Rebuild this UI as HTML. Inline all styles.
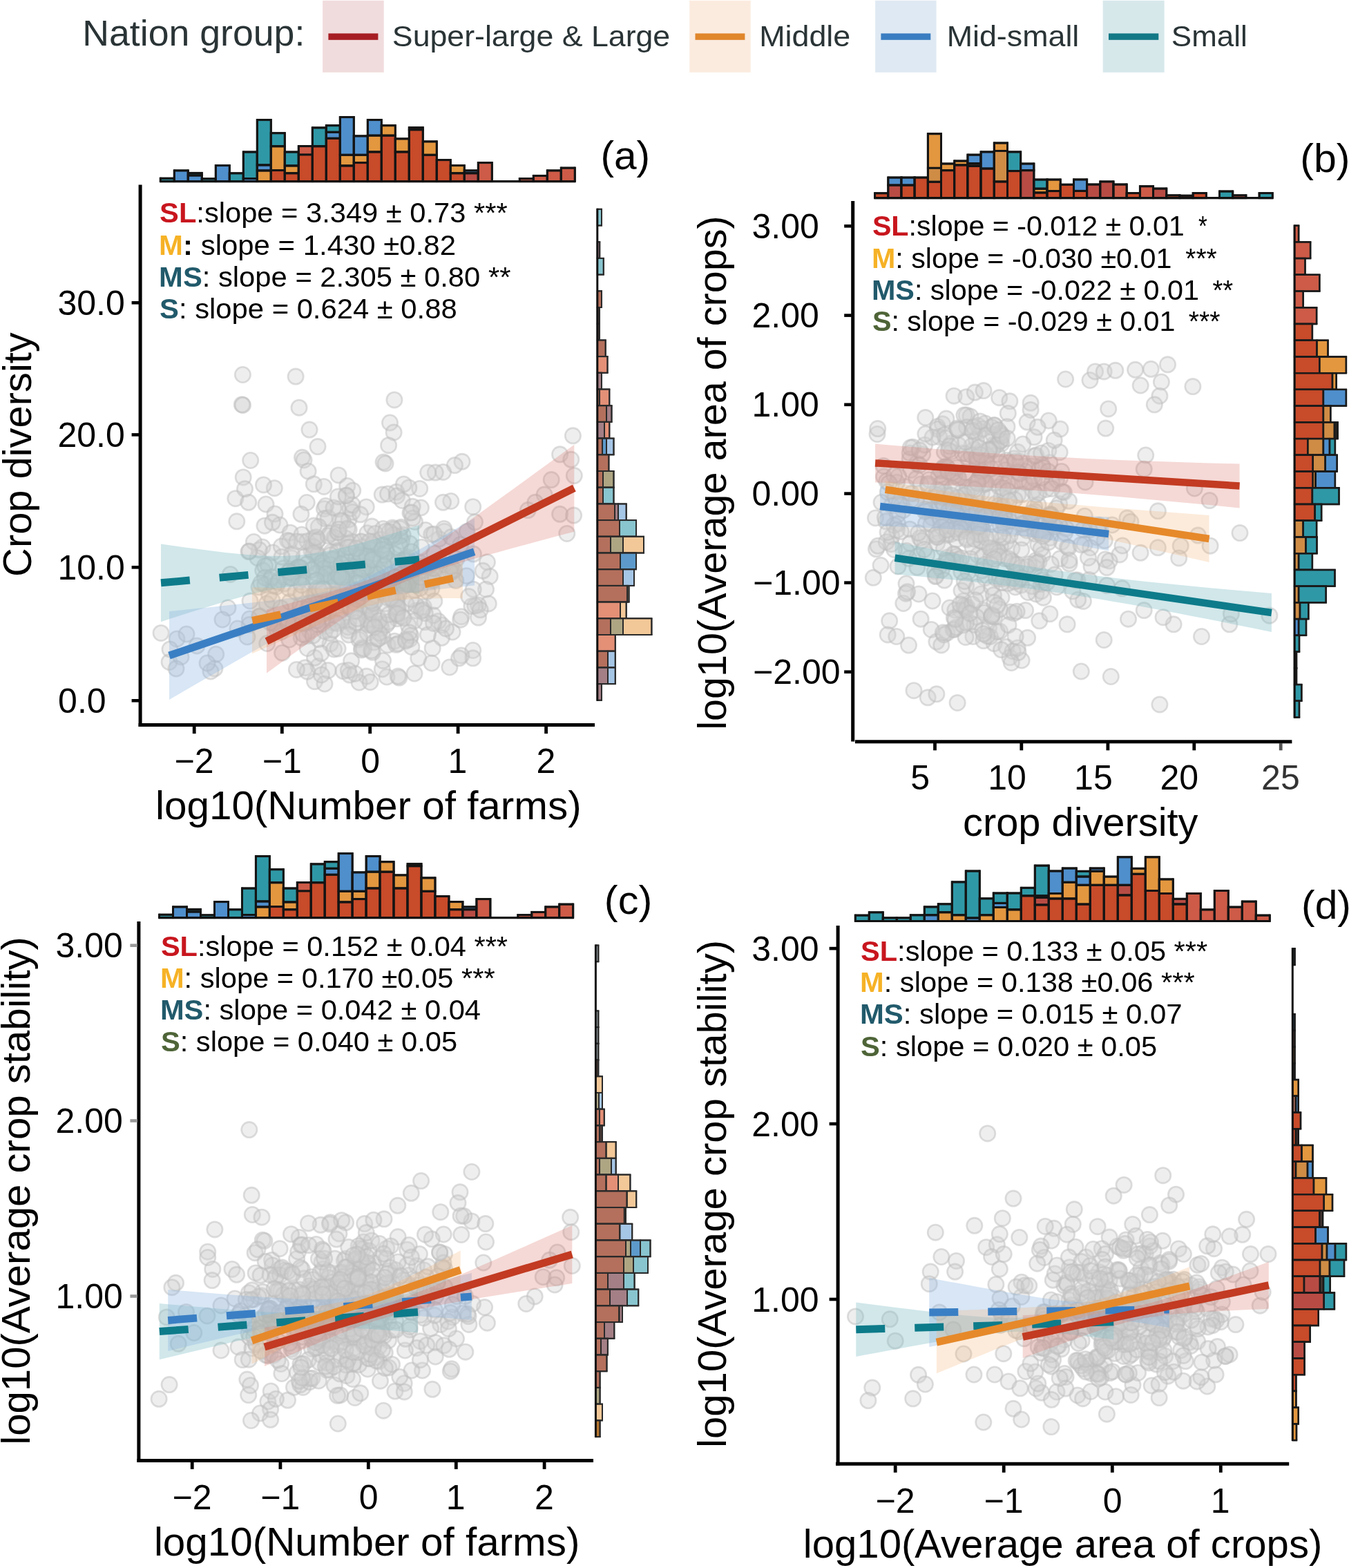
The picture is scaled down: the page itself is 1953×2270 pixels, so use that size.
<!DOCTYPE html>
<html><head><meta charset="utf-8"><title>Crop diversity figure</title>
<style>
html,body{margin:0;padding:0;background:#fff;}
body{width:1953px;height:2270px;overflow:hidden;}
svg{display:block;}
text{white-space:pre;}
</style></head>
<body>
<svg width="1953" height="2270" viewBox="0 0 1953 2270" font-family="'Liberation Sans', Arial, Helvetica, sans-serif">
<rect width="1953" height="2270" fill="#fff"/>
<text transform="translate(119.29 66.00) scale(1.0519 1)" font-size="51.00" fill="#2a3436"><tspan>Nation group:</tspan></text>
<rect x="467.1" y="0.8" width="88.6" height="104" fill="#f1dcdd"/>
<rect x="475.4" y="48.4" width="72.0" height="9.4" fill="#a61e23"/>
<text transform="translate(567.84 66.80) scale(1.0639 1)" font-size="42.00" fill="#2a3436"><tspan>Super-large &amp; Large</tspan></text>
<rect x="998.2" y="0.8" width="88.5" height="104" fill="#fbebdf"/>
<rect x="1006.5" y="48.4" width="71.9" height="9.4" fill="#e0862b"/>
<text transform="translate(1099.20 66.80) scale(1.0673 1)" font-size="42.00" fill="#2a3436"><tspan>Middle</tspan></text>
<rect x="1267.1" y="0.8" width="88.5" height="104" fill="#dfe9f3"/>
<rect x="1275.4" y="48.4" width="71.9" height="9.4" fill="#3a7dc1"/>
<text transform="translate(1370.70 66.80) scale(1.0669 1)" font-size="42.00" fill="#2a3436"><tspan>Mid-small</tspan></text>
<rect x="1596.7" y="0.8" width="88.9" height="104" fill="#d7e8eb"/>
<rect x="1605.0" y="48.4" width="72.3" height="9.4" fill="#127886"/>
<text transform="translate(1695.85 66.80) scale(1.0473 1)" font-size="42.00" fill="#2a3436"><tspan>Small</tspan></text>
<g stroke="#141414" stroke-width="2.90"><rect x="232.30" y="258.20" width="20.00" height="4.40" fill="#2f98a6"/><line x1="232.30" y1="258.20" x2="252.30" y2="258.20"/><line x1="232.30" y1="256.75" x2="232.30" y2="262.60"/><line x1="252.30" y1="256.75" x2="252.30" y2="262.60"/><rect x="252.30" y="246.90" width="20.00" height="15.70" fill="#4f8fcc"/><line x1="252.30" y1="246.90" x2="272.30" y2="246.90"/><line x1="252.30" y1="245.45" x2="252.30" y2="262.60"/><line x1="272.30" y1="245.45" x2="272.30" y2="262.60"/><rect x="272.30" y="250.40" width="20.00" height="3.60" fill="#2f98a6"/><rect x="272.30" y="254.00" width="20.00" height="8.60" fill="#4f8fcc"/><line x1="272.30" y1="250.40" x2="292.30" y2="250.40"/><line x1="272.30" y1="254.00" x2="292.30" y2="254.00"/><line x1="272.30" y1="248.95" x2="272.30" y2="262.60"/><line x1="292.30" y1="248.95" x2="292.30" y2="262.60"/><rect x="292.30" y="258.80" width="20.00" height="3.80" fill="#2f98a6"/><line x1="292.30" y1="258.80" x2="312.30" y2="258.80"/><line x1="292.30" y1="257.35" x2="292.30" y2="262.60"/><line x1="312.30" y1="257.35" x2="312.30" y2="262.60"/><rect x="312.30" y="239.60" width="20.00" height="23.00" fill="#4f8fcc"/><line x1="312.30" y1="239.60" x2="332.30" y2="239.60"/><line x1="312.30" y1="238.15" x2="312.30" y2="262.60"/><line x1="332.30" y1="238.15" x2="332.30" y2="262.60"/><rect x="332.30" y="250.80" width="20.00" height="11.80" fill="#2f98a6"/><line x1="332.30" y1="250.80" x2="352.30" y2="250.80"/><line x1="332.30" y1="249.35" x2="332.30" y2="262.60"/><line x1="352.30" y1="249.35" x2="352.30" y2="262.60"/><rect x="352.30" y="220.00" width="20.00" height="38.50" fill="#2f98a6"/><rect x="352.30" y="258.50" width="20.00" height="4.10" fill="#4f8fcc"/><line x1="352.30" y1="220.00" x2="372.30" y2="220.00"/><line x1="352.30" y1="258.50" x2="372.30" y2="258.50"/><line x1="352.30" y1="218.55" x2="352.30" y2="262.60"/><line x1="372.30" y1="218.55" x2="372.30" y2="262.60"/><rect x="372.30" y="173.60" width="20.00" height="65.40" fill="#2f98a6"/><rect x="372.30" y="239.00" width="20.00" height="8.00" fill="#4f8fcc"/><rect x="372.30" y="247.00" width="20.00" height="15.60" fill="#e3973f"/><line x1="372.30" y1="173.60" x2="392.30" y2="173.60"/><line x1="372.30" y1="239.00" x2="392.30" y2="239.00"/><line x1="372.30" y1="247.00" x2="392.30" y2="247.00"/><line x1="372.30" y1="172.15" x2="372.30" y2="262.60"/><line x1="392.30" y1="172.15" x2="392.30" y2="262.60"/><rect x="392.30" y="192.70" width="20.00" height="19.10" fill="#2f98a6"/><rect x="392.30" y="211.80" width="20.00" height="34.80" fill="#e3973f"/><rect x="392.30" y="246.60" width="20.00" height="16.00" fill="#c84b2a"/><line x1="392.30" y1="192.70" x2="412.30" y2="192.70"/><line x1="392.30" y1="211.80" x2="412.30" y2="211.80"/><line x1="392.30" y1="246.60" x2="412.30" y2="246.60"/><line x1="392.30" y1="191.25" x2="392.30" y2="262.60"/><line x1="412.30" y1="191.25" x2="412.30" y2="262.60"/><rect x="412.30" y="220.00" width="20.00" height="20.00" fill="#2f98a6"/><rect x="412.30" y="240.00" width="20.00" height="10.80" fill="#e3973f"/><rect x="412.30" y="250.80" width="20.00" height="11.80" fill="#c84b2a"/><line x1="412.30" y1="220.00" x2="432.30" y2="220.00"/><line x1="412.30" y1="240.00" x2="432.30" y2="240.00"/><line x1="412.30" y1="250.80" x2="432.30" y2="250.80"/><line x1="412.30" y1="218.55" x2="412.30" y2="262.60"/><line x1="432.30" y1="218.55" x2="432.30" y2="262.60"/><rect x="432.30" y="211.60" width="20.00" height="12.40" fill="#cd5b47"/><rect x="432.30" y="224.00" width="20.00" height="38.60" fill="#c84b2a"/><line x1="432.30" y1="211.60" x2="452.30" y2="211.60"/><line x1="432.30" y1="210.15" x2="432.30" y2="262.60"/><line x1="452.30" y1="210.15" x2="452.30" y2="262.60"/><rect x="452.30" y="184.90" width="20.00" height="26.90" fill="#2f98a6"/><rect x="452.30" y="211.80" width="20.00" height="50.80" fill="#c84b2a"/><line x1="452.30" y1="184.90" x2="472.30" y2="184.90"/><line x1="452.30" y1="211.80" x2="472.30" y2="211.80"/><line x1="452.30" y1="183.45" x2="452.30" y2="262.60"/><line x1="472.30" y1="183.45" x2="472.30" y2="262.60"/><rect x="472.30" y="181.70" width="20.00" height="9.60" fill="#2f98a6"/><rect x="472.30" y="191.30" width="20.00" height="9.00" fill="#4f8fcc"/><rect x="472.30" y="200.30" width="20.00" height="62.30" fill="#c84b2a"/><line x1="472.30" y1="181.70" x2="492.30" y2="181.70"/><line x1="472.30" y1="191.30" x2="492.30" y2="191.30"/><line x1="472.30" y1="200.30" x2="492.30" y2="200.30"/><line x1="472.30" y1="180.25" x2="472.30" y2="262.60"/><line x1="492.30" y1="180.25" x2="492.30" y2="262.60"/><rect x="492.30" y="169.60" width="20.00" height="54.70" fill="#4f8fcc"/><rect x="492.30" y="224.30" width="20.00" height="15.70" fill="#e3973f"/><rect x="492.30" y="240.00" width="20.00" height="22.60" fill="#c84b2a"/><line x1="492.30" y1="169.60" x2="512.30" y2="169.60"/><line x1="492.30" y1="224.30" x2="512.30" y2="224.30"/><line x1="492.30" y1="240.00" x2="512.30" y2="240.00"/><line x1="492.30" y1="168.15" x2="492.30" y2="262.60"/><line x1="512.30" y1="168.15" x2="512.30" y2="262.60"/><rect x="512.30" y="196.90" width="20.00" height="27.40" fill="#4f8fcc"/><rect x="512.30" y="224.30" width="20.00" height="11.30" fill="#e3973f"/><rect x="512.30" y="235.60" width="20.00" height="27.00" fill="#c84b2a"/><line x1="512.30" y1="196.90" x2="532.30" y2="196.90"/><line x1="512.30" y1="224.30" x2="532.30" y2="224.30"/><line x1="512.30" y1="235.60" x2="532.30" y2="235.60"/><line x1="512.30" y1="195.45" x2="512.30" y2="262.60"/><line x1="532.30" y1="195.45" x2="532.30" y2="262.60"/><rect x="532.30" y="173.60" width="20.00" height="22.60" fill="#4f8fcc"/><rect x="532.30" y="196.20" width="20.00" height="23.80" fill="#e3973f"/><rect x="532.30" y="220.00" width="20.00" height="42.60" fill="#c84b2a"/><line x1="532.30" y1="173.60" x2="552.30" y2="173.60"/><line x1="532.30" y1="196.20" x2="552.30" y2="196.20"/><line x1="532.30" y1="220.00" x2="552.30" y2="220.00"/><line x1="532.30" y1="172.15" x2="532.30" y2="262.60"/><line x1="552.30" y1="172.15" x2="552.30" y2="262.60"/><rect x="552.30" y="181.70" width="20.00" height="14.50" fill="#e3973f"/><rect x="552.30" y="196.20" width="20.00" height="66.40" fill="#c84b2a"/><line x1="552.30" y1="181.70" x2="572.30" y2="181.70"/><line x1="552.30" y1="196.20" x2="572.30" y2="196.20"/><line x1="552.30" y1="180.25" x2="552.30" y2="262.60"/><line x1="572.30" y1="180.25" x2="572.30" y2="262.60"/><rect x="572.30" y="200.90" width="20.00" height="19.10" fill="#e3973f"/><rect x="572.30" y="220.00" width="20.00" height="42.60" fill="#c84b2a"/><line x1="572.30" y1="200.90" x2="592.30" y2="200.90"/><line x1="572.30" y1="220.00" x2="592.30" y2="220.00"/><line x1="572.30" y1="199.45" x2="572.30" y2="262.60"/><line x1="592.30" y1="199.45" x2="592.30" y2="262.60"/><rect x="592.30" y="184.70" width="20.00" height="3.10" fill="#e3973f"/><rect x="592.30" y="187.80" width="20.00" height="74.80" fill="#c84b2a"/><line x1="592.30" y1="184.70" x2="612.30" y2="184.70"/><line x1="592.30" y1="187.80" x2="612.30" y2="187.80"/><line x1="592.30" y1="183.25" x2="592.30" y2="262.60"/><line x1="612.30" y1="183.25" x2="612.30" y2="262.60"/><rect x="612.30" y="204.90" width="20.00" height="19.40" fill="#e3973f"/><rect x="612.30" y="224.30" width="20.00" height="38.30" fill="#c84b2a"/><line x1="612.30" y1="204.90" x2="632.30" y2="204.90"/><line x1="612.30" y1="224.30" x2="632.30" y2="224.30"/><line x1="612.30" y1="203.45" x2="612.30" y2="262.60"/><line x1="632.30" y1="203.45" x2="632.30" y2="262.60"/><rect x="632.30" y="231.60" width="20.00" height="31.00" fill="#c84b2a"/><line x1="632.30" y1="231.60" x2="652.30" y2="231.60"/><line x1="632.30" y1="230.15" x2="632.30" y2="262.60"/><line x1="652.30" y1="230.15" x2="652.30" y2="262.60"/><rect x="652.30" y="239.60" width="20.00" height="11.20" fill="#e3973f"/><rect x="652.30" y="250.80" width="20.00" height="11.80" fill="#c84b2a"/><line x1="652.30" y1="239.60" x2="672.30" y2="239.60"/><line x1="652.30" y1="250.80" x2="672.30" y2="250.80"/><line x1="652.30" y1="238.15" x2="652.30" y2="262.60"/><line x1="672.30" y1="238.15" x2="672.30" y2="262.60"/><rect x="672.30" y="246.90" width="20.00" height="3.90" fill="#4f8fcc"/><rect x="672.30" y="250.80" width="20.00" height="11.80" fill="#b84c44"/><line x1="672.30" y1="246.90" x2="692.30" y2="246.90"/><line x1="672.30" y1="250.80" x2="692.30" y2="250.80"/><line x1="672.30" y1="245.45" x2="672.30" y2="262.60"/><line x1="692.30" y1="245.45" x2="692.30" y2="262.60"/><rect x="692.30" y="235.60" width="20.00" height="27.00" fill="#cd5b47"/><line x1="692.30" y1="235.60" x2="712.30" y2="235.60"/><line x1="692.30" y1="234.15" x2="692.30" y2="262.60"/><line x1="712.30" y1="234.15" x2="712.30" y2="262.60"/><rect x="752.30" y="258.60" width="20.00" height="4.00" fill="#cd5b47"/><line x1="752.30" y1="258.60" x2="772.30" y2="258.60"/><line x1="752.30" y1="257.15" x2="752.30" y2="262.60"/><line x1="772.30" y1="257.15" x2="772.30" y2="262.60"/><rect x="772.30" y="254.40" width="20.00" height="8.20" fill="#cd5b47"/><line x1="772.30" y1="254.40" x2="792.30" y2="254.40"/><line x1="772.30" y1="252.95" x2="772.30" y2="262.60"/><line x1="792.30" y1="252.95" x2="792.30" y2="262.60"/><rect x="792.30" y="246.90" width="20.00" height="15.70" fill="#cd5b47"/><line x1="792.30" y1="246.90" x2="812.30" y2="246.90"/><line x1="792.30" y1="245.45" x2="792.30" y2="262.60"/><line x1="812.30" y1="245.45" x2="812.30" y2="262.60"/><rect x="812.30" y="243.10" width="20.00" height="19.50" fill="#cd5b47"/><line x1="812.30" y1="243.10" x2="832.30" y2="243.10"/><line x1="812.30" y1="241.65" x2="812.30" y2="262.60"/><line x1="832.30" y1="241.65" x2="832.30" y2="262.60"/></g>
<line x1="231.30" y1="262.60" x2="833.30" y2="262.60" stroke="#111" stroke-width="3.2"/>
<g stroke="#2a2a2a" stroke-width="2.00"><rect x="864.80" y="302.80" width="6.20" height="23.70" fill="#88c5cf"/><line x1="871.00" y1="302.80" x2="871.00" y2="326.50"/><line x1="864.80" y1="302.80" x2="872.00" y2="302.80"/><line x1="864.80" y1="326.50" x2="872.00" y2="326.50"/><rect x="864.80" y="350.20" width="3.40" height="23.70" fill="#a47f86"/><line x1="868.20" y1="350.20" x2="868.20" y2="373.90"/><line x1="864.80" y1="350.20" x2="869.20" y2="350.20"/><line x1="864.80" y1="373.90" x2="869.20" y2="373.90"/><rect x="864.80" y="373.90" width="9.00" height="23.70" fill="#88c5cf"/><line x1="873.80" y1="373.90" x2="873.80" y2="397.60"/><line x1="864.80" y1="373.90" x2="874.80" y2="373.90"/><line x1="864.80" y1="397.60" x2="874.80" y2="397.60"/><rect x="864.80" y="421.30" width="6.20" height="23.70" fill="#b4705c"/><line x1="871.00" y1="421.30" x2="871.00" y2="445.00"/><line x1="864.80" y1="421.30" x2="872.00" y2="421.30"/><line x1="864.80" y1="445.00" x2="872.00" y2="445.00"/><rect x="864.80" y="445.00" width="3.20" height="23.70" fill="#4a3a35"/><line x1="868.00" y1="445.00" x2="868.00" y2="468.70"/><line x1="864.80" y1="445.00" x2="869.00" y2="445.00"/><line x1="864.80" y1="468.70" x2="869.00" y2="468.70"/><rect x="864.80" y="468.70" width="3.20" height="23.70" fill="#4a3a35"/><line x1="868.00" y1="468.70" x2="868.00" y2="492.40"/><line x1="864.80" y1="468.70" x2="869.00" y2="468.70"/><line x1="864.80" y1="492.40" x2="869.00" y2="492.40"/><rect x="864.80" y="492.40" width="11.90" height="23.70" fill="#b4705c"/><line x1="876.70" y1="492.40" x2="876.70" y2="516.10"/><line x1="864.80" y1="492.40" x2="877.70" y2="492.40"/><line x1="864.80" y1="516.10" x2="877.70" y2="516.10"/><rect x="864.80" y="516.10" width="14.70" height="23.70" fill="#e39077"/><line x1="879.50" y1="516.10" x2="879.50" y2="539.80"/><line x1="864.80" y1="516.10" x2="880.50" y2="516.10"/><line x1="864.80" y1="539.80" x2="880.50" y2="539.80"/><rect x="864.80" y="539.80" width="6.20" height="23.70" fill="#a47f86"/><line x1="871.00" y1="539.80" x2="871.00" y2="563.50"/><line x1="864.80" y1="539.80" x2="872.00" y2="539.80"/><line x1="864.80" y1="563.50" x2="872.00" y2="563.50"/><rect x="864.80" y="563.50" width="3.20" height="23.70" fill="#b4705c"/><rect x="868.00" y="563.50" width="14.30" height="23.70" fill="#e39077"/><line x1="868.00" y1="563.50" x2="868.00" y2="587.20"/><line x1="882.30" y1="563.50" x2="882.30" y2="587.20"/><line x1="864.80" y1="563.50" x2="883.30" y2="563.50"/><line x1="864.80" y1="587.20" x2="883.30" y2="587.20"/><rect x="864.80" y="587.20" width="13.20" height="23.70" fill="#b4705c"/><rect x="878.00" y="587.20" width="7.50" height="23.70" fill="#a47f86"/><line x1="878.00" y1="587.20" x2="878.00" y2="610.90"/><line x1="885.50" y1="587.20" x2="885.50" y2="610.90"/><line x1="864.80" y1="587.20" x2="886.50" y2="587.20"/><line x1="864.80" y1="610.90" x2="886.50" y2="610.90"/><rect x="864.80" y="610.90" width="10.20" height="23.70" fill="#a47f86"/><rect x="875.00" y="610.90" width="7.30" height="23.70" fill="#e39077"/><line x1="875.00" y1="610.90" x2="875.00" y2="634.60"/><line x1="882.30" y1="610.90" x2="882.30" y2="634.60"/><line x1="864.80" y1="610.90" x2="883.30" y2="610.90"/><line x1="864.80" y1="634.60" x2="883.30" y2="634.60"/><rect x="864.80" y="634.60" width="7.20" height="23.70" fill="#b4705c"/><rect x="872.00" y="634.60" width="6.00" height="23.70" fill="#5d9acb"/><rect x="878.00" y="634.60" width="10.50" height="23.70" fill="#a6c6e6"/><line x1="872.00" y1="634.60" x2="872.00" y2="658.30"/><line x1="878.00" y1="634.60" x2="878.00" y2="658.30"/><line x1="888.50" y1="634.60" x2="888.50" y2="658.30"/><line x1="864.80" y1="634.60" x2="889.50" y2="634.60"/><line x1="864.80" y1="658.30" x2="889.50" y2="658.30"/><rect x="864.80" y="658.30" width="16.60" height="23.70" fill="#b4705c"/><line x1="881.40" y1="658.30" x2="881.40" y2="682.00"/><line x1="864.80" y1="658.30" x2="882.40" y2="658.30"/><line x1="864.80" y1="682.00" x2="882.40" y2="682.00"/><rect x="864.80" y="682.00" width="8.20" height="23.70" fill="#b4705c"/><rect x="873.00" y="682.00" width="15.50" height="23.70" fill="#aea583"/><line x1="873.00" y1="682.00" x2="873.00" y2="705.70"/><line x1="888.50" y1="682.00" x2="888.50" y2="705.70"/><line x1="864.80" y1="682.00" x2="889.50" y2="682.00"/><line x1="864.80" y1="705.70" x2="889.50" y2="705.70"/><rect x="864.80" y="705.70" width="8.20" height="23.70" fill="#b4705c"/><rect x="873.00" y="705.70" width="15.50" height="23.70" fill="#88c5cf"/><line x1="873.00" y1="705.70" x2="873.00" y2="729.40"/><line x1="888.50" y1="705.70" x2="888.50" y2="729.40"/><line x1="864.80" y1="705.70" x2="889.50" y2="705.70"/><line x1="864.80" y1="729.40" x2="889.50" y2="729.40"/><rect x="864.80" y="729.40" width="25.20" height="23.70" fill="#b4705c"/><rect x="890.00" y="729.40" width="5.00" height="23.70" fill="#a47f86"/><rect x="895.00" y="729.40" width="11.70" height="23.70" fill="#a6c6e6"/><line x1="890.00" y1="729.40" x2="890.00" y2="753.10"/><line x1="895.00" y1="729.40" x2="895.00" y2="753.10"/><line x1="906.70" y1="729.40" x2="906.70" y2="753.10"/><line x1="864.80" y1="729.40" x2="907.70" y2="729.40"/><line x1="864.80" y1="753.10" x2="907.70" y2="753.10"/><rect x="864.80" y="753.10" width="32.20" height="23.70" fill="#b4705c"/><rect x="897.00" y="753.10" width="24.00" height="23.70" fill="#88c5cf"/><line x1="897.00" y1="753.10" x2="897.00" y2="776.80"/><line x1="921.00" y1="753.10" x2="921.00" y2="776.80"/><line x1="864.80" y1="753.10" x2="922.00" y2="753.10"/><line x1="864.80" y1="776.80" x2="922.00" y2="776.80"/><rect x="864.80" y="776.80" width="19.20" height="23.70" fill="#b4705c"/><rect x="884.00" y="776.80" width="18.00" height="23.70" fill="#aea583"/><rect x="902.00" y="776.80" width="30.00" height="23.70" fill="#f3c898"/><line x1="884.00" y1="776.80" x2="884.00" y2="800.50"/><line x1="902.00" y1="776.80" x2="902.00" y2="800.50"/><line x1="932.00" y1="776.80" x2="932.00" y2="800.50"/><line x1="864.80" y1="776.80" x2="933.00" y2="776.80"/><line x1="864.80" y1="800.50" x2="933.00" y2="800.50"/><rect x="864.80" y="800.50" width="33.20" height="23.70" fill="#b4705c"/><rect x="898.00" y="800.50" width="23.00" height="23.70" fill="#5d9acb"/><line x1="898.00" y1="800.50" x2="898.00" y2="824.20"/><line x1="921.00" y1="800.50" x2="921.00" y2="824.20"/><line x1="864.80" y1="800.50" x2="922.00" y2="800.50"/><line x1="864.80" y1="824.20" x2="922.00" y2="824.20"/><rect x="864.80" y="824.20" width="37.20" height="23.70" fill="#b4705c"/><rect x="902.00" y="824.20" width="16.00" height="23.70" fill="#a6c6e6"/><line x1="902.00" y1="824.20" x2="902.00" y2="847.90"/><line x1="918.00" y1="824.20" x2="918.00" y2="847.90"/><line x1="864.80" y1="824.20" x2="919.00" y2="824.20"/><line x1="864.80" y1="847.90" x2="919.00" y2="847.90"/><rect x="864.80" y="847.90" width="43.20" height="23.70" fill="#b4705c"/><rect x="908.00" y="847.90" width="2.50" height="23.70" fill="#aea583"/><line x1="908.00" y1="847.90" x2="908.00" y2="871.60"/><line x1="910.50" y1="847.90" x2="910.50" y2="871.60"/><line x1="864.80" y1="847.90" x2="911.50" y2="847.90"/><line x1="864.80" y1="871.60" x2="911.50" y2="871.60"/><rect x="864.80" y="871.60" width="33.20" height="23.70" fill="#e39077"/><rect x="898.00" y="871.60" width="8.70" height="23.70" fill="#f3c898"/><line x1="898.00" y1="871.60" x2="898.00" y2="895.30"/><line x1="906.70" y1="871.60" x2="906.70" y2="895.30"/><line x1="864.80" y1="871.60" x2="907.70" y2="871.60"/><line x1="864.80" y1="895.30" x2="907.70" y2="895.30"/><rect x="864.80" y="895.30" width="19.20" height="23.70" fill="#b4705c"/><rect x="884.00" y="895.30" width="18.00" height="23.70" fill="#aea583"/><rect x="902.00" y="895.30" width="41.40" height="23.70" fill="#f3c898"/><line x1="884.00" y1="895.30" x2="884.00" y2="919.00"/><line x1="902.00" y1="895.30" x2="902.00" y2="919.00"/><line x1="943.40" y1="895.30" x2="943.40" y2="919.00"/><line x1="864.80" y1="895.30" x2="944.40" y2="895.30"/><line x1="864.80" y1="919.00" x2="944.40" y2="919.00"/><rect x="864.80" y="919.00" width="26.00" height="23.70" fill="#e39077"/><line x1="890.80" y1="919.00" x2="890.80" y2="942.70"/><line x1="864.80" y1="919.00" x2="891.80" y2="919.00"/><line x1="864.80" y1="942.70" x2="891.80" y2="942.70"/><rect x="864.80" y="942.70" width="15.20" height="23.70" fill="#b4705c"/><rect x="880.00" y="942.70" width="10.80" height="23.70" fill="#a6c6e6"/><line x1="880.00" y1="942.70" x2="880.00" y2="966.40"/><line x1="890.80" y1="942.70" x2="890.80" y2="966.40"/><line x1="864.80" y1="942.70" x2="891.80" y2="942.70"/><line x1="864.80" y1="966.40" x2="891.80" y2="966.40"/><rect x="864.80" y="966.40" width="15.20" height="23.70" fill="#a47f86"/><rect x="880.00" y="966.40" width="10.80" height="23.70" fill="#a6c6e6"/><line x1="880.00" y1="966.40" x2="880.00" y2="990.10"/><line x1="890.80" y1="966.40" x2="890.80" y2="990.10"/><line x1="864.80" y1="966.40" x2="891.80" y2="966.40"/><line x1="864.80" y1="990.10" x2="891.80" y2="990.10"/><rect x="864.80" y="990.10" width="6.20" height="23.70" fill="#a47f86"/><line x1="871.00" y1="990.10" x2="871.00" y2="1013.80"/><line x1="864.80" y1="990.10" x2="872.00" y2="990.10"/><line x1="864.80" y1="1013.80" x2="872.00" y2="1013.80"/></g>
<line x1="864.80" y1="301.80" x2="864.80" y2="1014.80" stroke="#111" stroke-width="3"/>
<g fill="#cfcfcf" fill-opacity="0.36" stroke="#bdbdbd" stroke-opacity="0.5" stroke-width="2.6"><circle cx="351.4" cy="542.5" r="11.2"/><circle cx="428.1" cy="545.1" r="11.2"/><circle cx="350.3" cy="585.7" r="11.2"/><circle cx="351.5" cy="586.5" r="11.2"/><circle cx="433.0" cy="590.2" r="11.2"/><circle cx="570.9" cy="578.9" r="11.2"/><circle cx="448.0" cy="622.1" r="11.2"/><circle cx="564.5" cy="612.0" r="11.2"/><circle cx="570.1" cy="625.9" r="11.2"/><circle cx="562.6" cy="644.7" r="11.2"/><circle cx="555.1" cy="669.1" r="11.2"/><circle cx="558.0" cy="671.0" r="11.2"/><circle cx="460.0" cy="646.6" r="11.2"/><circle cx="437.5" cy="662.3" r="11.2"/><circle cx="440.0" cy="666.0" r="11.2"/><circle cx="362.7" cy="666.5" r="11.2"/><circle cx="446.1" cy="682.2" r="11.2"/><circle cx="352.2" cy="690.9" r="11.2"/><circle cx="490.1" cy="687.9" r="11.2"/><circle cx="669.0" cy="668.3" r="11.2"/><circle cx="658.4" cy="673.6" r="11.2"/><circle cx="641.5" cy="683.4" r="11.2"/><circle cx="630.3" cy="684.1" r="11.2"/><circle cx="619.7" cy="684.1" r="11.2"/><circle cx="829.4" cy="630.8" r="11.2"/><circle cx="810.6" cy="657.8" r="11.2"/><circle cx="826.8" cy="665.3" r="11.2"/><circle cx="831.3" cy="688.6" r="11.2"/><circle cx="798.2" cy="694.6" r="11.2"/><circle cx="788.1" cy="716.1" r="11.2"/><circle cx="774.9" cy="727.3" r="11.2"/><circle cx="764.4" cy="738.6" r="11.2"/><circle cx="810.6" cy="744.3" r="11.2"/><circle cx="830.6" cy="746.1" r="11.2"/><circle cx="820.8" cy="772.4" r="11.2"/><circle cx="684.7" cy="733.7" r="11.2"/><circle cx="652.8" cy="725.5" r="11.2"/><circle cx="641.5" cy="727.3" r="11.2"/><circle cx="607.7" cy="707.4" r="11.2"/><circle cx="591.9" cy="705.9" r="11.2"/><circle cx="573.9" cy="712.3" r="11.2"/><circle cx="553.2" cy="716.1" r="11.2"/><circle cx="397.3" cy="706.7" r="11.2"/><circle cx="340.9" cy="721.7" r="11.2"/><circle cx="359.7" cy="727.3" r="11.2"/><circle cx="342.8" cy="754.8" r="11.2"/><circle cx="705.4" cy="813.8" r="11.2"/><circle cx="709.2" cy="834.4" r="11.2"/><circle cx="703.5" cy="853.2" r="11.2"/><circle cx="707.3" cy="873.9" r="11.2"/><circle cx="692.3" cy="875.8" r="11.2"/><circle cx="682.9" cy="877.6" r="11.2"/><circle cx="667.8" cy="892.7" r="11.2"/><circle cx="233.1" cy="916.4" r="11.2"/><circle cx="245.1" cy="958.4" r="11.2"/><circle cx="262.0" cy="950.9" r="11.2"/><circle cx="310.9" cy="967.8" r="11.2"/><circle cx="312.7" cy="947.2" r="11.2"/><circle cx="305.0" cy="972.0" r="11.2"/><circle cx="684.7" cy="941.5" r="11.2"/><circle cx="684.7" cy="952.8" r="11.2"/><circle cx="667.8" cy="949.0" r="11.2"/><circle cx="650.9" cy="966.0" r="11.2"/><circle cx="605.8" cy="952.8" r="11.2"/><circle cx="455.5" cy="986.6" r="11.2"/><circle cx="530.7" cy="979.1" r="11.2"/><circle cx="496.9" cy="971.6" r="11.2"/><circle cx="256.0" cy="925.0" r="11.2"/><circle cx="270.0" cy="918.0" r="11.2"/><circle cx="246.0" cy="940.0" r="11.2"/><circle cx="285.0" cy="935.0" r="11.2"/><circle cx="300.0" cy="960.0" r="11.2"/><circle cx="255.0" cy="968.0" r="11.2"/><circle cx="385.0" cy="730.0" r="11.2"/><circle cx="398.0" cy="744.0" r="11.2"/><circle cx="405.0" cy="760.0" r="11.2"/><circle cx="380.0" cy="792.0" r="11.2"/><circle cx="395.0" cy="800.0" r="11.2"/><circle cx="375.0" cy="850.0" r="11.2"/><circle cx="362.0" cy="870.0" r="11.2"/><circle cx="330.0" cy="880.0" r="11.2"/><circle cx="322.0" cy="897.0" r="11.2"/><circle cx="344.0" cy="910.0" r="11.2"/><circle cx="358.0" cy="922.0" r="11.2"/><circle cx="470.0" cy="990.0" r="11.2"/><circle cx="520.0" cy="988.0" r="11.2"/><circle cx="560.0" cy="980.0" r="11.2"/><circle cx="600.0" cy="975.0" r="11.2"/><circle cx="625.0" cy="960.0" r="11.2"/><circle cx="640.0" cy="905.0" r="11.2"/><circle cx="655.0" cy="915.0" r="11.2"/><circle cx="419.5" cy="871.3" r="11.2"/><circle cx="592.6" cy="811.3" r="11.2"/><circle cx="411.3" cy="845.1" r="11.2"/><circle cx="552.3" cy="909.4" r="11.2"/><circle cx="420.2" cy="771.2" r="11.2"/><circle cx="570.1" cy="871.3" r="11.2"/><circle cx="634.6" cy="899.3" r="11.2"/><circle cx="507.1" cy="828.9" r="11.2"/><circle cx="453.8" cy="779.1" r="11.2"/><circle cx="522.4" cy="853.4" r="11.2"/><circle cx="488.1" cy="842.3" r="11.2"/><circle cx="536.3" cy="885.7" r="11.2"/><circle cx="600.6" cy="854.3" r="11.2"/><circle cx="375.4" cy="892.4" r="11.2"/><circle cx="404.3" cy="839.0" r="11.2"/><circle cx="400.0" cy="849.5" r="11.2"/><circle cx="454.3" cy="860.2" r="11.2"/><circle cx="580.7" cy="763.2" r="11.2"/><circle cx="492.5" cy="885.6" r="11.2"/><circle cx="507.8" cy="867.5" r="11.2"/><circle cx="523.1" cy="784.4" r="11.2"/><circle cx="559.0" cy="794.6" r="11.2"/><circle cx="661.0" cy="809.1" r="11.2"/><circle cx="568.5" cy="843.1" r="11.2"/><circle cx="589.3" cy="806.1" r="11.2"/><circle cx="592.9" cy="834.6" r="11.2"/><circle cx="613.5" cy="878.6" r="11.2"/><circle cx="526.0" cy="797.8" r="11.2"/><circle cx="574.9" cy="870.8" r="11.2"/><circle cx="643.1" cy="817.5" r="11.2"/><circle cx="558.3" cy="873.8" r="11.2"/><circle cx="537.1" cy="856.6" r="11.2"/><circle cx="529.2" cy="808.6" r="11.2"/><circle cx="435.9" cy="824.3" r="11.2"/><circle cx="561.1" cy="933.8" r="11.2"/><circle cx="591.2" cy="905.2" r="11.2"/><circle cx="575.6" cy="884.5" r="11.2"/><circle cx="529.3" cy="890.7" r="11.2"/><circle cx="653.3" cy="820.0" r="11.2"/><circle cx="460.9" cy="964.5" r="11.2"/><circle cx="534.1" cy="902.5" r="11.2"/><circle cx="583.2" cy="774.3" r="11.2"/><circle cx="528.8" cy="889.6" r="11.2"/><circle cx="524.9" cy="791.6" r="11.2"/><circle cx="506.3" cy="867.8" r="11.2"/><circle cx="602.0" cy="884.2" r="11.2"/><circle cx="519.6" cy="926.0" r="11.2"/><circle cx="455.7" cy="894.8" r="11.2"/><circle cx="601.8" cy="824.2" r="11.2"/><circle cx="375.3" cy="796.1" r="11.2"/><circle cx="533.5" cy="875.9" r="11.2"/><circle cx="635.8" cy="780.2" r="11.2"/><circle cx="515.2" cy="883.9" r="11.2"/><circle cx="502.7" cy="703.5" r="11.2"/><circle cx="577.9" cy="981.1" r="11.2"/><circle cx="593.3" cy="787.0" r="11.2"/><circle cx="482.8" cy="859.5" r="11.2"/><circle cx="523.9" cy="938.0" r="11.2"/><circle cx="508.6" cy="956.8" r="11.2"/><circle cx="461.6" cy="818.6" r="11.2"/><circle cx="571.2" cy="928.2" r="11.2"/><circle cx="566.0" cy="861.1" r="11.2"/><circle cx="372.9" cy="807.7" r="11.2"/><circle cx="467.4" cy="814.9" r="11.2"/><circle cx="560.7" cy="823.2" r="11.2"/><circle cx="576.4" cy="847.6" r="11.2"/><circle cx="489.0" cy="853.1" r="11.2"/><circle cx="548.4" cy="895.1" r="11.2"/><circle cx="477.8" cy="832.5" r="11.2"/><circle cx="408.6" cy="945.2" r="11.2"/><circle cx="628.2" cy="829.9" r="11.2"/><circle cx="477.7" cy="772.4" r="11.2"/><circle cx="528.3" cy="856.9" r="11.2"/><circle cx="685.2" cy="853.2" r="11.2"/><circle cx="454.3" cy="700.8" r="11.2"/><circle cx="624.9" cy="852.1" r="11.2"/><circle cx="389.5" cy="860.6" r="11.2"/><circle cx="602.3" cy="875.9" r="11.2"/><circle cx="501.3" cy="717.3" r="11.2"/><circle cx="505.1" cy="752.2" r="11.2"/><circle cx="561.5" cy="715.0" r="11.2"/><circle cx="444.2" cy="920.8" r="11.2"/><circle cx="643.2" cy="769.3" r="11.2"/><circle cx="395.4" cy="902.3" r="11.2"/><circle cx="581.5" cy="783.3" r="11.2"/><circle cx="460.8" cy="805.5" r="11.2"/><circle cx="422.2" cy="807.8" r="11.2"/><circle cx="612.6" cy="882.6" r="11.2"/><circle cx="675.4" cy="833.7" r="11.2"/><circle cx="504.4" cy="786.5" r="11.2"/><circle cx="505.3" cy="766.7" r="11.2"/><circle cx="376.4" cy="892.1" r="11.2"/><circle cx="627.3" cy="890.8" r="11.2"/><circle cx="618.9" cy="856.1" r="11.2"/><circle cx="459.0" cy="852.3" r="11.2"/><circle cx="485.8" cy="779.5" r="11.2"/><circle cx="383.0" cy="761.2" r="11.2"/><circle cx="514.6" cy="854.0" r="11.2"/><circle cx="478.0" cy="932.1" r="11.2"/><circle cx="529.0" cy="879.4" r="11.2"/><circle cx="610.1" cy="792.2" r="11.2"/><circle cx="361.4" cy="896.0" r="11.2"/><circle cx="461.3" cy="925.6" r="11.2"/><circle cx="541.3" cy="904.3" r="11.2"/><circle cx="574.6" cy="718.0" r="11.2"/><circle cx="571.1" cy="802.5" r="11.2"/><circle cx="456.0" cy="821.2" r="11.2"/><circle cx="574.9" cy="895.7" r="11.2"/><circle cx="593.9" cy="742.5" r="11.2"/><circle cx="468.9" cy="704.4" r="11.2"/><circle cx="507.0" cy="881.3" r="11.2"/><circle cx="455.4" cy="862.0" r="11.2"/><circle cx="533.0" cy="904.7" r="11.2"/><circle cx="450.9" cy="797.8" r="11.2"/><circle cx="455.5" cy="952.3" r="11.2"/><circle cx="600.1" cy="834.3" r="11.2"/><circle cx="532.6" cy="851.2" r="11.2"/><circle cx="530.8" cy="831.9" r="11.2"/><circle cx="488.9" cy="770.7" r="11.2"/><circle cx="464.9" cy="945.8" r="11.2"/><circle cx="556.9" cy="847.3" r="11.2"/><circle cx="498.2" cy="849.4" r="11.2"/><circle cx="542.6" cy="805.2" r="11.2"/><circle cx="530.3" cy="858.8" r="11.2"/><circle cx="456.6" cy="800.0" r="11.2"/><circle cx="437.1" cy="784.3" r="11.2"/><circle cx="584.4" cy="700.9" r="11.2"/><circle cx="494.2" cy="809.2" r="11.2"/><circle cx="466.7" cy="852.7" r="11.2"/><circle cx="603.0" cy="846.2" r="11.2"/><circle cx="504.1" cy="808.7" r="11.2"/><circle cx="504.9" cy="900.0" r="11.2"/><circle cx="484.3" cy="777.5" r="11.2"/><circle cx="416.4" cy="782.5" r="11.2"/><circle cx="406.6" cy="915.0" r="11.2"/><circle cx="542.7" cy="829.7" r="11.2"/><circle cx="628.8" cy="801.2" r="11.2"/><circle cx="573.7" cy="890.7" r="11.2"/><circle cx="394.4" cy="756.3" r="11.2"/><circle cx="442.7" cy="902.1" r="11.2"/><circle cx="616.1" cy="767.5" r="11.2"/><circle cx="596.8" cy="818.9" r="11.2"/><circle cx="484.3" cy="813.2" r="11.2"/><circle cx="489.7" cy="737.0" r="11.2"/><circle cx="436.9" cy="774.0" r="11.2"/><circle cx="553.3" cy="968.7" r="11.2"/><circle cx="380.7" cy="825.8" r="11.2"/><circle cx="441.7" cy="966.7" r="11.2"/><circle cx="559.5" cy="799.6" r="11.2"/><circle cx="588.0" cy="874.3" r="11.2"/><circle cx="388.2" cy="818.0" r="11.2"/><circle cx="496.3" cy="846.9" r="11.2"/><circle cx="525.3" cy="824.3" r="11.2"/><circle cx="529.8" cy="809.3" r="11.2"/><circle cx="445.1" cy="938.5" r="11.2"/><circle cx="543.1" cy="870.2" r="11.2"/><circle cx="390.6" cy="839.8" r="11.2"/><circle cx="578.9" cy="765.2" r="11.2"/><circle cx="600.6" cy="818.4" r="11.2"/><circle cx="546.4" cy="835.8" r="11.2"/><circle cx="532.0" cy="916.5" r="11.2"/><circle cx="483.5" cy="940.0" r="11.2"/><circle cx="454.0" cy="791.5" r="11.2"/><circle cx="570.5" cy="779.0" r="11.2"/><circle cx="486.1" cy="900.5" r="11.2"/><circle cx="609.4" cy="735.0" r="11.2"/><circle cx="554.5" cy="956.4" r="11.2"/><circle cx="608.2" cy="827.0" r="11.2"/><circle cx="468.2" cy="829.0" r="11.2"/><circle cx="425.1" cy="832.6" r="11.2"/><circle cx="500.4" cy="836.8" r="11.2"/><circle cx="607.2" cy="827.7" r="11.2"/><circle cx="401.3" cy="912.4" r="11.2"/><circle cx="431.3" cy="821.4" r="11.2"/><circle cx="504.6" cy="824.8" r="11.2"/><circle cx="436.8" cy="833.1" r="11.2"/><circle cx="685.4" cy="802.1" r="11.2"/><circle cx="504.4" cy="912.8" r="11.2"/><circle cx="573.1" cy="888.5" r="11.2"/><circle cx="582.2" cy="724.5" r="11.2"/><circle cx="447.6" cy="855.3" r="11.2"/><circle cx="553.9" cy="921.1" r="11.2"/><circle cx="551.6" cy="829.3" r="11.2"/><circle cx="518.1" cy="832.2" r="11.2"/><circle cx="534.3" cy="884.7" r="11.2"/><circle cx="488.5" cy="797.3" r="11.2"/><circle cx="448.3" cy="913.3" r="11.2"/><circle cx="614.9" cy="900.6" r="11.2"/><circle cx="581.8" cy="892.4" r="11.2"/><circle cx="514.8" cy="884.8" r="11.2"/><circle cx="432.9" cy="836.0" r="11.2"/><circle cx="457.8" cy="890.8" r="11.2"/><circle cx="469.8" cy="840.3" r="11.2"/><circle cx="546.2" cy="925.0" r="11.2"/><circle cx="453.2" cy="791.1" r="11.2"/><circle cx="578.7" cy="776.2" r="11.2"/><circle cx="550.3" cy="809.5" r="11.2"/><circle cx="506.8" cy="736.2" r="11.2"/><circle cx="570.6" cy="812.9" r="11.2"/><circle cx="444.9" cy="972.2" r="11.2"/><circle cx="546.8" cy="822.9" r="11.2"/><circle cx="523.4" cy="941.0" r="11.2"/><circle cx="512.9" cy="872.1" r="11.2"/><circle cx="555.3" cy="788.9" r="11.2"/><circle cx="525.1" cy="814.5" r="11.2"/><circle cx="417.9" cy="901.0" r="11.2"/><circle cx="566.9" cy="847.5" r="11.2"/><circle cx="444.2" cy="727.5" r="11.2"/><circle cx="552.9" cy="837.7" r="11.2"/><circle cx="383.7" cy="846.4" r="11.2"/><circle cx="396.3" cy="848.0" r="11.2"/><circle cx="526.2" cy="865.8" r="11.2"/><circle cx="531.9" cy="854.6" r="11.2"/><circle cx="426.1" cy="825.4" r="11.2"/><circle cx="475.1" cy="832.4" r="11.2"/><circle cx="536.1" cy="881.3" r="11.2"/><circle cx="546.3" cy="831.9" r="11.2"/><circle cx="692.5" cy="894.1" r="11.2"/><circle cx="386.1" cy="874.0" r="11.2"/><circle cx="474.4" cy="906.1" r="11.2"/><circle cx="432.7" cy="842.1" r="11.2"/><circle cx="504.7" cy="839.6" r="11.2"/><circle cx="469.4" cy="736.6" r="11.2"/><circle cx="550.9" cy="903.5" r="11.2"/><circle cx="509.7" cy="784.2" r="11.2"/><circle cx="530.8" cy="878.3" r="11.2"/><circle cx="501.3" cy="844.7" r="11.2"/><circle cx="624.9" cy="773.7" r="11.2"/><circle cx="471.5" cy="732.5" r="11.2"/><circle cx="460.4" cy="802.8" r="11.2"/><circle cx="440.1" cy="806.3" r="11.2"/><circle cx="655.2" cy="827.8" r="11.2"/><circle cx="506.1" cy="977.1" r="11.2"/><circle cx="510.3" cy="741.3" r="11.2"/><circle cx="546.4" cy="787.6" r="11.2"/><circle cx="642.8" cy="765.4" r="11.2"/><circle cx="469.7" cy="750.5" r="11.2"/><circle cx="522.6" cy="783.8" r="11.2"/><circle cx="509.9" cy="822.6" r="11.2"/><circle cx="467.2" cy="903.4" r="11.2"/><circle cx="588.0" cy="845.9" r="11.2"/><circle cx="444.8" cy="783.6" r="11.2"/><circle cx="536.1" cy="987.5" r="11.2"/><circle cx="479.4" cy="799.3" r="11.2"/><circle cx="460.6" cy="781.5" r="11.2"/><circle cx="439.2" cy="835.6" r="11.2"/><circle cx="626.8" cy="840.6" r="11.2"/><circle cx="475.2" cy="749.8" r="11.2"/><circle cx="531.6" cy="842.8" r="11.2"/><circle cx="419.3" cy="783.6" r="11.2"/><circle cx="511.7" cy="905.8" r="11.2"/><circle cx="563.9" cy="855.4" r="11.2"/><circle cx="489.8" cy="865.2" r="11.2"/><circle cx="514.1" cy="975.2" r="11.2"/><circle cx="426.7" cy="826.3" r="11.2"/><circle cx="613.9" cy="825.3" r="11.2"/><circle cx="626.1" cy="838.1" r="11.2"/><circle cx="526.3" cy="822.4" r="11.2"/><circle cx="407.3" cy="791.0" r="11.2"/><circle cx="687.8" cy="877.0" r="11.2"/><circle cx="562.3" cy="900.3" r="11.2"/><circle cx="559.4" cy="904.5" r="11.2"/><circle cx="494.3" cy="832.4" r="11.2"/><circle cx="591.7" cy="820.9" r="11.2"/><circle cx="411.2" cy="835.5" r="11.2"/><circle cx="472.5" cy="883.4" r="11.2"/><circle cx="458.8" cy="783.6" r="11.2"/><circle cx="489.1" cy="939.1" r="11.2"/><circle cx="511.3" cy="854.8" r="11.2"/><circle cx="515.7" cy="862.7" r="11.2"/><circle cx="587.4" cy="925.9" r="11.2"/><circle cx="386.7" cy="931.5" r="11.2"/><circle cx="514.7" cy="825.8" r="11.2"/><circle cx="666.7" cy="897.2" r="11.2"/><circle cx="434.7" cy="877.4" r="11.2"/><circle cx="572.5" cy="835.3" r="11.2"/><circle cx="333.4" cy="831.4" r="11.2"/><circle cx="500.1" cy="779.2" r="11.2"/><circle cx="657.4" cy="824.9" r="11.2"/><circle cx="484.3" cy="828.2" r="11.2"/><circle cx="453.9" cy="800.8" r="11.2"/><circle cx="522.3" cy="863.5" r="11.2"/><circle cx="475.4" cy="841.1" r="11.2"/><circle cx="406.6" cy="880.4" r="11.2"/><circle cx="456.5" cy="860.1" r="11.2"/><circle cx="444.3" cy="816.8" r="11.2"/><circle cx="531.8" cy="771.8" r="11.2"/><circle cx="509.3" cy="801.2" r="11.2"/><circle cx="639.4" cy="923.3" r="11.2"/><circle cx="538.4" cy="762.1" r="11.2"/><circle cx="475.7" cy="883.4" r="11.2"/><circle cx="475.1" cy="775.6" r="11.2"/><circle cx="422.4" cy="802.3" r="11.2"/><circle cx="516.1" cy="806.1" r="11.2"/><circle cx="653.3" cy="777.5" r="11.2"/><circle cx="541.8" cy="849.2" r="11.2"/><circle cx="504.2" cy="907.9" r="11.2"/><circle cx="489.1" cy="826.5" r="11.2"/><circle cx="485.8" cy="840.1" r="11.2"/><circle cx="615.3" cy="887.7" r="11.2"/><circle cx="410.4" cy="822.6" r="11.2"/><circle cx="452.8" cy="896.3" r="11.2"/><circle cx="532.5" cy="897.6" r="11.2"/><circle cx="510.2" cy="730.8" r="11.2"/><circle cx="550.2" cy="857.3" r="11.2"/><circle cx="554.6" cy="765.4" r="11.2"/><circle cx="521.3" cy="803.5" r="11.2"/><circle cx="461.4" cy="868.2" r="11.2"/><circle cx="542.5" cy="790.5" r="11.2"/><circle cx="381.5" cy="701.9" r="11.2"/><circle cx="470.1" cy="914.0" r="11.2"/><circle cx="510.7" cy="710.2" r="11.2"/><circle cx="447.7" cy="872.8" r="11.2"/><circle cx="645.5" cy="910.0" r="11.2"/><circle cx="543.6" cy="855.7" r="11.2"/><circle cx="432.4" cy="821.1" r="11.2"/><circle cx="489.0" cy="799.6" r="11.2"/><circle cx="520.0" cy="821.3" r="11.2"/><circle cx="541.3" cy="929.9" r="11.2"/><circle cx="572.8" cy="867.8" r="11.2"/><circle cx="496.2" cy="754.6" r="11.2"/><circle cx="506.1" cy="877.9" r="11.2"/><circle cx="436.3" cy="923.2" r="11.2"/><circle cx="489.0" cy="868.3" r="11.2"/><circle cx="489.4" cy="770.7" r="11.2"/><circle cx="676.3" cy="769.2" r="11.2"/><circle cx="586.6" cy="808.9" r="11.2"/><circle cx="536.8" cy="795.9" r="11.2"/><circle cx="482.5" cy="901.4" r="11.2"/><circle cx="666.8" cy="788.4" r="11.2"/><circle cx="515.8" cy="901.7" r="11.2"/><circle cx="465.8" cy="889.5" r="11.2"/><circle cx="453.8" cy="883.5" r="11.2"/><circle cx="549.1" cy="916.3" r="11.2"/><circle cx="543.4" cy="772.4" r="11.2"/><circle cx="566.8" cy="777.0" r="11.2"/><circle cx="573.6" cy="933.3" r="11.2"/><circle cx="561.5" cy="810.1" r="11.2"/><circle cx="608.0" cy="851.5" r="11.2"/><circle cx="417.9" cy="827.5" r="11.2"/><circle cx="625.7" cy="822.5" r="11.2"/><circle cx="524.5" cy="824.1" r="11.2"/><circle cx="383.5" cy="819.5" r="11.2"/><circle cx="542.8" cy="856.4" r="11.2"/><circle cx="501.4" cy="717.6" r="11.2"/><circle cx="610.3" cy="884.5" r="11.2"/><circle cx="594.8" cy="919.9" r="11.2"/><circle cx="480.3" cy="810.1" r="11.2"/><circle cx="539.5" cy="944.3" r="11.2"/><circle cx="383.5" cy="836.3" r="11.2"/><circle cx="459.2" cy="880.7" r="11.2"/><circle cx="629.2" cy="822.9" r="11.2"/><circle cx="418.2" cy="851.7" r="11.2"/><circle cx="492.8" cy="753.4" r="11.2"/><circle cx="584.0" cy="811.0" r="11.2"/><circle cx="568.3" cy="764.1" r="11.2"/><circle cx="600.5" cy="755.4" r="11.2"/><circle cx="597.2" cy="733.3" r="11.2"/><circle cx="622.6" cy="818.4" r="11.2"/><circle cx="393.6" cy="835.6" r="11.2"/><circle cx="541.3" cy="784.6" r="11.2"/><circle cx="476.5" cy="862.6" r="11.2"/><circle cx="481.5" cy="871.9" r="11.2"/><circle cx="538.2" cy="904.6" r="11.2"/><circle cx="577.4" cy="861.3" r="11.2"/><circle cx="599.6" cy="898.9" r="11.2"/><circle cx="523.0" cy="807.5" r="11.2"/><circle cx="594.9" cy="867.3" r="11.2"/><circle cx="367.4" cy="784.5" r="11.2"/><circle cx="551.4" cy="850.1" r="11.2"/><circle cx="536.8" cy="882.6" r="11.2"/><circle cx="526.4" cy="939.4" r="11.2"/><circle cx="469.0" cy="822.8" r="11.2"/><circle cx="540.2" cy="888.7" r="11.2"/><circle cx="576.4" cy="931.8" r="11.2"/><circle cx="477.8" cy="916.4" r="11.2"/><circle cx="551.5" cy="781.1" r="11.2"/><circle cx="504.3" cy="970.4" r="11.2"/><circle cx="576.3" cy="814.5" r="11.2"/><circle cx="460.2" cy="851.7" r="11.2"/><circle cx="695.2" cy="882.8" r="11.2"/><circle cx="539.4" cy="788.0" r="11.2"/><circle cx="422.5" cy="836.1" r="11.2"/><circle cx="483.5" cy="809.3" r="11.2"/><circle cx="603.0" cy="846.2" r="11.2"/><circle cx="418.7" cy="926.0" r="11.2"/><circle cx="490.7" cy="766.3" r="11.2"/><circle cx="540.1" cy="873.3" r="11.2"/><circle cx="488.6" cy="887.8" r="11.2"/><circle cx="579.0" cy="789.7" r="11.2"/><circle cx="354.5" cy="707.8" r="11.2"/><circle cx="505.0" cy="919.1" r="11.2"/><circle cx="593.2" cy="925.4" r="11.2"/><circle cx="659.8" cy="840.4" r="11.2"/><circle cx="597.4" cy="750.2" r="11.2"/><circle cx="568.8" cy="866.5" r="11.2"/><circle cx="507.6" cy="818.8" r="11.2"/><circle cx="428.0" cy="856.8" r="11.2"/><circle cx="614.7" cy="819.2" r="11.2"/><circle cx="556.4" cy="803.6" r="11.2"/><circle cx="534.8" cy="783.9" r="11.2"/><circle cx="544.5" cy="830.8" r="11.2"/><circle cx="539.6" cy="807.7" r="11.2"/><circle cx="423.2" cy="828.8" r="11.2"/><circle cx="595.8" cy="936.5" r="11.2"/><circle cx="489.7" cy="893.9" r="11.2"/><circle cx="574.2" cy="866.3" r="11.2"/><circle cx="394.0" cy="869.1" r="11.2"/><circle cx="439.4" cy="918.4" r="11.2"/><circle cx="576.5" cy="879.6" r="11.2"/><circle cx="569.6" cy="766.3" r="11.2"/><circle cx="590.7" cy="846.6" r="11.2"/><circle cx="500.7" cy="802.8" r="11.2"/><circle cx="435.6" cy="822.0" r="11.2"/><circle cx="531.2" cy="805.5" r="11.2"/><circle cx="466.8" cy="813.8" r="11.2"/><circle cx="445.9" cy="900.1" r="11.2"/><circle cx="493.9" cy="897.7" r="11.2"/><circle cx="424.9" cy="904.1" r="11.2"/><circle cx="512.9" cy="885.1" r="11.2"/><circle cx="506.9" cy="792.1" r="11.2"/><circle cx="609.4" cy="815.3" r="11.2"/><circle cx="503.5" cy="792.4" r="11.2"/><circle cx="530.9" cy="821.0" r="11.2"/><circle cx="537.0" cy="864.8" r="11.2"/><circle cx="461.3" cy="762.5" r="11.2"/><circle cx="548.8" cy="898.7" r="11.2"/><circle cx="569.3" cy="774.3" r="11.2"/><circle cx="562.2" cy="866.2" r="11.2"/><circle cx="537.1" cy="869.9" r="11.2"/><circle cx="489.7" cy="858.8" r="11.2"/><circle cx="587.3" cy="812.0" r="11.2"/><circle cx="402.7" cy="843.0" r="11.2"/><circle cx="530.3" cy="733.9" r="11.2"/><circle cx="462.2" cy="882.3" r="11.2"/><circle cx="503.3" cy="851.0" r="11.2"/><circle cx="416.8" cy="903.1" r="11.2"/><circle cx="651.9" cy="827.8" r="11.2"/><circle cx="457.9" cy="777.8" r="11.2"/><circle cx="584.5" cy="848.6" r="11.2"/><circle cx="453.0" cy="920.1" r="11.2"/><circle cx="574.6" cy="878.8" r="11.2"/><circle cx="377.7" cy="844.1" r="11.2"/><circle cx="563.8" cy="769.8" r="11.2"/><circle cx="587.5" cy="927.9" r="11.2"/><circle cx="595.6" cy="798.7" r="11.2"/><circle cx="459.8" cy="903.6" r="11.2"/><circle cx="592.6" cy="915.7" r="11.2"/><circle cx="608.6" cy="835.4" r="11.2"/><circle cx="483.0" cy="735.1" r="11.2"/><circle cx="576.2" cy="979.1" r="11.2"/><circle cx="478.9" cy="817.9" r="11.2"/><circle cx="565.6" cy="865.5" r="11.2"/><circle cx="408.1" cy="806.3" r="11.2"/><circle cx="429.4" cy="969.4" r="11.2"/><circle cx="459.1" cy="898.3" r="11.2"/><circle cx="664.6" cy="952.8" r="11.2"/><circle cx="626.2" cy="938.4" r="11.2"/><circle cx="418.7" cy="828.0" r="11.2"/><circle cx="458.2" cy="829.8" r="11.2"/><circle cx="558.5" cy="769.2" r="11.2"/><circle cx="619.4" cy="918.9" r="11.2"/><circle cx="475.1" cy="970.6" r="11.2"/><circle cx="520.8" cy="922.9" r="11.2"/><circle cx="539.3" cy="810.5" r="11.2"/><circle cx="485.3" cy="839.1" r="11.2"/><circle cx="563.2" cy="850.7" r="11.2"/><circle cx="699.1" cy="826.3" r="11.2"/><circle cx="478.6" cy="803.3" r="11.2"/><circle cx="454.4" cy="761.1" r="11.2"/><circle cx="438.1" cy="902.3" r="11.2"/><circle cx="519.7" cy="834.6" r="11.2"/><circle cx="542.3" cy="907.9" r="11.2"/><circle cx="563.0" cy="889.5" r="11.2"/><circle cx="471.3" cy="831.0" r="11.2"/><circle cx="454.4" cy="841.5" r="11.2"/><circle cx="451.2" cy="825.1" r="11.2"/><circle cx="501.4" cy="832.6" r="11.2"/><circle cx="494.2" cy="816.3" r="11.2"/><circle cx="617.2" cy="820.6" r="11.2"/><circle cx="436.1" cy="859.6" r="11.2"/><circle cx="430.0" cy="784.0" r="11.2"/><circle cx="521.6" cy="744.8" r="11.2"/><circle cx="595.7" cy="741.8" r="11.2"/><circle cx="445.0" cy="882.3" r="11.2"/><circle cx="360.0" cy="798.6" r="11.2"/><circle cx="421.1" cy="836.7" r="11.2"/><circle cx="361.1" cy="904.5" r="11.2"/><circle cx="503.8" cy="863.6" r="11.2"/><circle cx="489.4" cy="718.9" r="11.2"/><circle cx="503.1" cy="765.1" r="11.2"/><circle cx="515.8" cy="793.9" r="11.2"/><circle cx="490.3" cy="833.3" r="11.2"/><circle cx="575.2" cy="888.6" r="11.2"/><circle cx="436.6" cy="847.0" r="11.2"/><circle cx="628.8" cy="870.2" r="11.2"/><circle cx="458.1" cy="839.9" r="11.2"/><circle cx="487.9" cy="902.4" r="11.2"/><circle cx="517.6" cy="867.4" r="11.2"/><circle cx="687.5" cy="755.8" r="11.2"/><circle cx="435.9" cy="744.3" r="11.2"/><circle cx="390.8" cy="901.2" r="11.2"/><circle cx="537.8" cy="941.9" r="11.2"/><circle cx="361.0" cy="798.1" r="11.2"/><circle cx="627.6" cy="902.3" r="11.2"/><circle cx="584.0" cy="894.6" r="11.2"/><circle cx="517.5" cy="844.3" r="11.2"/><circle cx="517.5" cy="895.4" r="11.2"/><circle cx="502.3" cy="864.7" r="11.2"/><circle cx="628.4" cy="773.2" r="11.2"/><circle cx="456.5" cy="881.1" r="11.2"/><circle cx="494.5" cy="836.4" r="11.2"/><circle cx="678.7" cy="863.6" r="11.2"/><circle cx="482.4" cy="912.0" r="11.2"/><circle cx="462.7" cy="854.0" r="11.2"/><circle cx="465.4" cy="977.0" r="11.2"/><circle cx="556.0" cy="819.6" r="11.2"/><circle cx="553.3" cy="795.8" r="11.2"/><circle cx="467.8" cy="853.1" r="11.2"/><circle cx="547.8" cy="924.7" r="11.2"/></g>
<polygon points="233.0,787.4 248.6,789.7 264.2,791.9 279.8,794.1 295.3,796.1 310.9,798.1 326.5,799.9 342.1,801.6 357.7,803.0 373.2,804.1 388.8,804.8 404.4,805.0 420.0,804.6 435.6,803.5 451.2,801.6 466.8,799.1 482.3,795.9 497.9,792.3 513.5,788.3 529.1,784.0 544.7,779.5 560.2,774.8 575.8,770.0 591.4,765.1 607.0,760.1 607.0,859.9 591.4,857.7 575.8,855.6 560.2,853.6 544.7,851.8 529.1,850.1 513.5,848.6 497.9,847.4 482.3,846.6 466.8,846.3 451.2,846.5 435.6,847.5 420.0,849.2 404.4,851.6 388.8,854.6 373.2,858.1 357.7,862.1 342.1,866.3 326.5,870.8 310.9,875.4 295.3,880.2 279.8,885.1 264.2,890.1 248.6,895.1 233.0,900.2" fill="#7fbcc6" fill-opacity="0.360"/>
<polygon points="245.0,885.0 263.4,883.2 281.8,881.3 300.2,879.4 318.7,877.5 337.1,875.6 355.5,873.6 373.9,871.5 392.3,869.3 410.8,867.0 429.2,864.4 447.6,861.4 466.0,857.8 484.4,853.2 502.8,847.3 521.2,839.9 539.7,831.4 558.1,822.1 576.5,812.3 594.9,802.2 613.3,792.0 631.8,781.5 650.2,771.1 668.6,760.5 687.0,749.9 687.0,847.5 668.6,849.4 650.2,851.4 631.8,853.4 613.3,855.5 594.9,857.8 576.5,860.2 558.1,863.0 539.7,866.2 521.2,870.2 502.8,875.4 484.4,882.0 466.0,889.9 447.6,898.8 429.2,908.4 410.8,918.3 392.3,928.5 373.9,938.8 355.5,949.3 337.1,959.8 318.7,970.4 300.2,981.0 281.8,991.6 263.4,1002.3 245.0,1013.0" fill="#8ab4e0" fill-opacity="0.330"/>
<polygon points="365.0,850.3 377.7,850.6 390.4,850.9 403.1,851.1 415.8,851.3 428.5,851.5 441.2,851.6 454.0,851.7 466.7,851.7 479.4,851.5 492.1,851.2 504.8,850.7 517.5,849.8 530.2,848.6 542.9,846.7 555.6,844.2 568.3,841.0 581.0,837.2 593.8,833.0 606.5,828.3 619.2,823.4 631.9,818.3 644.6,813.0 657.3,807.6 670.0,802.2 670.0,866.2 657.3,866.1 644.6,866.1 631.9,866.2 619.2,866.4 606.5,866.8 593.8,867.5 581.0,868.5 568.3,870.1 555.6,872.3 542.9,875.1 530.2,878.6 517.5,882.7 504.8,887.2 492.1,892.0 479.4,897.0 466.7,902.2 454.0,907.5 441.2,912.9 428.5,918.4 415.8,923.9 403.1,929.5 390.4,935.0 377.7,940.7 365.0,946.3" fill="#f5b070" fill-opacity="0.250"/>
<polygon points="386.0,882.4 404.6,877.4 423.1,872.3 441.7,867.2 460.2,861.9 478.8,856.6 497.3,851.0 515.9,845.2 534.4,838.8 553.0,831.5 571.5,823.0 590.1,813.1 608.6,801.9 627.2,789.8 645.8,777.2 664.3,764.3 682.9,751.2 701.4,737.9 720.0,724.6 738.5,711.2 757.1,697.8 775.6,684.3 794.2,670.8 812.7,657.2 831.3,643.7 831.3,769.7 812.7,774.6 794.2,779.6 775.6,784.6 757.1,789.5 738.5,794.6 720.0,799.7 701.4,804.8 682.9,810.0 664.3,815.4 645.8,820.9 627.2,826.8 608.6,833.2 590.1,840.5 571.5,849.0 553.0,859.0 534.4,870.2 515.9,882.3 497.3,894.9 478.8,907.8 460.2,921.0 441.7,934.2 423.1,947.6 404.6,961.0 386.0,974.4" fill="#d9695a" fill-opacity="0.250"/>
<line x1="233.00" y1="843.80" x2="607.00" y2="810.00" stroke="#0d7b8a" stroke-width="11.0" stroke-dasharray="42 43"/>
<line x1="245.00" y1="949.00" x2="686.60" y2="798.70" stroke="#3a7fc4" stroke-width="11.0"/>
<line x1="365.30" y1="898.30" x2="670.00" y2="834.20" stroke="#e6892a" stroke-width="11.0" stroke-dasharray="42 43"/>
<line x1="386.00" y1="928.40" x2="831.30" y2="706.70" stroke="#c23b22" stroke-width="11.0"/>
<line x1="203.1" y1="267.5" x2="203.1" y2="1052.1" stroke="#000" stroke-width="5.0"/>
<line x1="200.6" y1="1049.6" x2="861.0" y2="1049.6" stroke="#000" stroke-width="5.0"/>
<line x1="190.6" y1="438.3" x2="201.1" y2="438.3" stroke="#000" stroke-width="4.6"/>
<line x1="190.6" y1="629.4" x2="201.1" y2="629.4" stroke="#000" stroke-width="4.6"/>
<line x1="190.6" y1="821.3" x2="201.1" y2="821.3" stroke="#000" stroke-width="4.6"/>
<line x1="190.6" y1="1014.3" x2="201.1" y2="1014.3" stroke="#000" stroke-width="4.6"/>
<line x1="281.2" y1="1051.6" x2="281.2" y2="1062.1" stroke="#000" stroke-width="4.8"/>
<line x1="408.3" y1="1051.6" x2="408.3" y2="1062.1" stroke="#000" stroke-width="4.8"/>
<line x1="535.7" y1="1051.6" x2="535.7" y2="1062.1" stroke="#000" stroke-width="4.8"/>
<line x1="663.1" y1="1051.6" x2="663.1" y2="1062.1" stroke="#000" stroke-width="4.8"/>
<line x1="790.6" y1="1051.6" x2="790.6" y2="1062.1" stroke="#000" stroke-width="4.8"/>
<text x="83.49" y="455.70" font-size="50.00" fill="#000">30.0</text>
<text x="83.49" y="646.80" font-size="50.00" fill="#000">20.0</text>
<text x="83.49" y="838.70" font-size="50.00" fill="#000">10.0</text>
<text x="84.10" y="1031.70" font-size="50.00" fill="#000">0.0</text>
<text x="252.60" y="1119.00" font-size="50.00" fill="#000">−2</text>
<text x="379.70" y="1119.00" font-size="50.00" fill="#000">−1</text>
<text x="522.20" y="1119.00" font-size="50.00" fill="#000">0</text>
<text x="648.60" y="1119.00" font-size="50.00" fill="#000">1</text>
<text x="776.60" y="1119.00" font-size="50.00" fill="#000">2</text>
<text transform="translate(224.98 1186.00) scale(1.0072 1)" font-size="58.00" fill="#000"><tspan>log10(Number of farms)</tspan></text>
<text transform="translate(45.30 834.90) rotate(-90) scale(0.9976 1)" font-size="58.00" fill="#000">Crop diversity</text>
<text transform="translate(869.47 244.80) scale(1.0113 1)" font-size="58.00" fill="#000"><tspan>(a)</tspan></text>
<text transform="translate(231.10 322.40) scale(1.0043 1)" font-size="41.50" fill="#000"><tspan font-weight="bold" fill="#c8161e">SL</tspan><tspan>:slope = 3.349 ± 0.73 ***</tspan></text>
<text transform="translate(230.08 368.80) scale(1.0107 1)" font-size="41.50" fill="#000"><tspan font-weight="bold" fill="#f6b226">M</tspan><tspan font-weight="bold">:</tspan><tspan> slope = 1.430 ±0.82</tspan></text>
<text transform="translate(230.09 414.90) scale(1.0066 1)" font-size="41.50" fill="#000"><tspan font-weight="bold" fill="#215a6b">MS</tspan><tspan>: slope = 2.305 ± 0.80 **</tspan></text>
<text transform="translate(231.09 461.20) scale(1.0072 1)" font-size="41.50" fill="#000"><tspan font-weight="bold" fill="#215a6b">S</tspan><tspan>: slope = 0.624 ± 0.88</tspan></text>
<g stroke="#141414" stroke-width="2.90"><rect x="1266.60" y="279.70" width="19.19" height="7.00" fill="#c84b2a"/><line x1="1266.60" y1="279.70" x2="1285.79" y2="279.70"/><line x1="1266.60" y1="278.25" x2="1266.60" y2="286.70"/><line x1="1285.79" y1="278.25" x2="1285.79" y2="286.70"/><rect x="1285.79" y="257.00" width="19.19" height="11.10" fill="#4f8fcc"/><rect x="1285.79" y="268.10" width="19.19" height="18.60" fill="#b84c44"/><line x1="1285.79" y1="257.00" x2="1304.98" y2="257.00"/><line x1="1285.79" y1="268.10" x2="1304.98" y2="268.10"/><line x1="1285.79" y1="255.55" x2="1285.79" y2="286.70"/><line x1="1304.98" y1="255.55" x2="1304.98" y2="286.70"/><rect x="1304.98" y="257.00" width="19.19" height="11.10" fill="#4f8fcc"/><rect x="1304.98" y="268.10" width="19.19" height="18.60" fill="#c84b2a"/><line x1="1304.98" y1="257.00" x2="1324.17" y2="257.00"/><line x1="1304.98" y1="268.10" x2="1324.17" y2="268.10"/><line x1="1304.98" y1="255.55" x2="1304.98" y2="286.70"/><line x1="1324.17" y1="255.55" x2="1324.17" y2="286.70"/><rect x="1324.17" y="257.00" width="19.19" height="29.70" fill="#c84b2a"/><line x1="1324.17" y1="257.00" x2="1343.36" y2="257.00"/><line x1="1324.17" y1="255.55" x2="1324.17" y2="286.70"/><line x1="1343.36" y1="255.55" x2="1343.36" y2="286.70"/><rect x="1343.36" y="193.70" width="19.19" height="49.60" fill="#e3973f"/><rect x="1343.36" y="243.30" width="19.19" height="20.00" fill="#cf8c45"/><rect x="1343.36" y="263.30" width="19.19" height="23.40" fill="#c84b2a"/><line x1="1343.36" y1="193.70" x2="1362.55" y2="193.70"/><line x1="1343.36" y1="263.30" x2="1362.55" y2="263.30"/><line x1="1343.36" y1="192.25" x2="1343.36" y2="286.70"/><line x1="1362.55" y1="192.25" x2="1362.55" y2="286.70"/><rect x="1362.55" y="237.00" width="19.19" height="9.70" fill="#e3973f"/><rect x="1362.55" y="246.70" width="19.19" height="40.00" fill="#c84b2a"/><line x1="1362.55" y1="237.00" x2="1381.74" y2="237.00"/><line x1="1362.55" y1="246.70" x2="1381.74" y2="246.70"/><line x1="1362.55" y1="235.55" x2="1362.55" y2="286.70"/><line x1="1381.74" y1="235.55" x2="1381.74" y2="286.70"/><rect x="1381.74" y="233.00" width="19.19" height="6.00" fill="#e3973f"/><rect x="1381.74" y="239.00" width="19.19" height="47.70" fill="#c84b2a"/><line x1="1381.74" y1="233.00" x2="1400.93" y2="233.00"/><line x1="1381.74" y1="239.00" x2="1400.93" y2="239.00"/><line x1="1381.74" y1="231.55" x2="1381.74" y2="286.70"/><line x1="1400.93" y1="231.55" x2="1400.93" y2="286.70"/><rect x="1400.93" y="224.10" width="19.19" height="12.40" fill="#4f8fcc"/><rect x="1400.93" y="236.50" width="19.19" height="4.00" fill="#2a2420"/><rect x="1400.93" y="240.50" width="19.19" height="46.20" fill="#c84b2a"/><line x1="1400.93" y1="224.10" x2="1420.12" y2="224.10"/><line x1="1400.93" y1="236.50" x2="1420.12" y2="236.50"/><line x1="1400.93" y1="240.50" x2="1420.12" y2="240.50"/><line x1="1400.93" y1="222.65" x2="1400.93" y2="286.70"/><line x1="1420.12" y1="222.65" x2="1420.12" y2="286.70"/><rect x="1420.12" y="219.90" width="19.19" height="24.20" fill="#4f8fcc"/><rect x="1420.12" y="244.10" width="19.19" height="42.60" fill="#c84b2a"/><line x1="1420.12" y1="219.90" x2="1439.31" y2="219.90"/><line x1="1420.12" y1="244.10" x2="1439.31" y2="244.10"/><line x1="1420.12" y1="218.45" x2="1420.12" y2="286.70"/><line x1="1439.31" y1="218.45" x2="1439.31" y2="286.70"/><rect x="1439.31" y="207.00" width="19.19" height="11.50" fill="#e3973f"/><rect x="1439.31" y="218.50" width="19.19" height="44.50" fill="#cf8c45"/><rect x="1439.31" y="263.00" width="19.19" height="23.70" fill="#c84b2a"/><line x1="1439.31" y1="207.00" x2="1458.50" y2="207.00"/><line x1="1439.31" y1="263.00" x2="1458.50" y2="263.00"/><line x1="1439.31" y1="205.55" x2="1439.31" y2="286.70"/><line x1="1458.50" y1="205.55" x2="1458.50" y2="286.70"/><rect x="1458.50" y="219.90" width="19.19" height="27.70" fill="#2f98a6"/><rect x="1458.50" y="247.60" width="19.19" height="39.10" fill="#c84b2a"/><line x1="1458.50" y1="219.90" x2="1477.69" y2="219.90"/><line x1="1458.50" y1="247.60" x2="1477.69" y2="247.60"/><line x1="1458.50" y1="218.45" x2="1458.50" y2="286.70"/><line x1="1477.69" y1="218.45" x2="1477.69" y2="286.70"/><rect x="1477.69" y="237.00" width="19.19" height="9.70" fill="#4f8fcc"/><rect x="1477.69" y="246.70" width="19.19" height="40.00" fill="#b84c44"/><line x1="1477.69" y1="237.00" x2="1496.88" y2="237.00"/><line x1="1477.69" y1="246.70" x2="1496.88" y2="246.70"/><line x1="1477.69" y1="235.55" x2="1477.69" y2="286.70"/><line x1="1496.88" y1="235.55" x2="1496.88" y2="286.70"/><rect x="1496.88" y="260.00" width="19.19" height="13.20" fill="#2f98a6"/><rect x="1496.88" y="273.20" width="19.19" height="5.80" fill="#e3973f"/><rect x="1496.88" y="279.00" width="19.19" height="7.70" fill="#c84b2a"/><line x1="1496.88" y1="260.00" x2="1516.07" y2="260.00"/><line x1="1496.88" y1="273.20" x2="1516.07" y2="273.20"/><line x1="1496.88" y1="279.00" x2="1516.07" y2="279.00"/><line x1="1496.88" y1="258.55" x2="1496.88" y2="286.70"/><line x1="1516.07" y1="258.55" x2="1516.07" y2="286.70"/><rect x="1516.07" y="260.00" width="19.19" height="16.60" fill="#e3973f"/><rect x="1516.07" y="276.60" width="19.19" height="10.10" fill="#c84b2a"/><line x1="1516.07" y1="260.00" x2="1535.26" y2="260.00"/><line x1="1516.07" y1="276.60" x2="1535.26" y2="276.60"/><line x1="1516.07" y1="258.55" x2="1516.07" y2="286.70"/><line x1="1535.26" y1="258.55" x2="1535.26" y2="286.70"/><rect x="1535.26" y="267.20" width="19.19" height="19.50" fill="#c84b2a"/><line x1="1535.26" y1="267.20" x2="1554.45" y2="267.20"/><line x1="1535.26" y1="265.75" x2="1535.26" y2="286.70"/><line x1="1554.45" y1="265.75" x2="1554.45" y2="286.70"/><rect x="1554.45" y="259.90" width="19.19" height="16.50" fill="#4f8fcc"/><rect x="1554.45" y="276.40" width="19.19" height="10.30" fill="#c84b2a"/><line x1="1554.45" y1="259.90" x2="1573.64" y2="259.90"/><line x1="1554.45" y1="276.40" x2="1573.64" y2="276.40"/><line x1="1554.45" y1="258.45" x2="1554.45" y2="286.70"/><line x1="1573.64" y1="258.45" x2="1573.64" y2="286.70"/><rect x="1573.64" y="267.00" width="19.19" height="19.70" fill="#b84c44"/><line x1="1573.64" y1="267.00" x2="1592.83" y2="267.00"/><line x1="1573.64" y1="265.55" x2="1573.64" y2="286.70"/><line x1="1592.83" y1="265.55" x2="1592.83" y2="286.70"/><rect x="1592.83" y="262.90" width="19.19" height="23.80" fill="#b84c44"/><line x1="1592.83" y1="262.90" x2="1612.02" y2="262.90"/><line x1="1592.83" y1="261.45" x2="1592.83" y2="286.70"/><line x1="1612.02" y1="261.45" x2="1612.02" y2="286.70"/><rect x="1612.02" y="267.00" width="19.19" height="19.70" fill="#cd5b47"/><line x1="1612.02" y1="267.00" x2="1631.21" y2="267.00"/><line x1="1612.02" y1="265.55" x2="1612.02" y2="286.70"/><line x1="1631.21" y1="265.55" x2="1631.21" y2="286.70"/><rect x="1631.21" y="279.60" width="19.19" height="7.10" fill="#c84b2a"/><line x1="1631.21" y1="279.60" x2="1650.40" y2="279.60"/><line x1="1631.21" y1="278.15" x2="1631.21" y2="286.70"/><line x1="1650.40" y1="278.15" x2="1650.40" y2="286.70"/><rect x="1650.40" y="269.70" width="19.19" height="17.00" fill="#cd5b47"/><line x1="1650.40" y1="269.70" x2="1669.59" y2="269.70"/><line x1="1650.40" y1="268.25" x2="1650.40" y2="286.70"/><line x1="1669.59" y1="268.25" x2="1669.59" y2="286.70"/><rect x="1669.59" y="273.00" width="19.19" height="13.70" fill="#b84c44"/><line x1="1669.59" y1="273.00" x2="1688.78" y2="273.00"/><line x1="1669.59" y1="271.55" x2="1669.59" y2="286.70"/><line x1="1688.78" y1="271.55" x2="1688.78" y2="286.70"/><rect x="1688.78" y="282.80" width="19.19" height="3.90" fill="#c84b2a"/><line x1="1688.78" y1="282.80" x2="1707.97" y2="282.80"/><line x1="1688.78" y1="281.35" x2="1688.78" y2="286.70"/><line x1="1707.97" y1="281.35" x2="1707.97" y2="286.70"/><rect x="1707.97" y="283.20" width="19.19" height="3.50" fill="#c84b2a"/><line x1="1707.97" y1="283.20" x2="1727.16" y2="283.20"/><line x1="1707.97" y1="281.75" x2="1707.97" y2="286.70"/><line x1="1727.16" y1="281.75" x2="1727.16" y2="286.70"/><rect x="1727.16" y="279.60" width="19.19" height="7.10" fill="#c84b2a"/><line x1="1727.16" y1="279.60" x2="1746.35" y2="279.60"/><line x1="1727.16" y1="278.15" x2="1727.16" y2="286.70"/><line x1="1746.35" y1="278.15" x2="1746.35" y2="286.70"/><rect x="1765.54" y="277.00" width="19.19" height="9.70" fill="#2f98a6"/><line x1="1765.54" y1="277.00" x2="1784.73" y2="277.00"/><line x1="1765.54" y1="275.55" x2="1765.54" y2="286.70"/><line x1="1784.73" y1="275.55" x2="1784.73" y2="286.70"/><rect x="1784.73" y="282.80" width="19.19" height="3.90" fill="#b84c44"/><line x1="1784.73" y1="282.80" x2="1803.92" y2="282.80"/><line x1="1784.73" y1="281.35" x2="1784.73" y2="286.70"/><line x1="1803.92" y1="281.35" x2="1803.92" y2="286.70"/><rect x="1823.11" y="279.60" width="19.19" height="7.10" fill="#2f98a6"/><line x1="1823.11" y1="279.60" x2="1842.30" y2="279.60"/><line x1="1823.11" y1="278.15" x2="1823.11" y2="286.70"/><line x1="1842.30" y1="278.15" x2="1842.30" y2="286.70"/></g>
<line x1="1265.60" y1="286.70" x2="1843.30" y2="286.70" stroke="#111" stroke-width="3.2"/>
<g stroke="#1a1a1a" stroke-width="2.40"><rect x="1874.10" y="326.60" width="6.00" height="23.73" fill="#cd5b47"/><line x1="1880.10" y1="326.60" x2="1880.10" y2="350.33"/><line x1="1874.10" y1="326.60" x2="1881.30" y2="326.60"/><line x1="1874.10" y1="350.33" x2="1881.30" y2="350.33"/><rect x="1874.10" y="350.33" width="23.00" height="23.73" fill="#cd5b47"/><line x1="1897.10" y1="350.33" x2="1897.10" y2="374.06"/><line x1="1874.10" y1="350.33" x2="1898.30" y2="350.33"/><line x1="1874.10" y1="374.06" x2="1898.30" y2="374.06"/><rect x="1874.10" y="374.06" width="15.40" height="23.73" fill="#cd5b47"/><line x1="1889.50" y1="374.06" x2="1889.50" y2="397.79"/><line x1="1874.10" y1="374.06" x2="1890.70" y2="374.06"/><line x1="1874.10" y1="397.79" x2="1890.70" y2="397.79"/><rect x="1874.10" y="397.79" width="36.20" height="23.73" fill="#cd5b47"/><line x1="1910.30" y1="397.79" x2="1910.30" y2="421.52"/><line x1="1874.10" y1="397.79" x2="1911.50" y2="397.79"/><line x1="1874.10" y1="421.52" x2="1911.50" y2="421.52"/><rect x="1874.10" y="421.52" width="12.60" height="23.73" fill="#cd5b47"/><line x1="1886.70" y1="421.52" x2="1886.70" y2="445.25"/><line x1="1874.10" y1="421.52" x2="1887.90" y2="421.52"/><line x1="1874.10" y1="445.25" x2="1887.90" y2="445.25"/><rect x="1874.10" y="445.25" width="32.00" height="23.73" fill="#cd5b47"/><line x1="1906.10" y1="445.25" x2="1906.10" y2="468.98"/><line x1="1874.10" y1="445.25" x2="1907.30" y2="445.25"/><line x1="1874.10" y1="468.98" x2="1907.30" y2="468.98"/><rect x="1874.10" y="468.98" width="25.80" height="23.73" fill="#c84b2a"/><line x1="1899.90" y1="468.98" x2="1899.90" y2="492.71"/><line x1="1874.10" y1="468.98" x2="1901.10" y2="468.98"/><line x1="1874.10" y1="492.71" x2="1901.10" y2="492.71"/><rect x="1874.10" y="492.71" width="32.40" height="23.73" fill="#c84b2a"/><rect x="1906.50" y="492.71" width="16.00" height="23.73" fill="#e3973f"/><line x1="1906.50" y1="492.71" x2="1906.50" y2="516.44"/><line x1="1922.50" y1="492.71" x2="1922.50" y2="516.44"/><line x1="1874.10" y1="492.71" x2="1923.70" y2="492.71"/><line x1="1874.10" y1="516.44" x2="1923.70" y2="516.44"/><rect x="1874.10" y="516.44" width="36.20" height="23.73" fill="#c84b2a"/><rect x="1910.30" y="516.44" width="38.60" height="23.73" fill="#e3973f"/><line x1="1910.30" y1="516.44" x2="1910.30" y2="540.17"/><line x1="1948.90" y1="516.44" x2="1948.90" y2="540.17"/><line x1="1874.10" y1="516.44" x2="1950.10" y2="516.44"/><line x1="1874.10" y1="540.17" x2="1950.10" y2="540.17"/><rect x="1874.10" y="540.17" width="54.90" height="23.73" fill="#c84b2a"/><rect x="1929.00" y="540.17" width="5.70" height="23.73" fill="#e3973f"/><line x1="1929.00" y1="540.17" x2="1929.00" y2="563.90"/><line x1="1934.70" y1="540.17" x2="1934.70" y2="563.90"/><line x1="1874.10" y1="540.17" x2="1935.90" y2="540.17"/><line x1="1874.10" y1="563.90" x2="1935.90" y2="563.90"/><rect x="1874.10" y="563.90" width="41.80" height="23.73" fill="#c84b2a"/><rect x="1915.90" y="563.90" width="33.00" height="23.73" fill="#4f8fcc"/><line x1="1915.90" y1="563.90" x2="1915.90" y2="587.63"/><line x1="1948.90" y1="563.90" x2="1948.90" y2="587.63"/><line x1="1874.10" y1="563.90" x2="1950.10" y2="563.90"/><line x1="1874.10" y1="587.63" x2="1950.10" y2="587.63"/><rect x="1874.10" y="587.63" width="41.80" height="23.73" fill="#c84b2a"/><rect x="1915.90" y="587.63" width="10.40" height="23.73" fill="#cf8c45"/><line x1="1915.90" y1="587.63" x2="1915.90" y2="611.36"/><line x1="1926.30" y1="587.63" x2="1926.30" y2="611.36"/><line x1="1874.10" y1="587.63" x2="1927.50" y2="587.63"/><line x1="1874.10" y1="611.36" x2="1927.50" y2="611.36"/><rect x="1874.10" y="611.36" width="41.80" height="23.73" fill="#c84b2a"/><rect x="1915.90" y="611.36" width="16.10" height="23.73" fill="#cf8c45"/><rect x="1932.00" y="611.36" width="4.60" height="23.73" fill="#2a2420"/><line x1="1915.90" y1="611.36" x2="1915.90" y2="635.09"/><line x1="1932.00" y1="611.36" x2="1932.00" y2="635.09"/><line x1="1936.60" y1="611.36" x2="1936.60" y2="635.09"/><line x1="1874.10" y1="611.36" x2="1937.80" y2="611.36"/><line x1="1874.10" y1="635.09" x2="1937.80" y2="635.09"/><rect x="1874.10" y="635.09" width="19.20" height="23.73" fill="#c84b2a"/><rect x="1893.30" y="635.09" width="22.60" height="23.73" fill="#cf8c45"/><rect x="1915.90" y="635.09" width="9.10" height="23.73" fill="#4f8fcc"/><rect x="1925.00" y="635.09" width="7.90" height="23.73" fill="#2f98a6"/><line x1="1893.30" y1="635.09" x2="1893.30" y2="658.82"/><line x1="1915.90" y1="635.09" x2="1915.90" y2="658.82"/><line x1="1925.00" y1="635.09" x2="1925.00" y2="658.82"/><line x1="1932.90" y1="635.09" x2="1932.90" y2="658.82"/><line x1="1874.10" y1="635.09" x2="1934.10" y2="635.09"/><line x1="1874.10" y1="658.82" x2="1934.10" y2="658.82"/><rect x="1874.10" y="658.82" width="26.70" height="23.73" fill="#c84b2a"/><rect x="1900.80" y="658.82" width="17.90" height="23.73" fill="#cf8c45"/><rect x="1918.70" y="658.82" width="17.00" height="23.73" fill="#4f8fcc"/><line x1="1900.80" y1="658.82" x2="1900.80" y2="682.55"/><line x1="1918.70" y1="658.82" x2="1918.70" y2="682.55"/><line x1="1935.70" y1="658.82" x2="1935.70" y2="682.55"/><line x1="1874.10" y1="658.82" x2="1936.90" y2="658.82"/><line x1="1874.10" y1="682.55" x2="1936.90" y2="682.55"/><rect x="1874.10" y="682.55" width="26.70" height="23.73" fill="#c84b2a"/><rect x="1900.80" y="682.55" width="3.80" height="23.73" fill="#e3973f"/><rect x="1904.60" y="682.55" width="28.30" height="23.73" fill="#4f8fcc"/><line x1="1900.80" y1="682.55" x2="1900.80" y2="706.28"/><line x1="1904.60" y1="682.55" x2="1904.60" y2="706.28"/><line x1="1932.90" y1="682.55" x2="1932.90" y2="706.28"/><line x1="1874.10" y1="682.55" x2="1934.10" y2="682.55"/><line x1="1874.10" y1="706.28" x2="1934.10" y2="706.28"/><rect x="1874.10" y="706.28" width="25.80" height="23.73" fill="#c84b2a"/><rect x="1899.90" y="706.28" width="38.60" height="23.73" fill="#2f98a6"/><line x1="1899.90" y1="706.28" x2="1899.90" y2="730.01"/><line x1="1938.50" y1="706.28" x2="1938.50" y2="730.01"/><line x1="1874.10" y1="706.28" x2="1939.70" y2="706.28"/><line x1="1874.10" y1="730.01" x2="1939.70" y2="730.01"/><rect x="1874.10" y="730.01" width="29.60" height="23.73" fill="#c84b2a"/><rect x="1903.70" y="730.01" width="9.40" height="23.73" fill="#2f98a6"/><line x1="1903.70" y1="730.01" x2="1903.70" y2="753.74"/><line x1="1913.10" y1="730.01" x2="1913.10" y2="753.74"/><line x1="1874.10" y1="730.01" x2="1914.30" y2="730.01"/><line x1="1874.10" y1="753.74" x2="1914.30" y2="753.74"/><rect x="1874.10" y="753.74" width="12.60" height="23.73" fill="#cf8c45"/><rect x="1886.70" y="753.74" width="19.40" height="23.73" fill="#2f98a6"/><line x1="1886.70" y1="753.74" x2="1886.70" y2="777.47"/><line x1="1906.10" y1="753.74" x2="1906.10" y2="777.47"/><line x1="1874.10" y1="753.74" x2="1907.30" y2="753.74"/><line x1="1874.10" y1="777.47" x2="1907.30" y2="777.47"/><rect x="1874.10" y="777.47" width="16.40" height="23.73" fill="#cf8c45"/><rect x="1890.50" y="777.47" width="16.00" height="23.73" fill="#2f98a6"/><line x1="1890.50" y1="777.47" x2="1890.50" y2="801.20"/><line x1="1906.50" y1="777.47" x2="1906.50" y2="801.20"/><line x1="1874.10" y1="777.47" x2="1907.70" y2="777.47"/><line x1="1874.10" y1="801.20" x2="1907.70" y2="801.20"/><rect x="1874.10" y="801.20" width="6.00" height="23.73" fill="#cf8c45"/><rect x="1880.10" y="801.20" width="19.80" height="23.73" fill="#2f98a6"/><line x1="1880.10" y1="801.20" x2="1880.10" y2="824.93"/><line x1="1899.90" y1="801.20" x2="1899.90" y2="824.93"/><line x1="1874.10" y1="801.20" x2="1901.10" y2="801.20"/><line x1="1874.10" y1="824.93" x2="1901.10" y2="824.93"/><rect x="1874.10" y="824.93" width="58.40" height="23.73" fill="#2f98a6"/><line x1="1932.50" y1="824.93" x2="1932.50" y2="848.66"/><line x1="1874.10" y1="824.93" x2="1933.70" y2="824.93"/><line x1="1874.10" y1="848.66" x2="1933.70" y2="848.66"/><rect x="1874.10" y="848.66" width="6.00" height="23.73" fill="#cf8c45"/><rect x="1880.10" y="848.66" width="39.60" height="23.73" fill="#2f98a6"/><line x1="1880.10" y1="848.66" x2="1880.10" y2="872.39"/><line x1="1919.70" y1="848.66" x2="1919.70" y2="872.39"/><line x1="1874.10" y1="848.66" x2="1920.90" y2="848.66"/><line x1="1874.10" y1="872.39" x2="1920.90" y2="872.39"/><rect x="1874.10" y="872.39" width="7.90" height="23.73" fill="#cf8c45"/><rect x="1882.00" y="872.39" width="12.30" height="23.73" fill="#2f98a6"/><line x1="1882.00" y1="872.39" x2="1882.00" y2="896.12"/><line x1="1894.30" y1="872.39" x2="1894.30" y2="896.12"/><line x1="1874.10" y1="872.39" x2="1895.50" y2="872.39"/><line x1="1874.10" y1="896.12" x2="1895.50" y2="896.12"/><rect x="1874.10" y="896.12" width="6.00" height="23.73" fill="#4f8fcc"/><rect x="1880.10" y="896.12" width="10.90" height="23.73" fill="#2f98a6"/><line x1="1880.10" y1="896.12" x2="1880.10" y2="919.85"/><line x1="1891.00" y1="896.12" x2="1891.00" y2="919.85"/><line x1="1874.10" y1="896.12" x2="1892.20" y2="896.12"/><line x1="1874.10" y1="919.85" x2="1892.20" y2="919.85"/><rect x="1874.10" y="919.85" width="6.90" height="23.73" fill="#2f98a6"/><line x1="1881.00" y1="919.85" x2="1881.00" y2="943.58"/><line x1="1874.10" y1="919.85" x2="1882.20" y2="919.85"/><line x1="1874.10" y1="943.58" x2="1882.20" y2="943.58"/><rect x="1874.10" y="943.58" width="2.90" height="23.73" fill="#2a2420"/><line x1="1877.00" y1="943.58" x2="1877.00" y2="967.31"/><line x1="1874.10" y1="943.58" x2="1878.20" y2="943.58"/><line x1="1874.10" y1="967.31" x2="1878.20" y2="967.31"/><rect x="1874.10" y="967.31" width="2.90" height="23.73" fill="#2a2420"/><line x1="1877.00" y1="967.31" x2="1877.00" y2="991.04"/><line x1="1874.10" y1="967.31" x2="1878.20" y2="967.31"/><line x1="1874.10" y1="991.04" x2="1878.20" y2="991.04"/><rect x="1874.10" y="991.04" width="10.20" height="23.73" fill="#2f98a6"/><line x1="1884.30" y1="991.04" x2="1884.30" y2="1014.77"/><line x1="1874.10" y1="991.04" x2="1885.50" y2="991.04"/><line x1="1874.10" y1="1014.77" x2="1885.50" y2="1014.77"/><rect x="1874.10" y="1014.77" width="6.90" height="23.73" fill="#2f98a6"/><line x1="1881.00" y1="1014.77" x2="1881.00" y2="1038.50"/><line x1="1874.10" y1="1014.77" x2="1882.20" y2="1014.77"/><line x1="1874.10" y1="1038.50" x2="1882.20" y2="1038.50"/></g>
<line x1="1874.10" y1="325.60" x2="1874.10" y2="1039.50" stroke="#111" stroke-width="3"/>
<g fill="#cfcfcf" fill-opacity="0.36" stroke="#bdbdbd" stroke-opacity="0.5" stroke-width="2.6"><circle cx="1542.6" cy="549.0" r="11.2"/><circle cx="1578.0" cy="550.5" r="11.2"/><circle cx="1585.6" cy="537.9" r="11.2"/><circle cx="1598.2" cy="537.9" r="11.2"/><circle cx="1614.8" cy="536.3" r="11.2"/><circle cx="1643.6" cy="535.3" r="11.2"/><circle cx="1666.3" cy="534.3" r="11.2"/><circle cx="1690.5" cy="527.8" r="11.2"/><circle cx="1651.2" cy="558.0" r="11.2"/><circle cx="1681.4" cy="553.0" r="11.2"/><circle cx="1726.9" cy="559.6" r="11.2"/><circle cx="1678.9" cy="573.2" r="11.2"/><circle cx="1671.3" cy="585.8" r="11.2"/><circle cx="1604.7" cy="591.9" r="11.2"/><circle cx="1600.7" cy="620.1" r="11.2"/><circle cx="1535.0" cy="621.1" r="11.2"/><circle cx="1381.1" cy="573.2" r="11.2"/><circle cx="1398.8" cy="574.7" r="11.2"/><circle cx="1411.4" cy="568.1" r="11.2"/><circle cx="1424.0" cy="565.6" r="11.2"/><circle cx="1446.7" cy="575.7" r="11.2"/><circle cx="1461.9" cy="580.8" r="11.2"/><circle cx="1492.1" cy="583.3" r="11.2"/><circle cx="1492.1" cy="593.4" r="11.2"/><circle cx="1459.3" cy="598.4" r="11.2"/><circle cx="1487.1" cy="611.1" r="11.2"/><circle cx="1658.7" cy="659.0" r="11.2"/><circle cx="1656.2" cy="679.2" r="11.2"/><circle cx="1751.1" cy="724.6" r="11.2"/><circle cx="1729.4" cy="707.0" r="11.2"/><circle cx="1676.4" cy="739.8" r="11.2"/><circle cx="1795.0" cy="771.6" r="11.2"/><circle cx="1752.1" cy="790.2" r="11.2"/><circle cx="1734.4" cy="775.1" r="11.2"/><circle cx="1709.2" cy="790.2" r="11.2"/><circle cx="1706.7" cy="807.9" r="11.2"/><circle cx="1676.4" cy="792.8" r="11.2"/><circle cx="1651.1" cy="800.3" r="11.2"/><circle cx="1620.9" cy="802.9" r="11.2"/><circle cx="1837.9" cy="891.2" r="11.2"/><circle cx="1779.9" cy="903.8" r="11.2"/><circle cx="1782.4" cy="888.7" r="11.2"/><circle cx="1739.5" cy="921.5" r="11.2"/><circle cx="1699.1" cy="903.8" r="11.2"/><circle cx="1684.0" cy="893.7" r="11.2"/><circle cx="1656.2" cy="883.6" r="11.2"/><circle cx="1633.5" cy="896.2" r="11.2"/><circle cx="1598.2" cy="926.5" r="11.2"/><circle cx="1545.1" cy="903.8" r="11.2"/><circle cx="1565.3" cy="972.0" r="11.2"/><circle cx="1608.3" cy="979.5" r="11.2"/><circle cx="1678.9" cy="1019.9" r="11.2"/><circle cx="1323.0" cy="999.7" r="11.2"/><circle cx="1343.2" cy="1009.8" r="11.2"/><circle cx="1355.9" cy="1004.8" r="11.2"/><circle cx="1386.1" cy="1017.4" r="11.2"/><circle cx="1267.5" cy="749.9" r="11.2"/><circle cx="1275.1" cy="818.5" r="11.2"/><circle cx="1287.7" cy="898.8" r="11.2"/><circle cx="1285.2" cy="918.9" r="11.2"/><circle cx="1297.8" cy="921.5" r="11.2"/><circle cx="1315.5" cy="934.1" r="11.2"/><circle cx="1290.2" cy="787.7" r="11.2"/><circle cx="1307.9" cy="873.5" r="11.2"/><circle cx="1333.1" cy="896.2" r="11.2"/><circle cx="1348.3" cy="911.4" r="11.2"/><circle cx="1355.9" cy="929.1" r="11.2"/><circle cx="1371.0" cy="916.4" r="11.2"/><circle cx="1403.8" cy="901.3" r="11.2"/><circle cx="1408.9" cy="921.5" r="11.2"/><circle cx="1431.6" cy="908.9" r="11.2"/><circle cx="1439.2" cy="931.6" r="11.2"/><circle cx="1456.8" cy="936.6" r="11.2"/><circle cx="1461.9" cy="951.8" r="11.2"/><circle cx="1424.0" cy="883.6" r="11.2"/><circle cx="1484.6" cy="883.6" r="11.2"/><circle cx="1504.8" cy="898.8" r="11.2"/><circle cx="1519.9" cy="888.7" r="11.2"/><circle cx="1300.0" cy="820.0" r="11.2"/><circle cx="1312.0" cy="845.0" r="11.2"/><circle cx="1330.0" cy="860.0" r="11.2"/><circle cx="1350.0" cy="870.0" r="11.2"/><circle cx="1375.0" cy="880.0" r="11.2"/><circle cx="1395.0" cy="870.0" r="11.2"/><circle cx="1420.0" cy="860.0" r="11.2"/><circle cx="1450.0" cy="865.0" r="11.2"/><circle cx="1470.0" cy="850.0" r="11.2"/><circle cx="1500.0" cy="860.0" r="11.2"/><circle cx="1530.0" cy="850.0" r="11.2"/><circle cx="1560.0" cy="840.0" r="11.2"/><circle cx="1580.0" cy="820.0" r="11.2"/><circle cx="1600.0" cy="810.0" r="11.2"/><circle cx="1625.0" cy="790.0" r="11.2"/><circle cx="1610.0" cy="760.0" r="11.2"/><circle cx="1449.8" cy="719.5" r="11.2"/><circle cx="1425.3" cy="754.9" r="11.2"/><circle cx="1369.9" cy="675.4" r="11.2"/><circle cx="1451.9" cy="699.8" r="11.2"/><circle cx="1473.7" cy="716.6" r="11.2"/><circle cx="1270.0" cy="628.5" r="11.2"/><circle cx="1403.9" cy="705.7" r="11.2"/><circle cx="1483.5" cy="675.2" r="11.2"/><circle cx="1391.9" cy="760.7" r="11.2"/><circle cx="1468.2" cy="663.8" r="11.2"/><circle cx="1529.6" cy="694.5" r="11.2"/><circle cx="1504.1" cy="713.5" r="11.2"/><circle cx="1377.1" cy="641.8" r="11.2"/><circle cx="1400.1" cy="878.6" r="11.2"/><circle cx="1360.0" cy="820.2" r="11.2"/><circle cx="1514.4" cy="708.5" r="11.2"/><circle cx="1497.8" cy="822.1" r="11.2"/><circle cx="1386.2" cy="688.8" r="11.2"/><circle cx="1498.0" cy="755.4" r="11.2"/><circle cx="1577.2" cy="767.1" r="11.2"/><circle cx="1319.5" cy="714.6" r="11.2"/><circle cx="1317.1" cy="766.2" r="11.2"/><circle cx="1465.6" cy="703.1" r="11.2"/><circle cx="1340.4" cy="777.4" r="11.2"/><circle cx="1380.4" cy="801.9" r="11.2"/><circle cx="1333.0" cy="701.0" r="11.2"/><circle cx="1367.4" cy="654.5" r="11.2"/><circle cx="1624.5" cy="851.8" r="11.2"/><circle cx="1360.8" cy="772.6" r="11.2"/><circle cx="1268.5" cy="794.8" r="11.2"/><circle cx="1495.8" cy="710.2" r="11.2"/><circle cx="1382.6" cy="739.0" r="11.2"/><circle cx="1446.4" cy="704.9" r="11.2"/><circle cx="1343.5" cy="703.0" r="11.2"/><circle cx="1376.7" cy="773.4" r="11.2"/><circle cx="1417.4" cy="741.4" r="11.2"/><circle cx="1279.6" cy="689.9" r="11.2"/><circle cx="1379.7" cy="689.5" r="11.2"/><circle cx="1401.5" cy="705.4" r="11.2"/><circle cx="1290.8" cy="776.7" r="11.2"/><circle cx="1483.3" cy="698.4" r="11.2"/><circle cx="1460.2" cy="669.6" r="11.2"/><circle cx="1311.7" cy="704.6" r="11.2"/><circle cx="1533.6" cy="729.6" r="11.2"/><circle cx="1290.8" cy="731.9" r="11.2"/><circle cx="1366.4" cy="676.2" r="11.2"/><circle cx="1439.6" cy="615.9" r="11.2"/><circle cx="1270.7" cy="620.6" r="11.2"/><circle cx="1497.7" cy="740.5" r="11.2"/><circle cx="1364.6" cy="679.1" r="11.2"/><circle cx="1464.6" cy="812.9" r="11.2"/><circle cx="1355.6" cy="740.1" r="11.2"/><circle cx="1599.3" cy="782.6" r="11.2"/><circle cx="1387.5" cy="747.9" r="11.2"/><circle cx="1422.1" cy="772.3" r="11.2"/><circle cx="1441.6" cy="698.6" r="11.2"/><circle cx="1404.4" cy="752.1" r="11.2"/><circle cx="1359.7" cy="728.7" r="11.2"/><circle cx="1341.9" cy="802.8" r="11.2"/><circle cx="1536.7" cy="682.4" r="11.2"/><circle cx="1481.0" cy="745.2" r="11.2"/><circle cx="1421.3" cy="712.9" r="11.2"/><circle cx="1435.2" cy="795.6" r="11.2"/><circle cx="1317.6" cy="786.6" r="11.2"/><circle cx="1393.3" cy="656.1" r="11.2"/><circle cx="1410.3" cy="769.7" r="11.2"/><circle cx="1407.2" cy="747.3" r="11.2"/><circle cx="1387.8" cy="692.0" r="11.2"/><circle cx="1493.0" cy="674.9" r="11.2"/><circle cx="1492.6" cy="757.2" r="11.2"/><circle cx="1392.5" cy="712.6" r="11.2"/><circle cx="1391.6" cy="724.7" r="11.2"/><circle cx="1410.7" cy="719.5" r="11.2"/><circle cx="1441.1" cy="690.6" r="11.2"/><circle cx="1369.8" cy="714.4" r="11.2"/><circle cx="1327.9" cy="821.3" r="11.2"/><circle cx="1414.2" cy="717.7" r="11.2"/><circle cx="1331.9" cy="779.0" r="11.2"/><circle cx="1471.0" cy="829.2" r="11.2"/><circle cx="1484.3" cy="682.5" r="11.2"/><circle cx="1315.7" cy="808.5" r="11.2"/><circle cx="1361.7" cy="717.8" r="11.2"/><circle cx="1402.3" cy="760.1" r="11.2"/><circle cx="1457.4" cy="666.4" r="11.2"/><circle cx="1364.5" cy="613.8" r="11.2"/><circle cx="1458.1" cy="722.4" r="11.2"/><circle cx="1283.3" cy="784.7" r="11.2"/><circle cx="1415.4" cy="664.6" r="11.2"/><circle cx="1382.4" cy="689.0" r="11.2"/><circle cx="1422.7" cy="743.0" r="11.2"/><circle cx="1370.0" cy="752.7" r="11.2"/><circle cx="1464.9" cy="794.1" r="11.2"/><circle cx="1476.8" cy="667.9" r="11.2"/><circle cx="1283.7" cy="696.6" r="11.2"/><circle cx="1591.0" cy="760.5" r="11.2"/><circle cx="1357.2" cy="617.6" r="11.2"/><circle cx="1425.6" cy="701.3" r="11.2"/><circle cx="1453.0" cy="744.3" r="11.2"/><circle cx="1475.1" cy="696.1" r="11.2"/><circle cx="1321.6" cy="647.3" r="11.2"/><circle cx="1311.5" cy="859.2" r="11.2"/><circle cx="1522.9" cy="698.8" r="11.2"/><circle cx="1519.7" cy="669.7" r="11.2"/><circle cx="1371.9" cy="677.5" r="11.2"/><circle cx="1399.2" cy="768.8" r="11.2"/><circle cx="1570.1" cy="787.9" r="11.2"/><circle cx="1405.1" cy="737.5" r="11.2"/><circle cx="1395.9" cy="750.2" r="11.2"/><circle cx="1346.6" cy="738.5" r="11.2"/><circle cx="1448.5" cy="790.8" r="11.2"/><circle cx="1349.7" cy="749.4" r="11.2"/><circle cx="1434.9" cy="678.4" r="11.2"/><circle cx="1480.3" cy="715.6" r="11.2"/><circle cx="1588.0" cy="777.8" r="11.2"/><circle cx="1357.7" cy="716.8" r="11.2"/><circle cx="1448.4" cy="761.1" r="11.2"/><circle cx="1394.8" cy="755.1" r="11.2"/><circle cx="1425.7" cy="698.9" r="11.2"/><circle cx="1276.1" cy="727.3" r="11.2"/><circle cx="1381.6" cy="722.0" r="11.2"/><circle cx="1370.8" cy="772.8" r="11.2"/><circle cx="1495.2" cy="690.3" r="11.2"/><circle cx="1307.6" cy="738.7" r="11.2"/><circle cx="1518.9" cy="762.3" r="11.2"/><circle cx="1449.8" cy="642.4" r="11.2"/><circle cx="1370.5" cy="760.6" r="11.2"/><circle cx="1441.0" cy="729.2" r="11.2"/><circle cx="1456.5" cy="784.8" r="11.2"/><circle cx="1419.3" cy="683.3" r="11.2"/><circle cx="1305.0" cy="731.5" r="11.2"/><circle cx="1399.5" cy="715.0" r="11.2"/><circle cx="1497.4" cy="693.0" r="11.2"/><circle cx="1391.8" cy="766.6" r="11.2"/><circle cx="1370.6" cy="774.8" r="11.2"/><circle cx="1366.5" cy="708.0" r="11.2"/><circle cx="1270.9" cy="790.3" r="11.2"/><circle cx="1279.1" cy="674.4" r="11.2"/><circle cx="1398.7" cy="848.0" r="11.2"/><circle cx="1420.9" cy="682.7" r="11.2"/><circle cx="1298.5" cy="698.3" r="11.2"/><circle cx="1318.7" cy="680.4" r="11.2"/><circle cx="1415.9" cy="803.7" r="11.2"/><circle cx="1328.1" cy="805.6" r="11.2"/><circle cx="1264.3" cy="836.3" r="11.2"/><circle cx="1362.8" cy="699.6" r="11.2"/><circle cx="1376.1" cy="738.5" r="11.2"/><circle cx="1408.0" cy="706.0" r="11.2"/><circle cx="1359.1" cy="688.4" r="11.2"/><circle cx="1416.6" cy="693.9" r="11.2"/><circle cx="1359.8" cy="632.4" r="11.2"/><circle cx="1414.2" cy="757.8" r="11.2"/><circle cx="1334.5" cy="782.8" r="11.2"/><circle cx="1409.3" cy="733.1" r="11.2"/><circle cx="1282.7" cy="754.8" r="11.2"/><circle cx="1507.6" cy="855.8" r="11.2"/><circle cx="1365.7" cy="719.5" r="11.2"/><circle cx="1468.4" cy="764.7" r="11.2"/><circle cx="1363.9" cy="726.9" r="11.2"/><circle cx="1486.4" cy="768.0" r="11.2"/><circle cx="1407.9" cy="791.7" r="11.2"/><circle cx="1299.6" cy="744.9" r="11.2"/><circle cx="1362.3" cy="700.3" r="11.2"/><circle cx="1473.4" cy="840.6" r="11.2"/><circle cx="1446.5" cy="737.9" r="11.2"/><circle cx="1537.0" cy="784.6" r="11.2"/><circle cx="1362.4" cy="681.3" r="11.2"/><circle cx="1299.7" cy="758.3" r="11.2"/><circle cx="1425.9" cy="836.7" r="11.2"/><circle cx="1391.6" cy="733.4" r="11.2"/><circle cx="1356.6" cy="786.4" r="11.2"/><circle cx="1508.6" cy="839.8" r="11.2"/><circle cx="1490.3" cy="698.6" r="11.2"/><circle cx="1504.8" cy="679.6" r="11.2"/><circle cx="1367.2" cy="712.9" r="11.2"/><circle cx="1571.1" cy="697.9" r="11.2"/><circle cx="1339.4" cy="737.2" r="11.2"/><circle cx="1503.3" cy="771.0" r="11.2"/><circle cx="1455.6" cy="680.4" r="11.2"/><circle cx="1385.1" cy="805.4" r="11.2"/><circle cx="1422.3" cy="689.8" r="11.2"/><circle cx="1388.3" cy="809.8" r="11.2"/><circle cx="1543.5" cy="765.2" r="11.2"/><circle cx="1353.3" cy="827.1" r="11.2"/><circle cx="1366.7" cy="731.8" r="11.2"/><circle cx="1446.5" cy="731.7" r="11.2"/><circle cx="1401.8" cy="828.0" r="11.2"/><circle cx="1438.9" cy="643.6" r="11.2"/><circle cx="1371.1" cy="807.1" r="11.2"/><circle cx="1402.1" cy="665.7" r="11.2"/><circle cx="1483.5" cy="765.1" r="11.2"/><circle cx="1418.5" cy="765.0" r="11.2"/><circle cx="1387.2" cy="738.5" r="11.2"/><circle cx="1458.8" cy="699.1" r="11.2"/><circle cx="1508.5" cy="673.0" r="11.2"/><circle cx="1570.3" cy="747.2" r="11.2"/><circle cx="1443.4" cy="657.6" r="11.2"/><circle cx="1473.9" cy="683.5" r="11.2"/><circle cx="1452.2" cy="734.0" r="11.2"/><circle cx="1355.0" cy="833.6" r="11.2"/><circle cx="1428.0" cy="699.4" r="11.2"/><circle cx="1388.6" cy="747.5" r="11.2"/><circle cx="1419.4" cy="782.7" r="11.2"/><circle cx="1373.3" cy="740.0" r="11.2"/><circle cx="1379.4" cy="684.1" r="11.2"/><circle cx="1476.3" cy="685.4" r="11.2"/><circle cx="1294.5" cy="760.4" r="11.2"/><circle cx="1377.5" cy="761.6" r="11.2"/><circle cx="1455.0" cy="764.6" r="11.2"/><circle cx="1421.8" cy="826.1" r="11.2"/><circle cx="1338.0" cy="795.4" r="11.2"/><circle cx="1405.4" cy="747.8" r="11.2"/><circle cx="1384.7" cy="780.9" r="11.2"/><circle cx="1452.2" cy="706.5" r="11.2"/><circle cx="1420.4" cy="760.7" r="11.2"/><circle cx="1459.0" cy="710.7" r="11.2"/><circle cx="1492.4" cy="753.7" r="11.2"/><circle cx="1378.5" cy="707.2" r="11.2"/><circle cx="1298.3" cy="767.7" r="11.2"/><circle cx="1529.4" cy="735.7" r="11.2"/><circle cx="1357.6" cy="621.2" r="11.2"/><circle cx="1326.5" cy="723.8" r="11.2"/><circle cx="1369.7" cy="717.8" r="11.2"/><circle cx="1354.7" cy="716.4" r="11.2"/><circle cx="1400.2" cy="741.0" r="11.2"/><circle cx="1423.8" cy="743.6" r="11.2"/><circle cx="1356.7" cy="709.1" r="11.2"/><circle cx="1326.6" cy="693.1" r="11.2"/><circle cx="1414.2" cy="757.3" r="11.2"/><circle cx="1317.2" cy="664.7" r="11.2"/><circle cx="1377.3" cy="654.0" r="11.2"/><circle cx="1395.4" cy="717.2" r="11.2"/><circle cx="1363.3" cy="825.0" r="11.2"/><circle cx="1384.8" cy="743.1" r="11.2"/><circle cx="1285.1" cy="770.4" r="11.2"/><circle cx="1439.8" cy="744.8" r="11.2"/><circle cx="1366.3" cy="751.0" r="11.2"/><circle cx="1413.8" cy="698.0" r="11.2"/><circle cx="1381.5" cy="802.6" r="11.2"/><circle cx="1497.1" cy="632.8" r="11.2"/><circle cx="1383.0" cy="765.9" r="11.2"/><circle cx="1385.0" cy="746.7" r="11.2"/><circle cx="1391.9" cy="827.7" r="11.2"/><circle cx="1469.0" cy="723.4" r="11.2"/><circle cx="1520.5" cy="778.6" r="11.2"/><circle cx="1540.3" cy="712.6" r="11.2"/><circle cx="1304.4" cy="769.4" r="11.2"/><circle cx="1418.2" cy="624.1" r="11.2"/><circle cx="1420.5" cy="681.6" r="11.2"/><circle cx="1380.6" cy="733.8" r="11.2"/><circle cx="1312.4" cy="797.5" r="11.2"/><circle cx="1318.9" cy="724.0" r="11.2"/><circle cx="1415.8" cy="699.6" r="11.2"/><circle cx="1357.7" cy="777.1" r="11.2"/><circle cx="1296.1" cy="719.2" r="11.2"/><circle cx="1534.4" cy="692.5" r="11.2"/><circle cx="1300.8" cy="689.6" r="11.2"/><circle cx="1327.2" cy="670.9" r="11.2"/><circle cx="1347.9" cy="759.0" r="11.2"/><circle cx="1416.4" cy="666.2" r="11.2"/><circle cx="1509.5" cy="676.7" r="11.2"/><circle cx="1522.8" cy="707.4" r="11.2"/><circle cx="1345.1" cy="694.5" r="11.2"/><circle cx="1519.7" cy="744.3" r="11.2"/><circle cx="1411.0" cy="626.2" r="11.2"/><circle cx="1411.2" cy="708.5" r="11.2"/><circle cx="1385.5" cy="677.2" r="11.2"/><circle cx="1294.5" cy="795.5" r="11.2"/><circle cx="1340.4" cy="758.2" r="11.2"/><circle cx="1455.1" cy="741.0" r="11.2"/><circle cx="1422.9" cy="767.7" r="11.2"/><circle cx="1386.8" cy="720.4" r="11.2"/><circle cx="1437.0" cy="741.1" r="11.2"/><circle cx="1410.0" cy="650.8" r="11.2"/><circle cx="1499.6" cy="811.4" r="11.2"/><circle cx="1430.6" cy="744.6" r="11.2"/><circle cx="1354.3" cy="834.6" r="11.2"/><circle cx="1313.6" cy="856.8" r="11.2"/><circle cx="1399.3" cy="601.0" r="11.2"/><circle cx="1547.5" cy="725.3" r="11.2"/><circle cx="1439.9" cy="797.6" r="11.2"/><circle cx="1294.6" cy="688.1" r="11.2"/><circle cx="1422.5" cy="806.3" r="11.2"/><circle cx="1399.8" cy="762.6" r="11.2"/><circle cx="1281.4" cy="749.0" r="11.2"/><circle cx="1343.8" cy="700.4" r="11.2"/><circle cx="1420.7" cy="783.4" r="11.2"/><circle cx="1361.9" cy="750.1" r="11.2"/><circle cx="1389.9" cy="764.4" r="11.2"/><circle cx="1379.3" cy="811.2" r="11.2"/><circle cx="1335.6" cy="657.6" r="11.2"/><circle cx="1508.6" cy="691.1" r="11.2"/><circle cx="1462.2" cy="775.1" r="11.2"/><circle cx="1287.2" cy="699.4" r="11.2"/><circle cx="1377.5" cy="717.2" r="11.2"/><circle cx="1301.8" cy="729.6" r="11.2"/><circle cx="1427.9" cy="661.1" r="11.2"/><circle cx="1414.4" cy="741.1" r="11.2"/><circle cx="1285.2" cy="712.7" r="11.2"/><circle cx="1480.2" cy="778.8" r="11.2"/><circle cx="1331.2" cy="673.3" r="11.2"/><circle cx="1631.9" cy="750.1" r="11.2"/><circle cx="1502.8" cy="788.2" r="11.2"/><circle cx="1418.5" cy="774.2" r="11.2"/><circle cx="1443.7" cy="795.5" r="11.2"/><circle cx="1507.1" cy="845.6" r="11.2"/><circle cx="1494.0" cy="848.8" r="11.2"/><circle cx="1509.3" cy="803.0" r="11.2"/><circle cx="1461.8" cy="754.4" r="11.2"/><circle cx="1366.4" cy="794.2" r="11.2"/><circle cx="1464.8" cy="812.0" r="11.2"/><circle cx="1499.3" cy="741.3" r="11.2"/><circle cx="1426.7" cy="747.5" r="11.2"/><circle cx="1545.3" cy="792.2" r="11.2"/><circle cx="1484.1" cy="756.9" r="11.2"/><circle cx="1387.5" cy="771.1" r="11.2"/><circle cx="1468.3" cy="817.5" r="11.2"/><circle cx="1370.1" cy="811.6" r="11.2"/><circle cx="1415.8" cy="773.6" r="11.2"/><circle cx="1452.2" cy="777.8" r="11.2"/><circle cx="1506.9" cy="835.8" r="11.2"/><circle cx="1498.6" cy="772.8" r="11.2"/><circle cx="1504.0" cy="813.5" r="11.2"/><circle cx="1534.5" cy="808.8" r="11.2"/><circle cx="1363.6" cy="763.1" r="11.2"/><circle cx="1447.3" cy="837.8" r="11.2"/><circle cx="1465.7" cy="837.3" r="11.2"/><circle cx="1495.2" cy="744.1" r="11.2"/><circle cx="1478.2" cy="821.4" r="11.2"/><circle cx="1503.1" cy="731.1" r="11.2"/><circle cx="1504.5" cy="770.8" r="11.2"/><circle cx="1329.5" cy="771.6" r="11.2"/><circle cx="1339.0" cy="740.3" r="11.2"/><circle cx="1548.2" cy="816.1" r="11.2"/><circle cx="1606.1" cy="812.0" r="11.2"/><circle cx="1479.6" cy="758.5" r="11.2"/><circle cx="1547.2" cy="793.0" r="11.2"/><circle cx="1489.7" cy="816.8" r="11.2"/><circle cx="1434.7" cy="806.3" r="11.2"/><circle cx="1636.9" cy="755.3" r="11.2"/><circle cx="1486.9" cy="820.6" r="11.2"/><circle cx="1438.0" cy="795.0" r="11.2"/><circle cx="1356.6" cy="777.7" r="11.2"/><circle cx="1478.6" cy="847.1" r="11.2"/><circle cx="1541.7" cy="771.5" r="11.2"/><circle cx="1398.6" cy="879.3" r="11.2"/><circle cx="1538.0" cy="712.0" r="11.2"/><circle cx="1452.5" cy="757.1" r="11.2"/><circle cx="1433.8" cy="720.7" r="11.2"/><circle cx="1446.9" cy="774.5" r="11.2"/><circle cx="1459.8" cy="844.3" r="11.2"/><circle cx="1492.1" cy="743.1" r="11.2"/><circle cx="1355.4" cy="774.0" r="11.2"/><circle cx="1556.8" cy="840.0" r="11.2"/><circle cx="1435.6" cy="850.0" r="11.2"/><circle cx="1507.0" cy="770.8" r="11.2"/><circle cx="1507.0" cy="794.5" r="11.2"/><circle cx="1399.1" cy="778.6" r="11.2"/><circle cx="1488.4" cy="857.5" r="11.2"/><circle cx="1404.8" cy="809.0" r="11.2"/><circle cx="1478.8" cy="796.1" r="11.2"/><circle cx="1392.0" cy="855.1" r="11.2"/><circle cx="1568.4" cy="870.4" r="11.2"/><circle cx="1510.4" cy="865.2" r="11.2"/><circle cx="1515.5" cy="843.5" r="11.2"/><circle cx="1454.4" cy="808.7" r="11.2"/><circle cx="1455.1" cy="751.1" r="11.2"/><circle cx="1447.4" cy="748.1" r="11.2"/><circle cx="1399.7" cy="781.1" r="11.2"/><circle cx="1435.7" cy="892.0" r="11.2"/><circle cx="1602.6" cy="847.6" r="11.2"/><circle cx="1533.7" cy="760.0" r="11.2"/><circle cx="1497.6" cy="733.6" r="11.2"/><circle cx="1434.1" cy="777.1" r="11.2"/><circle cx="1452.5" cy="837.8" r="11.2"/><circle cx="1442.4" cy="837.4" r="11.2"/><circle cx="1367.2" cy="840.1" r="11.2"/><circle cx="1391.9" cy="808.0" r="11.2"/><circle cx="1478.1" cy="836.3" r="11.2"/><circle cx="1521.5" cy="816.7" r="11.2"/><circle cx="1468.1" cy="887.7" r="11.2"/><circle cx="1446.1" cy="799.7" r="11.2"/><circle cx="1445.4" cy="805.3" r="11.2"/><circle cx="1410.8" cy="780.4" r="11.2"/><circle cx="1514.1" cy="772.9" r="11.2"/><circle cx="1511.3" cy="772.6" r="11.2"/><circle cx="1578.7" cy="793.0" r="11.2"/><circle cx="1602.5" cy="821.6" r="11.2"/><circle cx="1469.3" cy="842.1" r="11.2"/><circle cx="1560.7" cy="868.3" r="11.2"/><circle cx="1576.6" cy="839.6" r="11.2"/><circle cx="1396.3" cy="841.4" r="11.2"/><circle cx="1472.4" cy="817.5" r="11.2"/><circle cx="1567.9" cy="766.7" r="11.2"/><circle cx="1517.8" cy="785.0" r="11.2"/><circle cx="1575.5" cy="807.4" r="11.2"/><circle cx="1552.9" cy="856.0" r="11.2"/><circle cx="1372.1" cy="813.7" r="11.2"/><circle cx="1371.2" cy="767.2" r="11.2"/><circle cx="1521.4" cy="744.9" r="11.2"/><circle cx="1427.7" cy="778.3" r="11.2"/><circle cx="1500.5" cy="814.8" r="11.2"/><circle cx="1509.6" cy="776.1" r="11.2"/><circle cx="1425.3" cy="817.5" r="11.2"/><circle cx="1416.9" cy="762.1" r="11.2"/><circle cx="1527.4" cy="762.7" r="11.2"/><circle cx="1414.3" cy="849.8" r="11.2"/><circle cx="1424.7" cy="886.9" r="11.2"/><circle cx="1527.1" cy="831.9" r="11.2"/><circle cx="1499.8" cy="716.1" r="11.2"/><circle cx="1548.0" cy="811.1" r="11.2"/><circle cx="1460.9" cy="725.2" r="11.2"/><circle cx="1433.0" cy="793.2" r="11.2"/><circle cx="1459.7" cy="808.6" r="11.2"/><circle cx="1450.4" cy="843.5" r="11.2"/><circle cx="1521.3" cy="746.2" r="11.2"/><circle cx="1434.8" cy="817.3" r="11.2"/><circle cx="1438.4" cy="861.5" r="11.2"/><circle cx="1439.3" cy="809.3" r="11.2"/><circle cx="1519.9" cy="747.0" r="11.2"/><circle cx="1565.0" cy="788.7" r="11.2"/><circle cx="1448.2" cy="670.8" r="11.2"/><circle cx="1497.6" cy="660.2" r="11.2"/><circle cx="1470.1" cy="668.0" r="11.2"/><circle cx="1405.0" cy="603.0" r="11.2"/><circle cx="1317.2" cy="655.9" r="11.2"/><circle cx="1447.2" cy="639.2" r="11.2"/><circle cx="1415.9" cy="616.2" r="11.2"/><circle cx="1500.0" cy="659.0" r="11.2"/><circle cx="1437.8" cy="629.3" r="11.2"/><circle cx="1398.2" cy="656.6" r="11.2"/><circle cx="1369.2" cy="634.5" r="11.2"/><circle cx="1518.2" cy="609.0" r="11.2"/><circle cx="1372.9" cy="682.7" r="11.2"/><circle cx="1442.5" cy="644.2" r="11.2"/><circle cx="1369.9" cy="606.1" r="11.2"/><circle cx="1447.5" cy="626.6" r="11.2"/><circle cx="1473.4" cy="654.3" r="11.2"/><circle cx="1437.3" cy="650.1" r="11.2"/><circle cx="1338.7" cy="644.2" r="11.2"/><circle cx="1448.8" cy="638.1" r="11.2"/><circle cx="1426.4" cy="613.0" r="11.2"/><circle cx="1423.6" cy="671.0" r="11.2"/><circle cx="1414.6" cy="671.5" r="11.2"/><circle cx="1387.4" cy="622.4" r="11.2"/><circle cx="1435.5" cy="618.5" r="11.2"/><circle cx="1318.2" cy="648.1" r="11.2"/><circle cx="1419.9" cy="654.1" r="11.2"/><circle cx="1367.6" cy="629.4" r="11.2"/><circle cx="1449.3" cy="628.2" r="11.2"/><circle cx="1406.9" cy="645.5" r="11.2"/><circle cx="1374.6" cy="645.8" r="11.2"/><circle cx="1331.3" cy="651.8" r="11.2"/><circle cx="1395.9" cy="601.0" r="11.2"/><circle cx="1350.0" cy="633.0" r="11.2"/><circle cx="1373.4" cy="651.9" r="11.2"/><circle cx="1428.5" cy="658.4" r="11.2"/><circle cx="1406.5" cy="659.2" r="11.2"/><circle cx="1502.2" cy="618.3" r="11.2"/><circle cx="1413.5" cy="636.8" r="11.2"/><circle cx="1414.7" cy="667.5" r="11.2"/><circle cx="1399.6" cy="618.6" r="11.2"/><circle cx="1339.8" cy="604.6" r="11.2"/><circle cx="1414.1" cy="661.5" r="11.2"/><circle cx="1423.1" cy="620.8" r="11.2"/><circle cx="1410.1" cy="618.2" r="11.2"/><circle cx="1480.8" cy="643.0" r="11.2"/><circle cx="1507.7" cy="656.0" r="11.2"/><circle cx="1458.0" cy="617.7" r="11.2"/><circle cx="1450.7" cy="631.0" r="11.2"/><circle cx="1387.8" cy="644.6" r="11.2"/><circle cx="1517.8" cy="652.4" r="11.2"/><circle cx="1339.9" cy="628.1" r="11.2"/><circle cx="1534.2" cy="654.7" r="11.2"/><circle cx="1427.0" cy="630.1" r="11.2"/><circle cx="1432.4" cy="651.1" r="11.2"/><circle cx="1397.7" cy="639.8" r="11.2"/><circle cx="1439.3" cy="615.4" r="11.2"/><circle cx="1408.0" cy="623.8" r="11.2"/><circle cx="1385.7" cy="620.1" r="11.2"/><circle cx="1386.3" cy="621.8" r="11.2"/><circle cx="1526.2" cy="637.3" r="11.2"/><circle cx="1445.0" cy="622.6" r="11.2"/><circle cx="1431.5" cy="651.8" r="11.2"/><circle cx="1517.5" cy="682.4" r="11.2"/><circle cx="1397.7" cy="683.6" r="11.2"/><circle cx="1428.5" cy="670.4" r="11.2"/><circle cx="1420.2" cy="658.8" r="11.2"/><circle cx="1418.9" cy="609.9" r="11.2"/><circle cx="1458.2" cy="634.6" r="11.2"/><circle cx="1417.5" cy="647.9" r="11.2"/><circle cx="1362.8" cy="933.9" r="11.2"/><circle cx="1439.6" cy="892.8" r="11.2"/><circle cx="1462.4" cy="885.9" r="11.2"/><circle cx="1423.8" cy="927.6" r="11.2"/><circle cx="1380.0" cy="911.4" r="11.2"/><circle cx="1466.1" cy="942.7" r="11.2"/><circle cx="1447.5" cy="882.1" r="11.2"/><circle cx="1439.7" cy="872.3" r="11.2"/><circle cx="1435.9" cy="892.4" r="11.2"/><circle cx="1398.0" cy="922.4" r="11.2"/><circle cx="1413.7" cy="893.3" r="11.2"/><circle cx="1390.9" cy="883.7" r="11.2"/><circle cx="1433.4" cy="921.5" r="11.2"/><circle cx="1410.9" cy="904.4" r="11.2"/><circle cx="1382.8" cy="883.3" r="11.2"/><circle cx="1479.1" cy="956.0" r="11.2"/><circle cx="1447.6" cy="914.1" r="11.2"/><circle cx="1436.0" cy="890.2" r="11.2"/><circle cx="1381.7" cy="911.1" r="11.2"/><circle cx="1384.2" cy="908.3" r="11.2"/><circle cx="1381.4" cy="894.4" r="11.2"/><circle cx="1422.6" cy="912.6" r="11.2"/><circle cx="1366.5" cy="918.8" r="11.2"/><circle cx="1396.0" cy="877.2" r="11.2"/><circle cx="1398.5" cy="901.7" r="11.2"/><circle cx="1399.0" cy="882.5" r="11.2"/><circle cx="1443.5" cy="914.6" r="11.2"/><circle cx="1473.2" cy="938.0" r="11.2"/><circle cx="1472.1" cy="885.2" r="11.2"/><circle cx="1429.1" cy="920.7" r="11.2"/><circle cx="1460.0" cy="904.8" r="11.2"/><circle cx="1449.6" cy="940.6" r="11.2"/><circle cx="1390.2" cy="874.7" r="11.2"/><circle cx="1394.1" cy="904.9" r="11.2"/><circle cx="1383.0" cy="896.7" r="11.2"/><circle cx="1407.7" cy="874.7" r="11.2"/><circle cx="1474.0" cy="944.6" r="11.2"/><circle cx="1365.3" cy="915.8" r="11.2"/><circle cx="1412.2" cy="868.8" r="11.2"/><circle cx="1403.9" cy="888.0" r="11.2"/><circle cx="1487.6" cy="923.3" r="11.2"/><circle cx="1424.0" cy="917.7" r="11.2"/><circle cx="1444.1" cy="876.1" r="11.2"/><circle cx="1470.1" cy="921.5" r="11.2"/><circle cx="1464.3" cy="959.5" r="11.2"/></g>
<polygon points="1267.1,642.4 1289.1,644.4 1311.1,646.3 1333.0,648.1 1355.0,649.9 1377.0,651.6 1399.0,653.3 1421.0,654.9 1442.9,656.4 1464.9,657.8 1486.9,659.2 1508.9,660.5 1530.8,661.7 1552.8,662.8 1574.8,663.9 1596.8,664.9 1618.8,665.9 1640.7,666.7 1662.7,667.6 1684.7,668.3 1706.7,669.1 1728.7,669.7 1750.6,670.4 1772.6,671.0 1794.6,671.5 1794.6,735.5 1772.6,733.3 1750.6,731.1 1728.7,729.0 1706.7,726.9 1684.7,724.9 1662.7,722.9 1640.7,721.0 1618.8,719.1 1596.8,717.3 1574.8,715.5 1552.8,713.8 1530.8,712.2 1508.9,710.7 1486.9,709.2 1464.9,707.8 1442.9,706.5 1421.0,705.2 1399.0,704.1 1377.0,703.0 1355.0,701.9 1333.0,701.0 1311.1,700.0 1289.1,699.2 1267.1,698.4" fill="#d9695a" fill-opacity="0.250"/>
<polygon points="1281.7,696.2 1301.2,699.8 1320.8,703.3 1340.3,706.6 1359.8,709.6 1379.4,712.4 1398.9,715.0 1418.4,717.3 1438.0,719.6 1457.5,721.6 1477.0,723.6 1496.6,725.4 1516.1,727.2 1535.6,729.0 1555.2,730.6 1574.7,732.3 1594.2,733.9 1613.8,735.4 1633.3,737.0 1652.8,738.5 1672.4,740.1 1691.9,741.6 1711.4,743.0 1731.0,744.5 1750.5,746.0 1750.5,814.0 1731.0,809.5 1711.4,805.1 1691.9,800.6 1672.4,796.2 1652.8,791.8 1633.3,787.3 1613.8,783.0 1594.2,778.6 1574.7,774.3 1555.2,770.0 1535.6,765.7 1516.1,761.5 1496.6,757.3 1477.0,753.2 1457.5,749.2 1438.0,745.4 1418.4,741.7 1398.9,738.1 1379.4,734.7 1359.8,731.6 1340.3,728.7 1320.8,726.0 1301.2,723.5 1281.7,721.2" fill="#f5b070" fill-opacity="0.250"/>
<polygon points="1274.1,704.4 1287.9,707.3 1301.7,710.2 1315.5,713.0 1329.3,715.8 1343.1,718.5 1356.8,721.1 1370.6,723.6 1384.4,726.1 1398.2,728.5 1412.0,730.7 1425.8,732.8 1439.6,734.8 1453.4,736.6 1467.2,738.3 1481.0,739.9 1494.8,741.3 1508.6,742.5 1522.3,743.7 1536.1,744.7 1549.9,745.6 1563.7,746.4 1577.5,747.2 1591.3,747.8 1605.1,748.4 1605.1,797.6 1591.3,794.9 1577.5,792.2 1563.7,789.6 1549.9,787.1 1536.1,784.6 1522.3,782.3 1508.6,780.1 1494.8,778.1 1481.0,776.1 1467.2,774.3 1453.4,772.7 1439.6,771.2 1425.8,769.9 1412.0,768.6 1398.2,767.5 1384.4,766.6 1370.6,765.7 1356.8,764.9 1343.1,764.2 1329.3,763.6 1315.5,763.0 1301.7,762.5 1287.9,762.0 1274.1,761.6" fill="#8ab4e0" fill-opacity="0.330"/>
<polygon points="1295.6,784.3 1318.3,788.8 1341.0,793.2 1363.8,797.6 1386.5,801.9 1409.2,806.0 1431.9,810.1 1454.6,814.0 1477.4,817.8 1500.1,821.4 1522.8,824.8 1545.5,828.1 1568.2,831.1 1591.0,834.1 1613.7,836.8 1636.4,839.5 1659.1,842.0 1681.9,844.3 1704.6,846.6 1727.3,848.8 1750.0,851.0 1772.7,853.1 1795.5,855.1 1818.2,857.1 1840.9,859.0 1840.9,915.0 1818.2,910.3 1795.5,905.7 1772.7,901.1 1750.0,896.6 1727.3,892.2 1704.6,887.8 1681.9,883.5 1659.1,879.2 1636.4,875.1 1613.7,871.2 1591.0,867.3 1568.2,863.7 1545.5,860.1 1522.8,856.8 1500.1,853.6 1477.4,850.6 1454.6,847.8 1431.9,845.1 1409.2,842.6 1386.5,840.1 1363.8,837.8 1341.0,835.6 1318.3,833.4 1295.6,831.3" fill="#7fbcc6" fill-opacity="0.360"/>
<line x1="1267.10" y1="670.40" x2="1794.60" y2="703.50" stroke="#c23b22" stroke-width="10.5"/>
<line x1="1281.70" y1="708.70" x2="1750.50" y2="780.00" stroke="#e6892a" stroke-width="10.5"/>
<line x1="1274.10" y1="733.00" x2="1605.10" y2="773.00" stroke="#3a7fc4" stroke-width="10.5"/>
<line x1="1295.60" y1="807.80" x2="1840.90" y2="887.00" stroke="#0d7b8a" stroke-width="10.5"/>
<line x1="1234.7" y1="291.0" x2="1234.7" y2="1073.5" stroke="#000" stroke-width="5.0"/>
<line x1="1237.9" y1="1073.8" x2="1870.4" y2="1073.8" stroke="#000" stroke-width="5.0"/>
<line x1="1222.2" y1="327.3" x2="1232.7" y2="327.3" stroke="#000" stroke-width="4.6"/>
<line x1="1222.2" y1="456.6" x2="1232.7" y2="456.6" stroke="#000" stroke-width="4.6"/>
<line x1="1222.2" y1="585.8" x2="1232.7" y2="585.8" stroke="#000" stroke-width="4.6"/>
<line x1="1222.2" y1="714.6" x2="1232.7" y2="714.6" stroke="#000" stroke-width="4.6"/>
<line x1="1222.2" y1="843.6" x2="1232.7" y2="843.6" stroke="#000" stroke-width="4.6"/>
<line x1="1222.2" y1="972.7" x2="1232.7" y2="972.7" stroke="#000" stroke-width="4.6"/>
<line x1="1353.5" y1="1075.8" x2="1353.5" y2="1086.3" stroke="#000" stroke-width="4.8"/>
<line x1="1478.8" y1="1075.8" x2="1478.8" y2="1086.3" stroke="#000" stroke-width="4.8"/>
<line x1="1603.9" y1="1075.8" x2="1603.9" y2="1086.3" stroke="#000" stroke-width="4.8"/>
<line x1="1728.8" y1="1075.8" x2="1728.8" y2="1086.3" stroke="#000" stroke-width="4.8"/>
<line x1="1854.2" y1="1075.8" x2="1854.2" y2="1086.3" stroke="#555" stroke-width="4.8"/>
<text x="1088.49" y="344.70" font-size="50.00" fill="#000">3.00</text>
<text x="1088.49" y="474.00" font-size="50.00" fill="#000">2.00</text>
<text x="1088.49" y="603.20" font-size="50.00" fill="#000">1.00</text>
<text x="1088.49" y="732.00" font-size="50.00" fill="#000">0.00</text>
<text x="1090.10" y="861.00" font-size="50.00" fill="#000">−1.00</text>
<text x="1090.10" y="990.10" font-size="50.00" fill="#000">−2.00</text>
<text x="1318.20" y="1143.00" font-size="50.00" fill="#000">5</text>
<text x="1430.30" y="1143.00" font-size="50.00" fill="#000">10</text>
<text x="1555.10" y="1143.00" font-size="50.00" fill="#000">15</text>
<text x="1679.40" y="1143.00" font-size="50.00" fill="#000">20</text>
<text x="1826.10" y="1143.00" font-size="50.00" fill="#333">25</text>
<text transform="translate(1394.01 1210.30) scale(0.9966 1)" font-size="58.00" fill="#000"><tspan>crop diversity</tspan></text>
<text transform="translate(1051.10 1056.78) rotate(-90) scale(0.9927 1)" font-size="58.00" fill="#000">log10(Average area of crops)</text>
<text transform="translate(1882.25 248.50) scale(1.0175 1)" font-size="58.00" fill="#000"><tspan>(b)</tspan></text>
<text transform="translate(1262.91 341.30) scale(0.9926 1)" font-size="41.50" fill="#000"><tspan font-weight="bold" fill="#c8161e">SL</tspan><tspan>:slope = -0.012 ± 0.01</tspan></text>
<text transform="translate(1735.10 341.30) scale(0.7875 1)" font-size="41.50" fill="#000"><tspan>*</tspan></text>
<text transform="translate(1261.91 387.60) scale(0.9951 1)" font-size="41.50" fill="#000"><tspan font-weight="bold" fill="#f6b226">M</tspan><tspan>: slope = -0.030 ±0.01</tspan></text>
<text transform="translate(1716.30 387.60) scale(0.9379 1)" font-size="41.50" fill="#000"><tspan>***</tspan></text>
<text transform="translate(1261.91 433.60) scale(0.9957 1)" font-size="41.50" fill="#000"><tspan font-weight="bold" fill="#215a6b">MS</tspan><tspan>: slope = -0.022 ± 0.01</tspan></text>
<text transform="translate(1755.50 433.60) scale(0.9207 1)" font-size="41.50" fill="#000"><tspan>**</tspan></text>
<text transform="translate(1262.91 479.40) scale(0.9933 1)" font-size="41.50" fill="#000"><tspan font-weight="bold" fill="#4e6437">S</tspan><tspan>: slope = -0.029 ± 0.01</tspan></text>
<text transform="translate(1720.80 479.40) scale(0.9441 1)" font-size="41.50" fill="#000"><tspan>***</tspan></text>
<g stroke="#141414" stroke-width="2.90"><rect x="230.60" y="1324.20" width="19.97" height="4.40" fill="#2f98a6"/><line x1="230.60" y1="1324.20" x2="250.57" y2="1324.20"/><line x1="230.60" y1="1322.75" x2="230.60" y2="1328.60"/><line x1="250.57" y1="1322.75" x2="250.57" y2="1328.60"/><rect x="250.57" y="1312.90" width="19.97" height="15.70" fill="#4f8fcc"/><line x1="250.57" y1="1312.90" x2="270.54" y2="1312.90"/><line x1="250.57" y1="1311.45" x2="250.57" y2="1328.60"/><line x1="270.54" y1="1311.45" x2="270.54" y2="1328.60"/><rect x="270.54" y="1316.40" width="19.97" height="3.60" fill="#2f98a6"/><rect x="270.54" y="1320.00" width="19.97" height="8.60" fill="#4f8fcc"/><line x1="270.54" y1="1316.40" x2="290.51" y2="1316.40"/><line x1="270.54" y1="1320.00" x2="290.51" y2="1320.00"/><line x1="270.54" y1="1314.95" x2="270.54" y2="1328.60"/><line x1="290.51" y1="1314.95" x2="290.51" y2="1328.60"/><rect x="290.51" y="1324.80" width="19.97" height="3.80" fill="#2f98a6"/><line x1="290.51" y1="1324.80" x2="310.48" y2="1324.80"/><line x1="290.51" y1="1323.35" x2="290.51" y2="1328.60"/><line x1="310.48" y1="1323.35" x2="310.48" y2="1328.60"/><rect x="310.48" y="1305.60" width="19.97" height="23.00" fill="#4f8fcc"/><line x1="310.48" y1="1305.60" x2="330.45" y2="1305.60"/><line x1="310.48" y1="1304.15" x2="310.48" y2="1328.60"/><line x1="330.45" y1="1304.15" x2="330.45" y2="1328.60"/><rect x="330.45" y="1316.80" width="19.97" height="11.80" fill="#2f98a6"/><line x1="330.45" y1="1316.80" x2="350.42" y2="1316.80"/><line x1="330.45" y1="1315.35" x2="330.45" y2="1328.60"/><line x1="350.42" y1="1315.35" x2="350.42" y2="1328.60"/><rect x="350.42" y="1286.00" width="19.97" height="38.50" fill="#2f98a6"/><rect x="350.42" y="1324.50" width="19.97" height="4.10" fill="#4f8fcc"/><line x1="350.42" y1="1286.00" x2="370.39" y2="1286.00"/><line x1="350.42" y1="1324.50" x2="370.39" y2="1324.50"/><line x1="350.42" y1="1284.55" x2="350.42" y2="1328.60"/><line x1="370.39" y1="1284.55" x2="370.39" y2="1328.60"/><rect x="370.39" y="1239.60" width="19.97" height="65.40" fill="#2f98a6"/><rect x="370.39" y="1305.00" width="19.97" height="8.00" fill="#4f8fcc"/><rect x="370.39" y="1313.00" width="19.97" height="15.60" fill="#e3973f"/><line x1="370.39" y1="1239.60" x2="390.36" y2="1239.60"/><line x1="370.39" y1="1305.00" x2="390.36" y2="1305.00"/><line x1="370.39" y1="1313.00" x2="390.36" y2="1313.00"/><line x1="370.39" y1="1238.15" x2="370.39" y2="1328.60"/><line x1="390.36" y1="1238.15" x2="390.36" y2="1328.60"/><rect x="390.36" y="1258.70" width="19.97" height="19.10" fill="#2f98a6"/><rect x="390.36" y="1277.80" width="19.97" height="34.80" fill="#e3973f"/><rect x="390.36" y="1312.60" width="19.97" height="16.00" fill="#c84b2a"/><line x1="390.36" y1="1258.70" x2="410.33" y2="1258.70"/><line x1="390.36" y1="1277.80" x2="410.33" y2="1277.80"/><line x1="390.36" y1="1312.60" x2="410.33" y2="1312.60"/><line x1="390.36" y1="1257.25" x2="390.36" y2="1328.60"/><line x1="410.33" y1="1257.25" x2="410.33" y2="1328.60"/><rect x="410.33" y="1286.00" width="19.97" height="20.00" fill="#2f98a6"/><rect x="410.33" y="1306.00" width="19.97" height="10.80" fill="#e3973f"/><rect x="410.33" y="1316.80" width="19.97" height="11.80" fill="#c84b2a"/><line x1="410.33" y1="1286.00" x2="430.30" y2="1286.00"/><line x1="410.33" y1="1306.00" x2="430.30" y2="1306.00"/><line x1="410.33" y1="1316.80" x2="430.30" y2="1316.80"/><line x1="410.33" y1="1284.55" x2="410.33" y2="1328.60"/><line x1="430.30" y1="1284.55" x2="430.30" y2="1328.60"/><rect x="430.30" y="1277.60" width="19.97" height="12.40" fill="#cd5b47"/><rect x="430.30" y="1290.00" width="19.97" height="38.60" fill="#c84b2a"/><line x1="430.30" y1="1277.60" x2="450.27" y2="1277.60"/><line x1="430.30" y1="1276.15" x2="430.30" y2="1328.60"/><line x1="450.27" y1="1276.15" x2="450.27" y2="1328.60"/><rect x="450.27" y="1250.90" width="19.97" height="26.90" fill="#2f98a6"/><rect x="450.27" y="1277.80" width="19.97" height="50.80" fill="#c84b2a"/><line x1="450.27" y1="1250.90" x2="470.24" y2="1250.90"/><line x1="450.27" y1="1277.80" x2="470.24" y2="1277.80"/><line x1="450.27" y1="1249.45" x2="450.27" y2="1328.60"/><line x1="470.24" y1="1249.45" x2="470.24" y2="1328.60"/><rect x="470.24" y="1247.70" width="19.97" height="9.60" fill="#2f98a6"/><rect x="470.24" y="1257.30" width="19.97" height="9.00" fill="#4f8fcc"/><rect x="470.24" y="1266.30" width="19.97" height="62.30" fill="#c84b2a"/><line x1="470.24" y1="1247.70" x2="490.21" y2="1247.70"/><line x1="470.24" y1="1257.30" x2="490.21" y2="1257.30"/><line x1="470.24" y1="1266.30" x2="490.21" y2="1266.30"/><line x1="470.24" y1="1246.25" x2="470.24" y2="1328.60"/><line x1="490.21" y1="1246.25" x2="490.21" y2="1328.60"/><rect x="490.21" y="1235.60" width="19.97" height="54.70" fill="#4f8fcc"/><rect x="490.21" y="1290.30" width="19.97" height="15.70" fill="#e3973f"/><rect x="490.21" y="1306.00" width="19.97" height="22.60" fill="#c84b2a"/><line x1="490.21" y1="1235.60" x2="510.18" y2="1235.60"/><line x1="490.21" y1="1290.30" x2="510.18" y2="1290.30"/><line x1="490.21" y1="1306.00" x2="510.18" y2="1306.00"/><line x1="490.21" y1="1234.15" x2="490.21" y2="1328.60"/><line x1="510.18" y1="1234.15" x2="510.18" y2="1328.60"/><rect x="510.18" y="1262.90" width="19.97" height="27.40" fill="#4f8fcc"/><rect x="510.18" y="1290.30" width="19.97" height="11.30" fill="#e3973f"/><rect x="510.18" y="1301.60" width="19.97" height="27.00" fill="#c84b2a"/><line x1="510.18" y1="1262.90" x2="530.15" y2="1262.90"/><line x1="510.18" y1="1290.30" x2="530.15" y2="1290.30"/><line x1="510.18" y1="1301.60" x2="530.15" y2="1301.60"/><line x1="510.18" y1="1261.45" x2="510.18" y2="1328.60"/><line x1="530.15" y1="1261.45" x2="530.15" y2="1328.60"/><rect x="530.15" y="1239.60" width="19.97" height="22.60" fill="#4f8fcc"/><rect x="530.15" y="1262.20" width="19.97" height="23.80" fill="#e3973f"/><rect x="530.15" y="1286.00" width="19.97" height="42.60" fill="#c84b2a"/><line x1="530.15" y1="1239.60" x2="550.12" y2="1239.60"/><line x1="530.15" y1="1262.20" x2="550.12" y2="1262.20"/><line x1="530.15" y1="1286.00" x2="550.12" y2="1286.00"/><line x1="530.15" y1="1238.15" x2="530.15" y2="1328.60"/><line x1="550.12" y1="1238.15" x2="550.12" y2="1328.60"/><rect x="550.12" y="1247.70" width="19.97" height="14.50" fill="#e3973f"/><rect x="550.12" y="1262.20" width="19.97" height="66.40" fill="#c84b2a"/><line x1="550.12" y1="1247.70" x2="570.09" y2="1247.70"/><line x1="550.12" y1="1262.20" x2="570.09" y2="1262.20"/><line x1="550.12" y1="1246.25" x2="550.12" y2="1328.60"/><line x1="570.09" y1="1246.25" x2="570.09" y2="1328.60"/><rect x="570.09" y="1266.90" width="19.97" height="19.10" fill="#e3973f"/><rect x="570.09" y="1286.00" width="19.97" height="42.60" fill="#c84b2a"/><line x1="570.09" y1="1266.90" x2="590.06" y2="1266.90"/><line x1="570.09" y1="1286.00" x2="590.06" y2="1286.00"/><line x1="570.09" y1="1265.45" x2="570.09" y2="1328.60"/><line x1="590.06" y1="1265.45" x2="590.06" y2="1328.60"/><rect x="590.06" y="1250.70" width="19.97" height="3.10" fill="#e3973f"/><rect x="590.06" y="1253.80" width="19.97" height="74.80" fill="#c84b2a"/><line x1="590.06" y1="1250.70" x2="610.03" y2="1250.70"/><line x1="590.06" y1="1253.80" x2="610.03" y2="1253.80"/><line x1="590.06" y1="1249.25" x2="590.06" y2="1328.60"/><line x1="610.03" y1="1249.25" x2="610.03" y2="1328.60"/><rect x="610.03" y="1270.90" width="19.97" height="19.40" fill="#e3973f"/><rect x="610.03" y="1290.30" width="19.97" height="38.30" fill="#c84b2a"/><line x1="610.03" y1="1270.90" x2="630.00" y2="1270.90"/><line x1="610.03" y1="1290.30" x2="630.00" y2="1290.30"/><line x1="610.03" y1="1269.45" x2="610.03" y2="1328.60"/><line x1="630.00" y1="1269.45" x2="630.00" y2="1328.60"/><rect x="630.00" y="1297.60" width="19.97" height="31.00" fill="#c84b2a"/><line x1="630.00" y1="1297.60" x2="649.97" y2="1297.60"/><line x1="630.00" y1="1296.15" x2="630.00" y2="1328.60"/><line x1="649.97" y1="1296.15" x2="649.97" y2="1328.60"/><rect x="649.97" y="1305.60" width="19.97" height="11.20" fill="#e3973f"/><rect x="649.97" y="1316.80" width="19.97" height="11.80" fill="#c84b2a"/><line x1="649.97" y1="1305.60" x2="669.94" y2="1305.60"/><line x1="649.97" y1="1316.80" x2="669.94" y2="1316.80"/><line x1="649.97" y1="1304.15" x2="649.97" y2="1328.60"/><line x1="669.94" y1="1304.15" x2="669.94" y2="1328.60"/><rect x="669.94" y="1312.90" width="19.97" height="3.90" fill="#4f8fcc"/><rect x="669.94" y="1316.80" width="19.97" height="11.80" fill="#b84c44"/><line x1="669.94" y1="1312.90" x2="689.91" y2="1312.90"/><line x1="669.94" y1="1316.80" x2="689.91" y2="1316.80"/><line x1="669.94" y1="1311.45" x2="669.94" y2="1328.60"/><line x1="689.91" y1="1311.45" x2="689.91" y2="1328.60"/><rect x="689.91" y="1301.60" width="19.97" height="27.00" fill="#cd5b47"/><line x1="689.91" y1="1301.60" x2="709.88" y2="1301.60"/><line x1="689.91" y1="1300.15" x2="689.91" y2="1328.60"/><line x1="709.88" y1="1300.15" x2="709.88" y2="1328.60"/><rect x="749.82" y="1324.60" width="19.97" height="4.00" fill="#cd5b47"/><line x1="749.82" y1="1324.60" x2="769.79" y2="1324.60"/><line x1="749.82" y1="1323.15" x2="749.82" y2="1328.60"/><line x1="769.79" y1="1323.15" x2="769.79" y2="1328.60"/><rect x="769.79" y="1320.40" width="19.97" height="8.20" fill="#cd5b47"/><line x1="769.79" y1="1320.40" x2="789.76" y2="1320.40"/><line x1="769.79" y1="1318.95" x2="769.79" y2="1328.60"/><line x1="789.76" y1="1318.95" x2="789.76" y2="1328.60"/><rect x="789.76" y="1312.90" width="19.97" height="15.70" fill="#cd5b47"/><line x1="789.76" y1="1312.90" x2="809.73" y2="1312.90"/><line x1="789.76" y1="1311.45" x2="789.76" y2="1328.60"/><line x1="809.73" y1="1311.45" x2="809.73" y2="1328.60"/><rect x="809.73" y="1309.10" width="19.97" height="19.50" fill="#cd5b47"/><line x1="809.73" y1="1309.10" x2="829.70" y2="1309.10"/><line x1="809.73" y1="1307.65" x2="809.73" y2="1328.60"/><line x1="829.70" y1="1307.65" x2="829.70" y2="1328.60"/></g>
<line x1="229.60" y1="1328.60" x2="830.70" y2="1328.60" stroke="#111" stroke-width="3.2"/>
<g stroke="#2a2a2a" stroke-width="2.00"><rect x="862.40" y="1368.50" width="3.90" height="23.72" fill="#9aa3a6"/><line x1="866.30" y1="1368.50" x2="866.30" y2="1392.22"/><line x1="862.40" y1="1368.50" x2="867.30" y2="1368.50"/><line x1="862.40" y1="1392.22" x2="867.30" y2="1392.22"/><rect x="862.40" y="1463.38" width="3.90" height="23.72" fill="#9aa3a6"/><line x1="866.30" y1="1463.38" x2="866.30" y2="1487.10"/><line x1="862.40" y1="1463.38" x2="867.30" y2="1463.38"/><line x1="862.40" y1="1487.10" x2="867.30" y2="1487.10"/><rect x="862.40" y="1487.10" width="3.90" height="23.72" fill="#9aa3a6"/><line x1="866.30" y1="1487.10" x2="866.30" y2="1510.82"/><line x1="862.40" y1="1487.10" x2="867.30" y2="1487.10"/><line x1="862.40" y1="1510.82" x2="867.30" y2="1510.82"/><rect x="862.40" y="1510.82" width="3.90" height="23.72" fill="#9aa3a6"/><line x1="866.30" y1="1510.82" x2="866.30" y2="1534.54"/><line x1="862.40" y1="1510.82" x2="867.30" y2="1510.82"/><line x1="862.40" y1="1534.54" x2="867.30" y2="1534.54"/><rect x="862.40" y="1534.54" width="3.90" height="23.72" fill="#4a3a35"/><line x1="866.30" y1="1534.54" x2="866.30" y2="1558.26"/><line x1="862.40" y1="1534.54" x2="867.30" y2="1534.54"/><line x1="862.40" y1="1558.26" x2="867.30" y2="1558.26"/><rect x="862.40" y="1558.26" width="9.60" height="23.72" fill="#f3c898"/><line x1="872.00" y1="1558.26" x2="872.00" y2="1581.98"/><line x1="862.40" y1="1558.26" x2="873.00" y2="1558.26"/><line x1="862.40" y1="1581.98" x2="873.00" y2="1581.98"/><rect x="862.40" y="1581.98" width="4.60" height="23.72" fill="#aea583"/><rect x="867.00" y="1581.98" width="5.00" height="23.72" fill="#a6c6e6"/><line x1="867.00" y1="1581.98" x2="867.00" y2="1605.70"/><line x1="872.00" y1="1581.98" x2="872.00" y2="1605.70"/><line x1="862.40" y1="1581.98" x2="873.00" y2="1581.98"/><line x1="862.40" y1="1605.70" x2="873.00" y2="1605.70"/><rect x="862.40" y="1605.70" width="5.60" height="23.72" fill="#b4705c"/><rect x="868.00" y="1605.70" width="6.80" height="23.72" fill="#e39077"/><line x1="868.00" y1="1605.70" x2="868.00" y2="1629.42"/><line x1="874.80" y1="1605.70" x2="874.80" y2="1629.42"/><line x1="862.40" y1="1605.70" x2="875.80" y2="1605.70"/><line x1="862.40" y1="1629.42" x2="875.80" y2="1629.42"/><rect x="862.40" y="1629.42" width="5.60" height="23.72" fill="#b4705c"/><rect x="868.00" y="1629.42" width="4.00" height="23.72" fill="#4a3a35"/><line x1="868.00" y1="1629.42" x2="868.00" y2="1653.14"/><line x1="872.00" y1="1629.42" x2="872.00" y2="1653.14"/><line x1="862.40" y1="1629.42" x2="873.00" y2="1629.42"/><line x1="862.40" y1="1653.14" x2="873.00" y2="1653.14"/><rect x="862.40" y="1653.14" width="15.20" height="23.72" fill="#b4705c"/><rect x="877.60" y="1653.14" width="14.10" height="23.72" fill="#f3c898"/><line x1="877.60" y1="1653.14" x2="877.60" y2="1676.86"/><line x1="891.70" y1="1653.14" x2="891.70" y2="1676.86"/><line x1="862.40" y1="1653.14" x2="892.70" y2="1653.14"/><line x1="862.40" y1="1676.86" x2="892.70" y2="1676.86"/><rect x="862.40" y="1676.86" width="5.60" height="23.72" fill="#b4705c"/><rect x="868.00" y="1676.86" width="17.00" height="23.72" fill="#aea583"/><rect x="885.00" y="1676.86" width="6.70" height="23.72" fill="#a6c6e6"/><line x1="868.00" y1="1676.86" x2="868.00" y2="1700.58"/><line x1="885.00" y1="1676.86" x2="885.00" y2="1700.58"/><line x1="891.70" y1="1676.86" x2="891.70" y2="1700.58"/><line x1="862.40" y1="1676.86" x2="892.70" y2="1676.86"/><line x1="862.40" y1="1700.58" x2="892.70" y2="1700.58"/><rect x="862.40" y="1700.58" width="15.20" height="23.72" fill="#b4705c"/><rect x="877.60" y="1700.58" width="17.40" height="23.72" fill="#e39077"/><rect x="895.00" y="1700.58" width="17.40" height="23.72" fill="#f3c898"/><line x1="877.60" y1="1700.58" x2="877.60" y2="1724.30"/><line x1="895.00" y1="1700.58" x2="895.00" y2="1724.30"/><line x1="912.40" y1="1700.58" x2="912.40" y2="1724.30"/><line x1="862.40" y1="1700.58" x2="913.40" y2="1700.58"/><line x1="862.40" y1="1724.30" x2="913.40" y2="1724.30"/><rect x="862.40" y="1724.30" width="45.30" height="23.72" fill="#b4705c"/><rect x="907.70" y="1724.30" width="13.50" height="23.72" fill="#f3c898"/><line x1="907.70" y1="1724.30" x2="907.70" y2="1748.02"/><line x1="921.20" y1="1724.30" x2="921.20" y2="1748.02"/><line x1="862.40" y1="1724.30" x2="922.20" y2="1724.30"/><line x1="862.40" y1="1748.02" x2="922.20" y2="1748.02"/><rect x="862.40" y="1748.02" width="41.50" height="23.72" fill="#b4705c"/><rect x="903.90" y="1748.02" width="2.10" height="23.72" fill="#a6c6e6"/><line x1="903.90" y1="1748.02" x2="903.90" y2="1771.74"/><line x1="906.00" y1="1748.02" x2="906.00" y2="1771.74"/><line x1="862.40" y1="1748.02" x2="907.00" y2="1748.02"/><line x1="862.40" y1="1771.74" x2="907.00" y2="1771.74"/><rect x="862.40" y="1771.74" width="34.90" height="23.72" fill="#b4705c"/><rect x="897.30" y="1771.74" width="17.90" height="23.72" fill="#a6c6e6"/><line x1="897.30" y1="1771.74" x2="897.30" y2="1795.46"/><line x1="915.20" y1="1771.74" x2="915.20" y2="1795.46"/><line x1="862.40" y1="1771.74" x2="916.20" y2="1771.74"/><line x1="862.40" y1="1795.46" x2="916.20" y2="1795.46"/><rect x="862.40" y="1795.46" width="43.60" height="23.72" fill="#b4705c"/><rect x="906.00" y="1795.46" width="7.00" height="23.72" fill="#aea583"/><rect x="913.00" y="1795.46" width="14.00" height="23.72" fill="#5d9acb"/><rect x="927.00" y="1795.46" width="14.50" height="23.72" fill="#88c5cf"/><line x1="906.00" y1="1795.46" x2="906.00" y2="1819.18"/><line x1="913.00" y1="1795.46" x2="913.00" y2="1819.18"/><line x1="927.00" y1="1795.46" x2="927.00" y2="1819.18"/><line x1="941.50" y1="1795.46" x2="941.50" y2="1819.18"/><line x1="862.40" y1="1795.46" x2="942.50" y2="1795.46"/><line x1="862.40" y1="1819.18" x2="942.50" y2="1819.18"/><rect x="862.40" y="1819.18" width="40.60" height="23.72" fill="#b4705c"/><rect x="903.00" y="1819.18" width="14.00" height="23.72" fill="#aea583"/><rect x="917.00" y="1819.18" width="21.00" height="23.72" fill="#88c5cf"/><line x1="903.00" y1="1819.18" x2="903.00" y2="1842.90"/><line x1="917.00" y1="1819.18" x2="917.00" y2="1842.90"/><line x1="938.00" y1="1819.18" x2="938.00" y2="1842.90"/><line x1="862.40" y1="1819.18" x2="939.00" y2="1819.18"/><line x1="862.40" y1="1842.90" x2="939.00" y2="1842.90"/><rect x="862.40" y="1842.90" width="17.60" height="23.72" fill="#b4705c"/><rect x="880.00" y="1842.90" width="23.00" height="23.72" fill="#a47f86"/><rect x="903.00" y="1842.90" width="15.60" height="23.72" fill="#88c5cf"/><line x1="880.00" y1="1842.90" x2="880.00" y2="1866.62"/><line x1="903.00" y1="1842.90" x2="903.00" y2="1866.62"/><line x1="918.60" y1="1842.90" x2="918.60" y2="1866.62"/><line x1="862.40" y1="1842.90" x2="919.60" y2="1842.90"/><line x1="862.40" y1="1866.62" x2="919.60" y2="1866.62"/><rect x="862.40" y="1866.62" width="20.60" height="23.72" fill="#b4705c"/><rect x="883.00" y="1866.62" width="25.00" height="23.72" fill="#a47f86"/><rect x="908.00" y="1866.62" width="16.20" height="23.72" fill="#88c5cf"/><line x1="883.00" y1="1866.62" x2="883.00" y2="1890.34"/><line x1="908.00" y1="1866.62" x2="908.00" y2="1890.34"/><line x1="924.20" y1="1866.62" x2="924.20" y2="1890.34"/><line x1="862.40" y1="1866.62" x2="925.20" y2="1866.62"/><line x1="862.40" y1="1890.34" x2="925.20" y2="1890.34"/><rect x="862.40" y="1890.34" width="34.00" height="23.72" fill="#b4705c"/><rect x="896.40" y="1890.34" width="4.60" height="23.72" fill="#a47f86"/><line x1="896.40" y1="1890.34" x2="896.40" y2="1914.06"/><line x1="901.00" y1="1890.34" x2="901.00" y2="1914.06"/><line x1="862.40" y1="1890.34" x2="902.00" y2="1890.34"/><line x1="862.40" y1="1914.06" x2="902.00" y2="1914.06"/><rect x="862.40" y="1914.06" width="12.60" height="23.72" fill="#b4705c"/><rect x="875.00" y="1914.06" width="14.30" height="23.72" fill="#a47f86"/><line x1="875.00" y1="1914.06" x2="875.00" y2="1937.78"/><line x1="889.30" y1="1914.06" x2="889.30" y2="1937.78"/><line x1="862.40" y1="1914.06" x2="890.30" y2="1914.06"/><line x1="862.40" y1="1937.78" x2="890.30" y2="1937.78"/><rect x="862.40" y="1937.78" width="7.60" height="23.72" fill="#b4705c"/><rect x="870.00" y="1937.78" width="9.90" height="23.72" fill="#a47f86"/><line x1="870.00" y1="1937.78" x2="870.00" y2="1961.50"/><line x1="879.90" y1="1937.78" x2="879.90" y2="1961.50"/><line x1="862.40" y1="1937.78" x2="880.90" y2="1937.78"/><line x1="862.40" y1="1961.50" x2="880.90" y2="1961.50"/><rect x="862.40" y="1961.50" width="16.10" height="23.72" fill="#b4705c"/><line x1="878.50" y1="1961.50" x2="878.50" y2="1985.22"/><line x1="862.40" y1="1961.50" x2="879.50" y2="1961.50"/><line x1="862.40" y1="1985.22" x2="879.50" y2="1985.22"/><rect x="862.40" y="1985.22" width="6.20" height="23.72" fill="#b4705c"/><line x1="868.60" y1="1985.22" x2="868.60" y2="2008.94"/><line x1="862.40" y1="1985.22" x2="869.60" y2="1985.22"/><line x1="862.40" y1="2008.94" x2="869.60" y2="2008.94"/><rect x="862.40" y="2008.94" width="6.20" height="23.72" fill="#aea583"/><line x1="868.60" y1="2008.94" x2="868.60" y2="2032.66"/><line x1="862.40" y1="2008.94" x2="869.60" y2="2008.94"/><line x1="862.40" y1="2032.66" x2="869.60" y2="2032.66"/><rect x="862.40" y="2032.66" width="9.60" height="23.72" fill="#f3c898"/><line x1="872.00" y1="2032.66" x2="872.00" y2="2056.38"/><line x1="862.40" y1="2032.66" x2="873.00" y2="2032.66"/><line x1="862.40" y1="2056.38" x2="873.00" y2="2056.38"/><rect x="862.40" y="2056.38" width="6.20" height="23.72" fill="#b5762f"/><line x1="868.60" y1="2056.38" x2="868.60" y2="2080.10"/><line x1="862.40" y1="2056.38" x2="869.60" y2="2056.38"/><line x1="862.40" y1="2080.10" x2="869.60" y2="2080.10"/></g>
<line x1="862.40" y1="1367.50" x2="862.40" y2="2081.10" stroke="#111" stroke-width="3"/>
<g fill="#cfcfcf" fill-opacity="0.36" stroke="#bdbdbd" stroke-opacity="0.5" stroke-width="2.6"><circle cx="360.8" cy="1635.6" r="11.2"/><circle cx="364.2" cy="1730.3" r="11.2"/><circle cx="365.3" cy="1758.5" r="11.2"/><circle cx="310.9" cy="1779.9" r="11.2"/><circle cx="300.7" cy="1812.2" r="11.2"/><circle cx="300.7" cy="1820.5" r="11.2"/><circle cx="307.8" cy="1837.4" r="11.2"/><circle cx="307.1" cy="1853.6" r="11.2"/><circle cx="336.0" cy="1837.4" r="11.2"/><circle cx="254.5" cy="1857.3" r="11.2"/><circle cx="248.9" cy="1863.7" r="11.2"/><circle cx="241.3" cy="1906.9" r="11.2"/><circle cx="269.5" cy="1899.4" r="11.2"/><circle cx="258.2" cy="1945.3" r="11.2"/><circle cx="280.8" cy="1929.5" r="11.2"/><circle cx="245.1" cy="2004.6" r="11.2"/><circle cx="230.1" cy="2025.3" r="11.2"/><circle cx="369.1" cy="1813.7" r="11.2"/><circle cx="393.5" cy="1824.3" r="11.2"/><circle cx="682.9" cy="1696.5" r="11.2"/><circle cx="609.6" cy="1709.6" r="11.2"/><circle cx="595.3" cy="1727.3" r="11.2"/><circle cx="575.8" cy="1745.3" r="11.2"/><circle cx="666.0" cy="1725.8" r="11.2"/><circle cx="663.0" cy="1741.6" r="11.2"/><circle cx="637.8" cy="1754.7" r="11.2"/><circle cx="682.9" cy="1767.9" r="11.2"/><circle cx="702.8" cy="1771.6" r="11.2"/><circle cx="703.5" cy="1798.0" r="11.2"/><circle cx="667.8" cy="1787.4" r="11.2"/><circle cx="699.8" cy="1828.0" r="11.2"/><circle cx="825.7" cy="1762.3" r="11.2"/><circle cx="826.8" cy="1783.7" r="11.2"/><circle cx="806.9" cy="1813.0" r="11.2"/><circle cx="795.6" cy="1824.3" r="11.2"/><circle cx="828.3" cy="1832.5" r="11.2"/><circle cx="786.2" cy="1848.7" r="11.2"/><circle cx="805.7" cy="1849.8" r="11.2"/><circle cx="803.1" cy="1860.0" r="11.2"/><circle cx="774.2" cy="1876.9" r="11.2"/><circle cx="761.8" cy="1887.4" r="11.2"/><circle cx="701.6" cy="1892.6" r="11.2"/><circle cx="705.4" cy="1915.2" r="11.2"/><circle cx="669.7" cy="1901.3" r="11.2"/><circle cx="637.8" cy="1917.4" r="11.2"/><circle cx="630.3" cy="1943.7" r="11.2"/><circle cx="630.3" cy="1964.0" r="11.2"/><circle cx="611.5" cy="1984.0" r="11.2"/><circle cx="585.2" cy="2002.7" r="11.2"/><circle cx="555.1" cy="2042.2" r="11.2"/><circle cx="513.8" cy="2023.4" r="11.2"/><circle cx="489.3" cy="2061.0" r="11.2"/><circle cx="478.1" cy="1769.8" r="11.2"/><circle cx="500.6" cy="1769.8" r="11.2"/><circle cx="527.7" cy="1771.6" r="11.2"/><circle cx="387.9" cy="2029.0" r="11.2"/><circle cx="391.6" cy="2040.3" r="11.2"/><circle cx="376.6" cy="2046.0" r="11.2"/><circle cx="363.5" cy="2056.5" r="11.2"/><circle cx="391.6" cy="2055.3" r="11.2"/><circle cx="359.7" cy="2019.6" r="11.2"/><circle cx="357.8" cy="1997.1" r="11.2"/><circle cx="425.5" cy="2008.4" r="11.2"/><circle cx="438.6" cy="2008.4" r="11.2"/><circle cx="300.0" cy="1905.0" r="11.2"/><circle cx="320.0" cy="1890.0" r="11.2"/><circle cx="340.0" cy="1880.0" r="11.2"/><circle cx="355.0" cy="1905.0" r="11.2"/><circle cx="360.0" cy="1930.0" r="11.2"/><circle cx="345.0" cy="1950.0" r="11.2"/><circle cx="320.0" cy="1955.0" r="11.2"/><circle cx="400.3" cy="1868.9" r="11.2"/><circle cx="525.7" cy="1852.9" r="11.2"/><circle cx="405.1" cy="1807.7" r="11.2"/><circle cx="542.1" cy="1873.0" r="11.2"/><circle cx="437.4" cy="1837.6" r="11.2"/><circle cx="416.7" cy="1890.4" r="11.2"/><circle cx="603.9" cy="1860.7" r="11.2"/><circle cx="478.7" cy="1941.1" r="11.2"/><circle cx="474.4" cy="1897.2" r="11.2"/><circle cx="400.7" cy="1846.1" r="11.2"/><circle cx="364.9" cy="1952.0" r="11.2"/><circle cx="589.3" cy="1858.2" r="11.2"/><circle cx="483.7" cy="1871.3" r="11.2"/><circle cx="488.4" cy="1932.8" r="11.2"/><circle cx="603.4" cy="1832.6" r="11.2"/><circle cx="549.1" cy="1925.2" r="11.2"/><circle cx="502.9" cy="1938.4" r="11.2"/><circle cx="595.1" cy="1891.0" r="11.2"/><circle cx="473.8" cy="1948.5" r="11.2"/><circle cx="514.9" cy="1918.2" r="11.2"/><circle cx="655.0" cy="1906.9" r="11.2"/><circle cx="498.3" cy="1825.0" r="11.2"/><circle cx="531.6" cy="1914.6" r="11.2"/><circle cx="549.7" cy="1924.1" r="11.2"/><circle cx="558.6" cy="1906.4" r="11.2"/><circle cx="514.9" cy="1928.2" r="11.2"/><circle cx="450.9" cy="1848.7" r="11.2"/><circle cx="427.6" cy="1908.7" r="11.2"/><circle cx="367.3" cy="1881.1" r="11.2"/><circle cx="489.4" cy="1915.3" r="11.2"/><circle cx="424.4" cy="1906.6" r="11.2"/><circle cx="507.2" cy="1868.4" r="11.2"/><circle cx="509.4" cy="1887.6" r="11.2"/><circle cx="418.5" cy="1885.2" r="11.2"/><circle cx="434.7" cy="2004.8" r="11.2"/><circle cx="486.2" cy="1864.8" r="11.2"/><circle cx="392.7" cy="1905.0" r="11.2"/><circle cx="532.6" cy="1897.6" r="11.2"/><circle cx="398.8" cy="1849.3" r="11.2"/><circle cx="420.6" cy="1913.9" r="11.2"/><circle cx="439.4" cy="1897.4" r="11.2"/><circle cx="642.2" cy="1787.0" r="11.2"/><circle cx="484.2" cy="1897.4" r="11.2"/><circle cx="387.8" cy="1962.3" r="11.2"/><circle cx="483.3" cy="1919.2" r="11.2"/><circle cx="548.7" cy="1970.8" r="11.2"/><circle cx="453.9" cy="1867.1" r="11.2"/><circle cx="405.9" cy="1836.8" r="11.2"/><circle cx="643.8" cy="1863.0" r="11.2"/><circle cx="370.0" cy="1944.3" r="11.2"/><circle cx="640.3" cy="1835.3" r="11.2"/><circle cx="500.3" cy="1822.2" r="11.2"/><circle cx="348.4" cy="1898.0" r="11.2"/><circle cx="411.9" cy="1839.3" r="11.2"/><circle cx="504.7" cy="1918.5" r="11.2"/><circle cx="486.8" cy="1967.8" r="11.2"/><circle cx="453.5" cy="1882.2" r="11.2"/><circle cx="571.9" cy="2014.1" r="11.2"/><circle cx="660.5" cy="1938.0" r="11.2"/><circle cx="514.1" cy="1823.2" r="11.2"/><circle cx="617.7" cy="1884.4" r="11.2"/><circle cx="684.4" cy="1887.5" r="11.2"/><circle cx="351.2" cy="1968.6" r="11.2"/><circle cx="516.6" cy="1866.4" r="11.2"/><circle cx="515.5" cy="1896.7" r="11.2"/><circle cx="526.4" cy="1798.0" r="11.2"/><circle cx="505.3" cy="1921.1" r="11.2"/><circle cx="406.6" cy="1974.5" r="11.2"/><circle cx="490.9" cy="1785.9" r="11.2"/><circle cx="628.1" cy="1867.7" r="11.2"/><circle cx="507.3" cy="1885.9" r="11.2"/><circle cx="655.2" cy="1888.5" r="11.2"/><circle cx="449.0" cy="1865.6" r="11.2"/><circle cx="548.6" cy="1927.1" r="11.2"/><circle cx="451.5" cy="1952.7" r="11.2"/><circle cx="450.2" cy="1909.9" r="11.2"/><circle cx="545.7" cy="1910.0" r="11.2"/><circle cx="524.8" cy="1911.4" r="11.2"/><circle cx="464.6" cy="1912.3" r="11.2"/><circle cx="530.3" cy="1827.6" r="11.2"/><circle cx="392.1" cy="1922.0" r="11.2"/><circle cx="501.6" cy="1906.7" r="11.2"/><circle cx="562.3" cy="1914.1" r="11.2"/><circle cx="461.7" cy="1929.7" r="11.2"/><circle cx="448.7" cy="1995.8" r="11.2"/><circle cx="585.0" cy="1892.2" r="11.2"/><circle cx="452.9" cy="1928.2" r="11.2"/><circle cx="491.2" cy="1857.1" r="11.2"/><circle cx="544.4" cy="1900.3" r="11.2"/><circle cx="571.2" cy="1883.1" r="11.2"/><circle cx="653.8" cy="1981.8" r="11.2"/><circle cx="380.3" cy="1795.2" r="11.2"/><circle cx="430.4" cy="1986.9" r="11.2"/><circle cx="555.5" cy="1901.4" r="11.2"/><circle cx="526.0" cy="1829.8" r="11.2"/><circle cx="518.9" cy="1841.3" r="11.2"/><circle cx="522.4" cy="1878.0" r="11.2"/><circle cx="464.0" cy="1872.8" r="11.2"/><circle cx="550.5" cy="1999.2" r="11.2"/><circle cx="370.8" cy="1946.7" r="11.2"/><circle cx="473.3" cy="1983.5" r="11.2"/><circle cx="591.5" cy="1846.3" r="11.2"/><circle cx="511.2" cy="1975.1" r="11.2"/><circle cx="633.6" cy="1855.7" r="11.2"/><circle cx="426.1" cy="1919.3" r="11.2"/><circle cx="608.6" cy="1941.7" r="11.2"/><circle cx="529.8" cy="1925.1" r="11.2"/><circle cx="545.7" cy="1898.5" r="11.2"/><circle cx="433.9" cy="1941.2" r="11.2"/><circle cx="537.1" cy="1943.7" r="11.2"/><circle cx="501.8" cy="1870.2" r="11.2"/><circle cx="562.5" cy="1940.6" r="11.2"/><circle cx="643.5" cy="1815.4" r="11.2"/><circle cx="469.0" cy="1887.1" r="11.2"/><circle cx="671.7" cy="1760.5" r="11.2"/><circle cx="577.4" cy="1849.7" r="11.2"/><circle cx="423.2" cy="1949.3" r="11.2"/><circle cx="407.4" cy="1904.2" r="11.2"/><circle cx="463.9" cy="1960.9" r="11.2"/><circle cx="438.7" cy="1887.2" r="11.2"/><circle cx="505.3" cy="1936.3" r="11.2"/><circle cx="448.1" cy="2000.6" r="11.2"/><circle cx="452.0" cy="1995.2" r="11.2"/><circle cx="643.6" cy="1836.6" r="11.2"/><circle cx="517.2" cy="1859.9" r="11.2"/><circle cx="361.8" cy="1936.0" r="11.2"/><circle cx="502.8" cy="1969.0" r="11.2"/><circle cx="625.2" cy="1793.8" r="11.2"/><circle cx="476.8" cy="1918.9" r="11.2"/><circle cx="566.8" cy="1899.5" r="11.2"/><circle cx="439.5" cy="1886.3" r="11.2"/><circle cx="550.6" cy="1820.5" r="11.2"/><circle cx="394.3" cy="1831.8" r="11.2"/><circle cx="446.5" cy="1968.6" r="11.2"/><circle cx="461.8" cy="1934.1" r="11.2"/><circle cx="603.3" cy="1951.4" r="11.2"/><circle cx="515.9" cy="1885.8" r="11.2"/><circle cx="494.2" cy="1876.2" r="11.2"/><circle cx="440.9" cy="1922.8" r="11.2"/><circle cx="568.1" cy="1856.8" r="11.2"/><circle cx="427.0" cy="1896.7" r="11.2"/><circle cx="498.3" cy="1936.0" r="11.2"/><circle cx="512.3" cy="1897.7" r="11.2"/><circle cx="378.5" cy="1875.8" r="11.2"/><circle cx="471.1" cy="1859.8" r="11.2"/><circle cx="531.5" cy="1891.2" r="11.2"/><circle cx="436.1" cy="1920.0" r="11.2"/><circle cx="585.3" cy="2014.9" r="11.2"/><circle cx="491.0" cy="1867.3" r="11.2"/><circle cx="562.9" cy="1980.0" r="11.2"/><circle cx="454.0" cy="1931.5" r="11.2"/><circle cx="480.0" cy="1942.9" r="11.2"/><circle cx="442.8" cy="1874.0" r="11.2"/><circle cx="476.4" cy="1885.9" r="11.2"/><circle cx="399.3" cy="1886.2" r="11.2"/><circle cx="433.4" cy="1999.3" r="11.2"/><circle cx="602.7" cy="1852.9" r="11.2"/><circle cx="460.1" cy="1915.2" r="11.2"/><circle cx="454.6" cy="1866.1" r="11.2"/><circle cx="549.0" cy="1949.6" r="11.2"/><circle cx="534.3" cy="1966.9" r="11.2"/><circle cx="500.7" cy="1886.6" r="11.2"/><circle cx="465.8" cy="1871.0" r="11.2"/><circle cx="435.0" cy="1974.5" r="11.2"/><circle cx="566.1" cy="1880.1" r="11.2"/><circle cx="502.0" cy="1844.4" r="11.2"/><circle cx="544.9" cy="1879.5" r="11.2"/><circle cx="483.5" cy="1876.6" r="11.2"/><circle cx="380.4" cy="1870.3" r="11.2"/><circle cx="613.6" cy="1838.7" r="11.2"/><circle cx="425.0" cy="1883.3" r="11.2"/><circle cx="422.8" cy="1842.8" r="11.2"/><circle cx="405.5" cy="1846.0" r="11.2"/><circle cx="494.6" cy="1766.7" r="11.2"/><circle cx="384.2" cy="1826.3" r="11.2"/><circle cx="495.4" cy="1841.9" r="11.2"/><circle cx="524.1" cy="1843.9" r="11.2"/><circle cx="576.1" cy="1790.6" r="11.2"/><circle cx="636.5" cy="1812.8" r="11.2"/><circle cx="467.6" cy="1837.2" r="11.2"/><circle cx="473.3" cy="1972.7" r="11.2"/><circle cx="557.4" cy="1858.7" r="11.2"/><circle cx="532.3" cy="1982.0" r="11.2"/><circle cx="544.6" cy="1871.8" r="11.2"/><circle cx="524.4" cy="1913.8" r="11.2"/><circle cx="360.4" cy="1871.7" r="11.2"/><circle cx="502.0" cy="1991.7" r="11.2"/><circle cx="551.2" cy="1902.2" r="11.2"/><circle cx="374.2" cy="1877.2" r="11.2"/><circle cx="381.1" cy="1906.7" r="11.2"/><circle cx="451.8" cy="1939.5" r="11.2"/><circle cx="495.1" cy="1894.9" r="11.2"/><circle cx="522.2" cy="1941.9" r="11.2"/><circle cx="471.4" cy="1866.9" r="11.2"/><circle cx="453.2" cy="1852.6" r="11.2"/><circle cx="525.5" cy="1808.4" r="11.2"/><circle cx="540.7" cy="1828.2" r="11.2"/><circle cx="473.5" cy="1880.6" r="11.2"/><circle cx="429.8" cy="1923.6" r="11.2"/><circle cx="497.2" cy="1947.3" r="11.2"/><circle cx="541.8" cy="1866.6" r="11.2"/><circle cx="553.2" cy="1923.6" r="11.2"/><circle cx="508.2" cy="1904.8" r="11.2"/><circle cx="583.9" cy="1853.2" r="11.2"/><circle cx="594.7" cy="1899.5" r="11.2"/><circle cx="541.1" cy="1948.0" r="11.2"/><circle cx="391.0" cy="1960.0" r="11.2"/><circle cx="468.1" cy="1898.3" r="11.2"/><circle cx="384.7" cy="1961.6" r="11.2"/><circle cx="521.7" cy="1807.1" r="11.2"/><circle cx="576.1" cy="1885.5" r="11.2"/><circle cx="457.7" cy="1801.4" r="11.2"/><circle cx="640.2" cy="1834.5" r="11.2"/><circle cx="549.6" cy="1855.7" r="11.2"/><circle cx="422.0" cy="1953.2" r="11.2"/><circle cx="548.8" cy="1923.7" r="11.2"/><circle cx="463.5" cy="1924.5" r="11.2"/><circle cx="544.9" cy="1964.9" r="11.2"/><circle cx="490.2" cy="1913.2" r="11.2"/><circle cx="556.0" cy="1764.8" r="11.2"/><circle cx="519.4" cy="1975.7" r="11.2"/><circle cx="547.7" cy="1910.9" r="11.2"/><circle cx="557.3" cy="1958.3" r="11.2"/><circle cx="364.9" cy="1867.8" r="11.2"/><circle cx="429.6" cy="1822.5" r="11.2"/><circle cx="572.8" cy="1838.6" r="11.2"/><circle cx="507.1" cy="1926.7" r="11.2"/><circle cx="589.7" cy="1809.2" r="11.2"/><circle cx="382.9" cy="1796.4" r="11.2"/><circle cx="528.7" cy="1841.2" r="11.2"/><circle cx="532.2" cy="1945.8" r="11.2"/><circle cx="642.0" cy="1828.1" r="11.2"/><circle cx="509.4" cy="1894.6" r="11.2"/><circle cx="607.4" cy="1815.5" r="11.2"/><circle cx="548.1" cy="1907.2" r="11.2"/><circle cx="512.6" cy="1835.8" r="11.2"/><circle cx="416.5" cy="2027.1" r="11.2"/><circle cx="589.5" cy="1895.7" r="11.2"/><circle cx="589.5" cy="1831.4" r="11.2"/><circle cx="547.5" cy="1863.5" r="11.2"/><circle cx="555.7" cy="1934.0" r="11.2"/><circle cx="546.1" cy="1890.0" r="11.2"/><circle cx="519.2" cy="1803.7" r="11.2"/><circle cx="507.9" cy="1865.9" r="11.2"/><circle cx="661.2" cy="1876.5" r="11.2"/><circle cx="481.2" cy="1898.0" r="11.2"/><circle cx="522.1" cy="1822.6" r="11.2"/><circle cx="498.8" cy="1872.8" r="11.2"/><circle cx="359.4" cy="1917.6" r="11.2"/><circle cx="493.5" cy="1862.0" r="11.2"/><circle cx="458.8" cy="1950.7" r="11.2"/><circle cx="504.0" cy="1893.5" r="11.2"/><circle cx="468.7" cy="1877.1" r="11.2"/><circle cx="563.0" cy="1840.2" r="11.2"/><circle cx="636.7" cy="1813.5" r="11.2"/><circle cx="543.5" cy="1878.6" r="11.2"/><circle cx="623.6" cy="1923.3" r="11.2"/><circle cx="368.0" cy="1924.8" r="11.2"/><circle cx="424.5" cy="1920.4" r="11.2"/><circle cx="492.5" cy="1843.3" r="11.2"/><circle cx="421.5" cy="1901.8" r="11.2"/><circle cx="486.4" cy="1877.2" r="11.2"/><circle cx="400.1" cy="1918.9" r="11.2"/><circle cx="433.2" cy="1791.4" r="11.2"/><circle cx="362.5" cy="2005.7" r="11.2"/><circle cx="477.6" cy="1845.1" r="11.2"/><circle cx="431.5" cy="1880.2" r="11.2"/><circle cx="490.0" cy="1885.7" r="11.2"/><circle cx="558.9" cy="1859.8" r="11.2"/><circle cx="533.0" cy="1894.4" r="11.2"/><circle cx="467.6" cy="1933.5" r="11.2"/><circle cx="539.7" cy="1846.9" r="11.2"/><circle cx="554.5" cy="1869.0" r="11.2"/><circle cx="392.2" cy="2013.9" r="11.2"/><circle cx="615.5" cy="1787.2" r="11.2"/><circle cx="522.1" cy="1907.1" r="11.2"/><circle cx="475.9" cy="1850.0" r="11.2"/><circle cx="527.2" cy="1907.8" r="11.2"/><circle cx="470.3" cy="1939.4" r="11.2"/><circle cx="379.0" cy="1762.2" r="11.2"/><circle cx="567.5" cy="1975.2" r="11.2"/><circle cx="370.1" cy="1842.9" r="11.2"/><circle cx="673.4" cy="1876.6" r="11.2"/><circle cx="586.4" cy="1955.0" r="11.2"/><circle cx="511.4" cy="1841.2" r="11.2"/><circle cx="629.2" cy="1904.3" r="11.2"/><circle cx="408.4" cy="1835.0" r="11.2"/><circle cx="504.7" cy="1805.5" r="11.2"/><circle cx="678.9" cy="1917.4" r="11.2"/><circle cx="569.9" cy="1876.0" r="11.2"/><circle cx="540.9" cy="1766.2" r="11.2"/><circle cx="435.8" cy="1920.1" r="11.2"/><circle cx="391.1" cy="1845.8" r="11.2"/><circle cx="397.0" cy="1946.5" r="11.2"/><circle cx="572.4" cy="1874.9" r="11.2"/><circle cx="536.2" cy="1876.3" r="11.2"/><circle cx="377.1" cy="1846.3" r="11.2"/><circle cx="447.3" cy="1923.8" r="11.2"/><circle cx="487.2" cy="1947.2" r="11.2"/><circle cx="437.7" cy="1935.3" r="11.2"/><circle cx="503.9" cy="1968.3" r="11.2"/><circle cx="510.6" cy="1936.3" r="11.2"/><circle cx="492.2" cy="1929.8" r="11.2"/><circle cx="516.0" cy="1822.3" r="11.2"/><circle cx="652.3" cy="1985.2" r="11.2"/><circle cx="533.8" cy="1966.4" r="11.2"/><circle cx="510.5" cy="1996.5" r="11.2"/><circle cx="424.8" cy="1956.5" r="11.2"/><circle cx="534.3" cy="1810.7" r="11.2"/><circle cx="475.4" cy="1939.8" r="11.2"/><circle cx="417.4" cy="1867.6" r="11.2"/><circle cx="493.4" cy="1875.3" r="11.2"/><circle cx="505.4" cy="1896.3" r="11.2"/><circle cx="516.4" cy="1862.0" r="11.2"/><circle cx="501.3" cy="1834.5" r="11.2"/><circle cx="606.5" cy="1865.5" r="11.2"/><circle cx="520.3" cy="1872.8" r="11.2"/><circle cx="560.0" cy="1857.5" r="11.2"/><circle cx="648.7" cy="1913.0" r="11.2"/><circle cx="511.6" cy="1973.4" r="11.2"/><circle cx="583.4" cy="1895.4" r="11.2"/><circle cx="416.8" cy="1913.8" r="11.2"/><circle cx="529.7" cy="1852.9" r="11.2"/><circle cx="539.1" cy="1875.1" r="11.2"/><circle cx="562.7" cy="1881.5" r="11.2"/><circle cx="421.5" cy="1786.7" r="11.2"/><circle cx="435.3" cy="1802.5" r="11.2"/><circle cx="673.8" cy="1957.2" r="11.2"/><circle cx="613.3" cy="1907.9" r="11.2"/><circle cx="559.8" cy="1807.4" r="11.2"/><circle cx="484.9" cy="1822.1" r="11.2"/><circle cx="555.4" cy="1888.0" r="11.2"/><circle cx="619.4" cy="1833.6" r="11.2"/><circle cx="531.2" cy="1949.8" r="11.2"/><circle cx="459.3" cy="1910.1" r="11.2"/><circle cx="592.2" cy="1802.5" r="11.2"/><circle cx="500.1" cy="1880.5" r="11.2"/><circle cx="477.4" cy="1772.1" r="11.2"/><circle cx="464.1" cy="1773.3" r="11.2"/><circle cx="617.8" cy="1865.5" r="11.2"/><circle cx="496.8" cy="1848.8" r="11.2"/><circle cx="509.3" cy="1847.4" r="11.2"/><circle cx="493.1" cy="1944.2" r="11.2"/><circle cx="492.1" cy="1909.8" r="11.2"/><circle cx="536.9" cy="1928.0" r="11.2"/><circle cx="503.3" cy="1905.6" r="11.2"/><circle cx="487.0" cy="1794.1" r="11.2"/><circle cx="438.9" cy="1974.4" r="11.2"/><circle cx="513.1" cy="1884.2" r="11.2"/><circle cx="406.7" cy="1869.2" r="11.2"/><circle cx="578.8" cy="1993.4" r="11.2"/><circle cx="532.7" cy="1828.9" r="11.2"/><circle cx="356.3" cy="1881.6" r="11.2"/><circle cx="649.4" cy="1923.7" r="11.2"/><circle cx="434.4" cy="1892.6" r="11.2"/><circle cx="493.9" cy="1963.6" r="11.2"/><circle cx="617.7" cy="1947.4" r="11.2"/><circle cx="360.3" cy="1968.2" r="11.2"/><circle cx="632.6" cy="1857.4" r="11.2"/><circle cx="545.4" cy="1917.6" r="11.2"/><circle cx="372.9" cy="1808.8" r="11.2"/><circle cx="447.9" cy="1862.0" r="11.2"/><circle cx="531.3" cy="1835.8" r="11.2"/><circle cx="427.4" cy="1867.9" r="11.2"/><circle cx="602.4" cy="1865.0" r="11.2"/><circle cx="587.1" cy="1938.3" r="11.2"/><circle cx="461.1" cy="1916.8" r="11.2"/><circle cx="438.7" cy="1900.4" r="11.2"/><circle cx="552.2" cy="1879.4" r="11.2"/><circle cx="492.3" cy="1894.0" r="11.2"/><circle cx="462.5" cy="1972.6" r="11.2"/><circle cx="385.0" cy="1903.1" r="11.2"/><circle cx="403.6" cy="1868.0" r="11.2"/><circle cx="492.6" cy="2019.7" r="11.2"/><circle cx="489.2" cy="1885.2" r="11.2"/><circle cx="524.2" cy="1864.7" r="11.2"/><circle cx="402.5" cy="1941.7" r="11.2"/><circle cx="538.2" cy="1872.2" r="11.2"/><circle cx="473.2" cy="1960.0" r="11.2"/><circle cx="463.8" cy="1842.0" r="11.2"/><circle cx="572.6" cy="1912.3" r="11.2"/><circle cx="537.9" cy="1796.1" r="11.2"/><circle cx="567.9" cy="1876.4" r="11.2"/><circle cx="500.8" cy="1976.1" r="11.2"/><circle cx="565.6" cy="1803.9" r="11.2"/><circle cx="460.0" cy="1891.5" r="11.2"/><circle cx="481.4" cy="1856.3" r="11.2"/><circle cx="504.9" cy="1895.2" r="11.2"/><circle cx="459.2" cy="1942.4" r="11.2"/><circle cx="418.6" cy="1884.1" r="11.2"/><circle cx="389.8" cy="1896.9" r="11.2"/><circle cx="557.3" cy="1980.5" r="11.2"/><circle cx="431.7" cy="1812.0" r="11.2"/><circle cx="410.5" cy="1874.6" r="11.2"/><circle cx="559.4" cy="1822.2" r="11.2"/><circle cx="484.3" cy="2005.2" r="11.2"/><circle cx="522.3" cy="1934.5" r="11.2"/><circle cx="539.6" cy="1838.8" r="11.2"/><circle cx="596.0" cy="1984.0" r="11.2"/><circle cx="487.5" cy="1889.8" r="11.2"/><circle cx="459.7" cy="1939.3" r="11.2"/><circle cx="476.9" cy="1982.7" r="11.2"/><circle cx="504.4" cy="1917.3" r="11.2"/><circle cx="564.7" cy="1835.1" r="11.2"/><circle cx="437.1" cy="1802.1" r="11.2"/><circle cx="466.3" cy="1937.5" r="11.2"/><circle cx="456.6" cy="1951.7" r="11.2"/><circle cx="454.1" cy="1881.2" r="11.2"/><circle cx="500.0" cy="1889.7" r="11.2"/><circle cx="391.2" cy="1914.2" r="11.2"/><circle cx="522.9" cy="1825.2" r="11.2"/><circle cx="389.7" cy="1894.3" r="11.2"/><circle cx="419.0" cy="1944.5" r="11.2"/><circle cx="428.1" cy="1898.0" r="11.2"/><circle cx="473.3" cy="1900.4" r="11.2"/><circle cx="456.1" cy="1872.2" r="11.2"/><circle cx="495.6" cy="1926.7" r="11.2"/><circle cx="500.0" cy="1834.8" r="11.2"/><circle cx="418.3" cy="1869.1" r="11.2"/><circle cx="437.0" cy="1872.4" r="11.2"/><circle cx="492.0" cy="1988.8" r="11.2"/><circle cx="492.9" cy="1864.3" r="11.2"/><circle cx="545.6" cy="1931.4" r="11.2"/><circle cx="518.6" cy="1848.4" r="11.2"/><circle cx="512.5" cy="1951.5" r="11.2"/><circle cx="390.3" cy="1902.6" r="11.2"/><circle cx="466.8" cy="1947.5" r="11.2"/><circle cx="630.7" cy="1876.6" r="11.2"/><circle cx="517.7" cy="1957.7" r="11.2"/><circle cx="626.0" cy="2011.3" r="11.2"/><circle cx="488.6" cy="2020.3" r="11.2"/><circle cx="511.6" cy="1932.4" r="11.2"/><circle cx="462.0" cy="1938.3" r="11.2"/><circle cx="456.6" cy="1943.5" r="11.2"/><circle cx="468.1" cy="1911.7" r="11.2"/><circle cx="416.8" cy="1840.5" r="11.2"/><circle cx="506.9" cy="1923.6" r="11.2"/><circle cx="548.3" cy="1899.2" r="11.2"/><circle cx="391.5" cy="1894.4" r="11.2"/><circle cx="634.0" cy="1847.6" r="11.2"/><circle cx="532.6" cy="1928.2" r="11.2"/><circle cx="509.8" cy="1913.8" r="11.2"/><circle cx="595.9" cy="1900.2" r="11.2"/><circle cx="558.4" cy="1897.2" r="11.2"/><circle cx="407.9" cy="1988.5" r="11.2"/><circle cx="567.4" cy="1925.5" r="11.2"/><circle cx="595.4" cy="1820.1" r="11.2"/><circle cx="540.0" cy="1952.0" r="11.2"/><circle cx="482.9" cy="1870.6" r="11.2"/><circle cx="576.2" cy="1827.0" r="11.2"/><circle cx="452.9" cy="1935.0" r="11.2"/><circle cx="642.7" cy="1947.8" r="11.2"/><circle cx="537.2" cy="1960.4" r="11.2"/><circle cx="466.0" cy="1826.9" r="11.2"/><circle cx="518.1" cy="1851.7" r="11.2"/><circle cx="473.3" cy="1864.1" r="11.2"/><circle cx="466.4" cy="1808.8" r="11.2"/><circle cx="376.8" cy="1922.6" r="11.2"/><circle cx="494.0" cy="1886.9" r="11.2"/><circle cx="512.6" cy="1930.7" r="11.2"/><circle cx="447.0" cy="1802.7" r="11.2"/><circle cx="521.8" cy="2016.8" r="11.2"/><circle cx="527.2" cy="1947.8" r="11.2"/><circle cx="537.2" cy="1856.2" r="11.2"/><circle cx="514.7" cy="1881.1" r="11.2"/><circle cx="461.4" cy="1999.0" r="11.2"/><circle cx="477.7" cy="1873.3" r="11.2"/><circle cx="404.7" cy="1906.0" r="11.2"/><circle cx="678.1" cy="1905.6" r="11.2"/><circle cx="676.9" cy="1902.3" r="11.2"/><circle cx="461.4" cy="1822.4" r="11.2"/><circle cx="459.8" cy="1927.7" r="11.2"/><circle cx="573.3" cy="1925.1" r="11.2"/><circle cx="446.5" cy="1770.9" r="11.2"/><circle cx="474.4" cy="1841.1" r="11.2"/><circle cx="520.5" cy="1887.4" r="11.2"/><circle cx="499.8" cy="1885.7" r="11.2"/><circle cx="521.3" cy="1902.9" r="11.2"/><circle cx="367.7" cy="1934.7" r="11.2"/><circle cx="530.8" cy="1819.6" r="11.2"/><circle cx="455.8" cy="1931.5" r="11.2"/><circle cx="433.1" cy="1913.7" r="11.2"/><circle cx="388.0" cy="1896.0" r="11.2"/><circle cx="650.3" cy="1953.3" r="11.2"/><circle cx="608.4" cy="1968.7" r="11.2"/><circle cx="506.7" cy="1895.0" r="11.2"/><circle cx="567.5" cy="1878.3" r="11.2"/><circle cx="396.3" cy="1961.7" r="11.2"/><circle cx="593.1" cy="1924.9" r="11.2"/><circle cx="560.3" cy="1844.3" r="11.2"/><circle cx="544.3" cy="1896.5" r="11.2"/><circle cx="536.9" cy="1867.0" r="11.2"/><circle cx="469.6" cy="1821.9" r="11.2"/><circle cx="517.2" cy="1815.9" r="11.2"/><circle cx="363.4" cy="1881.8" r="11.2"/><circle cx="489.8" cy="1856.9" r="11.2"/><circle cx="593.1" cy="1920.7" r="11.2"/><circle cx="397.1" cy="1865.8" r="11.2"/><circle cx="433.3" cy="1867.0" r="11.2"/><circle cx="524.0" cy="1923.9" r="11.2"/><circle cx="483.0" cy="1978.5" r="11.2"/><circle cx="378.4" cy="1955.9" r="11.2"/><circle cx="437.5" cy="1994.7" r="11.2"/><circle cx="614.0" cy="1872.0" r="11.2"/><circle cx="518.3" cy="1850.2" r="11.2"/><circle cx="425.7" cy="1913.7" r="11.2"/><circle cx="399.4" cy="2025.2" r="11.2"/><circle cx="493.2" cy="1852.5" r="11.2"/><circle cx="424.5" cy="1924.0" r="11.2"/><circle cx="440.0" cy="1850.8" r="11.2"/><circle cx="438.1" cy="1874.3" r="11.2"/><circle cx="553.0" cy="1930.9" r="11.2"/><circle cx="549.3" cy="1800.5" r="11.2"/><circle cx="608.7" cy="1903.6" r="11.2"/><circle cx="511.5" cy="1817.3" r="11.2"/><circle cx="564.2" cy="1877.5" r="11.2"/><circle cx="539.7" cy="1940.1" r="11.2"/><circle cx="651.9" cy="1900.6" r="11.2"/><circle cx="392.0" cy="1930.1" r="11.2"/><circle cx="404.6" cy="1900.6" r="11.2"/><circle cx="402.2" cy="1968.9" r="11.2"/><circle cx="667.1" cy="1760.2" r="11.2"/><circle cx="420.0" cy="1875.9" r="11.2"/><circle cx="493.4" cy="1903.8" r="11.2"/><circle cx="345.6" cy="1903.1" r="11.2"/><circle cx="544.3" cy="1931.5" r="11.2"/><circle cx="423.3" cy="1845.0" r="11.2"/><circle cx="435.8" cy="1979.7" r="11.2"/><circle cx="555.3" cy="1815.1" r="11.2"/><circle cx="529.2" cy="1871.7" r="11.2"/><circle cx="431.5" cy="1929.1" r="11.2"/><circle cx="479.9" cy="1952.2" r="11.2"/><circle cx="616.9" cy="1848.9" r="11.2"/><circle cx="544.6" cy="1970.0" r="11.2"/><circle cx="465.6" cy="1863.6" r="11.2"/><circle cx="477.0" cy="1920.7" r="11.2"/><circle cx="378.1" cy="1930.2" r="11.2"/><circle cx="460.3" cy="1935.9" r="11.2"/><circle cx="500.1" cy="1954.1" r="11.2"/><circle cx="510.7" cy="1957.4" r="11.2"/><circle cx="530.3" cy="1784.6" r="11.2"/><circle cx="342.6" cy="1845.3" r="11.2"/><circle cx="471.3" cy="1978.2" r="11.2"/><circle cx="459.0" cy="1929.2" r="11.2"/><circle cx="457.8" cy="1920.5" r="11.2"/><circle cx="467.5" cy="1874.0" r="11.2"/><circle cx="468.1" cy="1811.0" r="11.2"/><circle cx="575.5" cy="1896.8" r="11.2"/><circle cx="434.9" cy="1835.3" r="11.2"/><circle cx="490.2" cy="1889.3" r="11.2"/><circle cx="498.9" cy="1865.4" r="11.2"/><circle cx="629.3" cy="1896.1" r="11.2"/><circle cx="453.1" cy="1912.9" r="11.2"/><circle cx="548.3" cy="1933.0" r="11.2"/><circle cx="489.2" cy="1883.7" r="11.2"/><circle cx="414.9" cy="1894.2" r="11.2"/><circle cx="557.0" cy="1849.5" r="11.2"/><circle cx="553.6" cy="1954.1" r="11.2"/><circle cx="529.5" cy="1906.1" r="11.2"/><circle cx="580.1" cy="1846.9" r="11.2"/></g>
<polygon points="230.8,1886.9 246.4,1888.4 262.0,1889.8 277.6,1891.2 293.2,1892.6 308.8,1893.9 324.4,1895.2 339.9,1896.5 355.5,1897.6 371.1,1898.6 386.7,1899.4 402.3,1900.0 417.9,1900.2 433.5,1900.0 449.1,1899.1 464.7,1897.7 480.3,1895.7 495.9,1893.1 511.4,1890.2 527.0,1887.1 542.6,1883.8 558.2,1880.3 573.8,1876.7 589.4,1873.1 605.0,1869.4 605.0,1929.4 589.4,1928.1 573.8,1926.8 558.2,1925.6 542.6,1924.4 527.0,1923.5 511.4,1922.7 495.9,1922.1 480.3,1921.9 464.7,1922.3 449.1,1923.2 433.5,1924.7 417.9,1926.8 402.3,1929.4 386.7,1932.3 371.1,1935.5 355.5,1938.8 339.9,1942.3 324.4,1945.9 308.8,1949.5 293.2,1953.2 277.6,1956.9 262.0,1960.7 246.4,1964.5 230.8,1968.3" fill="#7fbcc6" fill-opacity="0.360"/>
<polygon points="243.2,1866.9 261.5,1868.4 279.8,1870.0 298.2,1871.5 316.5,1873.0 334.8,1874.4 353.1,1875.8 371.4,1877.1 389.8,1878.3 408.1,1879.4 426.4,1880.2 444.7,1880.8 463.0,1880.9 481.4,1880.5 499.7,1879.3 518.0,1877.2 536.3,1874.5 554.7,1871.3 573.0,1867.7 591.3,1863.9 609.6,1859.9 627.9,1855.7 646.3,1851.5 664.6,1847.2 682.9,1842.9 682.9,1910.9 664.6,1909.4 646.3,1908.0 627.9,1906.7 609.6,1905.4 591.3,1904.3 573.0,1903.3 554.7,1902.6 536.3,1902.3 518.0,1902.4 499.7,1903.3 481.4,1905.0 463.0,1907.4 444.7,1910.4 426.4,1913.8 408.1,1917.6 389.8,1921.5 371.4,1925.6 353.1,1929.8 334.8,1934.0 316.5,1938.3 298.2,1942.7 279.8,1947.1 261.5,1951.5 243.2,1955.9" fill="#8ab4e0" fill-opacity="0.330"/>
<polygon points="364.6,1906.7 377.2,1904.8 389.8,1902.8 402.4,1900.8 415.0,1898.8 427.5,1896.8 440.1,1894.7 452.7,1892.5 465.3,1890.3 477.9,1887.9 490.5,1885.3 503.1,1882.4 515.7,1879.1 528.2,1875.3 540.8,1870.9 553.4,1866.0 566.0,1860.6 578.6,1854.8 591.2,1848.8 603.8,1842.6 616.4,1836.3 628.9,1830.0 641.5,1823.5 654.1,1817.0 666.7,1810.5 666.7,1866.5 654.1,1868.5 641.5,1870.5 628.9,1872.6 616.4,1874.7 603.8,1876.9 591.2,1879.3 578.6,1881.8 566.0,1884.6 553.4,1887.7 540.8,1891.2 528.2,1895.4 515.7,1900.1 503.1,1905.3 490.5,1911.0 477.9,1916.9 465.3,1923.0 452.7,1929.2 440.1,1935.6 427.5,1942.0 415.0,1948.5 402.4,1955.0 389.8,1961.5 377.2,1968.1 364.6,1974.7" fill="#f5b070" fill-opacity="0.250"/>
<polygon points="383.0,1922.1 401.6,1919.1 420.1,1916.0 438.7,1912.9 457.2,1909.7 475.8,1906.4 494.3,1902.8 512.9,1899.0 531.4,1894.7 550.0,1889.8 568.5,1884.1 587.1,1877.7 605.6,1870.7 624.2,1863.2 642.8,1855.6 661.3,1847.7 679.9,1839.7 698.4,1831.6 717.0,1823.5 735.5,1815.3 754.1,1807.1 772.6,1798.8 791.2,1790.6 809.7,1782.3 828.3,1774.0 828.3,1858.0 809.7,1860.9 791.2,1863.8 772.6,1866.7 754.1,1869.6 735.5,1872.6 717.0,1875.6 698.4,1878.6 679.9,1881.7 661.3,1884.9 642.8,1888.2 624.2,1891.7 605.6,1895.4 587.1,1899.6 568.5,1904.4 550.0,1909.9 531.4,1916.1 512.9,1923.0 494.3,1930.3 475.8,1937.9 457.2,1945.8 438.7,1953.7 420.1,1961.8 401.6,1969.9 383.0,1978.1" fill="#d9695a" fill-opacity="0.250"/>
<line x1="243.20" y1="1911.40" x2="682.90" y2="1876.90" stroke="#3a7fc4" stroke-width="11.0" stroke-dasharray="42 43"/>
<line x1="230.80" y1="1927.60" x2="605.00" y2="1899.40" stroke="#0d7b8a" stroke-width="11.0" stroke-dasharray="42 43"/>
<line x1="364.60" y1="1940.70" x2="666.70" y2="1838.50" stroke="#e6892a" stroke-width="11.0"/>
<line x1="383.00" y1="1950.10" x2="828.30" y2="1816.00" stroke="#c23b22" stroke-width="11.0"/>
<line x1="200.9" y1="1334.0" x2="200.9" y2="2116.8" stroke="#000" stroke-width="5.0"/>
<line x1="198.4" y1="2114.4" x2="859.0" y2="2114.4" stroke="#000" stroke-width="5.0"/>
<line x1="188.4" y1="1368.7" x2="198.9" y2="1368.7" stroke="#999" stroke-width="4.6"/>
<line x1="188.4" y1="1622.5" x2="198.9" y2="1622.5" stroke="#999" stroke-width="4.6"/>
<line x1="188.4" y1="1876.5" x2="198.9" y2="1876.5" stroke="#999" stroke-width="4.6"/>
<line x1="278.2" y1="2116.4" x2="278.2" y2="2126.9" stroke="#000" stroke-width="4.8"/>
<line x1="405.9" y1="2116.4" x2="405.9" y2="2126.9" stroke="#000" stroke-width="4.8"/>
<line x1="533.3" y1="2116.4" x2="533.3" y2="2126.9" stroke="#000" stroke-width="4.8"/>
<line x1="660.3" y1="2116.4" x2="660.3" y2="2126.9" stroke="#000" stroke-width="4.8"/>
<line x1="788.1" y1="2116.4" x2="788.1" y2="2126.9" stroke="#000" stroke-width="4.8"/>
<text x="80.49" y="1386.30" font-size="50.00" fill="#000">3.00</text>
<text x="80.49" y="1640.10" font-size="50.00" fill="#000">2.00</text>
<text x="80.49" y="1894.10" font-size="50.00" fill="#000">1.00</text>
<text x="249.60" y="2184.70" font-size="50.00" fill="#000">−2</text>
<text x="377.30" y="2184.70" font-size="50.00" fill="#000">−1</text>
<text x="519.80" y="2184.70" font-size="50.00" fill="#000">0</text>
<text x="645.80" y="2184.70" font-size="50.00" fill="#000">1</text>
<text x="774.10" y="2184.70" font-size="50.00" fill="#000">2</text>
<text transform="translate(222.88 2251.80) scale(1.0067 1)" font-size="58.00" fill="#000"><tspan>log10(Number of farms)</tspan></text>
<text transform="translate(42.80 2091.71) rotate(-90) scale(1.0025 1)" font-size="58.00" fill="#000">log10(Average crop stability)</text>
<text transform="translate(874.82 1322.70) scale(1.0259 1)" font-size="58.00" fill="#000"><tspan>(c)</tspan></text>
<text transform="translate(232.90 1383.80) scale(1.0017 1)" font-size="41.50" fill="#000"><tspan font-weight="bold" fill="#c8161e">SL</tspan><tspan>:slope = 0.152 ± 0.04 ***</tspan></text>
<text transform="translate(231.89 1430.10) scale(1.0038 1)" font-size="41.50" fill="#000"><tspan font-weight="bold" fill="#f6b226">M</tspan><tspan>: slope = 0.170 ±0.05 ***</tspan></text>
<text transform="translate(231.89 1476.30) scale(1.0041 1)" font-size="41.50" fill="#000"><tspan font-weight="bold" fill="#215a6b">MS</tspan><tspan>: slope = 0.042 ± 0.04</tspan></text>
<text transform="translate(232.90 1522.00) scale(1.0037 1)" font-size="41.50" fill="#000"><tspan font-weight="bold" fill="#4e6437">S</tspan><tspan>: slope = 0.040 ± 0.05</tspan></text>
<g stroke="#141414" stroke-width="2.90"><rect x="1238.30" y="1325.10" width="20.00" height="8.40" fill="#2f98a6"/><line x1="1238.30" y1="1325.10" x2="1258.30" y2="1325.10"/><line x1="1238.30" y1="1323.65" x2="1238.30" y2="1333.50"/><line x1="1258.30" y1="1323.65" x2="1258.30" y2="1333.50"/><rect x="1258.30" y="1320.80" width="20.00" height="12.70" fill="#2f98a6"/><line x1="1258.30" y1="1320.80" x2="1278.30" y2="1320.80"/><line x1="1258.30" y1="1319.35" x2="1258.30" y2="1333.50"/><line x1="1278.30" y1="1319.35" x2="1278.30" y2="1333.50"/><rect x="1278.30" y="1328.80" width="20.00" height="4.70" fill="#2f98a6"/><line x1="1278.30" y1="1328.80" x2="1298.30" y2="1328.80"/><line x1="1278.30" y1="1327.35" x2="1278.30" y2="1333.50"/><line x1="1298.30" y1="1327.35" x2="1298.30" y2="1333.50"/><rect x="1298.30" y="1328.80" width="20.00" height="4.70" fill="#2f98a6"/><line x1="1298.30" y1="1328.80" x2="1318.30" y2="1328.80"/><line x1="1298.30" y1="1327.35" x2="1298.30" y2="1333.50"/><line x1="1318.30" y1="1327.35" x2="1318.30" y2="1333.50"/><rect x="1318.30" y="1324.80" width="20.00" height="8.70" fill="#2f98a6"/><line x1="1318.30" y1="1324.80" x2="1338.30" y2="1324.80"/><line x1="1318.30" y1="1323.35" x2="1318.30" y2="1333.50"/><line x1="1338.30" y1="1323.35" x2="1338.30" y2="1333.50"/><rect x="1338.30" y="1312.90" width="20.00" height="11.90" fill="#2f98a6"/><rect x="1338.30" y="1324.80" width="20.00" height="8.70" fill="#4f8fcc"/><line x1="1338.30" y1="1312.90" x2="1358.30" y2="1312.90"/><line x1="1338.30" y1="1324.80" x2="1358.30" y2="1324.80"/><line x1="1338.30" y1="1311.45" x2="1338.30" y2="1333.50"/><line x1="1358.30" y1="1311.45" x2="1358.30" y2="1333.50"/><rect x="1358.30" y="1308.80" width="20.00" height="12.00" fill="#2f98a6"/><rect x="1358.30" y="1320.80" width="20.00" height="12.70" fill="#e3973f"/><line x1="1358.30" y1="1308.80" x2="1378.30" y2="1308.80"/><line x1="1358.30" y1="1320.80" x2="1378.30" y2="1320.80"/><line x1="1358.30" y1="1307.35" x2="1358.30" y2="1333.50"/><line x1="1378.30" y1="1307.35" x2="1378.30" y2="1333.50"/><rect x="1378.30" y="1276.90" width="20.00" height="47.90" fill="#2f98a6"/><rect x="1378.30" y="1324.80" width="20.00" height="8.70" fill="#e3973f"/><line x1="1378.30" y1="1276.90" x2="1398.30" y2="1276.90"/><line x1="1378.30" y1="1324.80" x2="1398.30" y2="1324.80"/><line x1="1378.30" y1="1275.45" x2="1378.30" y2="1333.50"/><line x1="1398.30" y1="1275.45" x2="1398.30" y2="1333.50"/><rect x="1398.30" y="1261.00" width="20.00" height="68.00" fill="#2f98a6"/><rect x="1398.30" y="1329.00" width="20.00" height="4.50" fill="#4f8fcc"/><line x1="1398.30" y1="1261.00" x2="1418.30" y2="1261.00"/><line x1="1398.30" y1="1329.00" x2="1418.30" y2="1329.00"/><line x1="1398.30" y1="1259.55" x2="1398.30" y2="1333.50"/><line x1="1418.30" y1="1259.55" x2="1418.30" y2="1333.50"/><rect x="1418.30" y="1300.80" width="20.00" height="24.00" fill="#2f98a6"/><rect x="1418.30" y="1324.80" width="20.00" height="8.70" fill="#e3973f"/><line x1="1418.30" y1="1300.80" x2="1438.30" y2="1300.80"/><line x1="1418.30" y1="1324.80" x2="1438.30" y2="1324.80"/><line x1="1418.30" y1="1299.35" x2="1418.30" y2="1333.50"/><line x1="1438.30" y1="1299.35" x2="1438.30" y2="1333.50"/><rect x="1438.30" y="1293.00" width="20.00" height="14.40" fill="#2f98a6"/><rect x="1438.30" y="1307.40" width="20.00" height="6.10" fill="#4f8fcc"/><rect x="1438.30" y="1313.50" width="20.00" height="20.00" fill="#e3973f"/><line x1="1438.30" y1="1293.00" x2="1458.30" y2="1293.00"/><line x1="1438.30" y1="1307.40" x2="1458.30" y2="1307.40"/><line x1="1438.30" y1="1313.50" x2="1458.30" y2="1313.50"/><line x1="1438.30" y1="1291.55" x2="1438.30" y2="1333.50"/><line x1="1458.30" y1="1291.55" x2="1458.30" y2="1333.50"/><rect x="1458.30" y="1293.00" width="20.00" height="23.90" fill="#2f98a6"/><rect x="1458.30" y="1316.90" width="20.00" height="16.60" fill="#e3973f"/><line x1="1458.30" y1="1293.00" x2="1478.30" y2="1293.00"/><line x1="1458.30" y1="1316.90" x2="1478.30" y2="1316.90"/><line x1="1458.30" y1="1291.55" x2="1458.30" y2="1333.50"/><line x1="1478.30" y1="1291.55" x2="1478.30" y2="1333.50"/><rect x="1478.30" y="1285.30" width="20.00" height="11.60" fill="#2f98a6"/><rect x="1478.30" y="1296.90" width="20.00" height="36.60" fill="#c84b2a"/><line x1="1478.30" y1="1285.30" x2="1498.30" y2="1285.30"/><line x1="1478.30" y1="1296.90" x2="1498.30" y2="1296.90"/><line x1="1478.30" y1="1283.85" x2="1478.30" y2="1333.50"/><line x1="1498.30" y1="1283.85" x2="1498.30" y2="1333.50"/><rect x="1498.30" y="1253.10" width="20.00" height="43.80" fill="#2f98a6"/><rect x="1498.30" y="1296.90" width="20.00" height="2.60" fill="#4f8fcc"/><rect x="1498.30" y="1299.50" width="20.00" height="10.50" fill="#b84c44"/><rect x="1498.30" y="1310.00" width="20.00" height="23.50" fill="#c84b2a"/><line x1="1498.30" y1="1253.10" x2="1518.30" y2="1253.10"/><line x1="1498.30" y1="1296.90" x2="1518.30" y2="1296.90"/><line x1="1498.30" y1="1299.50" x2="1518.30" y2="1299.50"/><line x1="1498.30" y1="1310.00" x2="1518.30" y2="1310.00"/><line x1="1498.30" y1="1251.65" x2="1498.30" y2="1333.50"/><line x1="1518.30" y1="1251.65" x2="1518.30" y2="1333.50"/><rect x="1518.30" y="1261.00" width="20.00" height="32.50" fill="#4f8fcc"/><rect x="1518.30" y="1293.50" width="20.00" height="7.50" fill="#e3973f"/><rect x="1518.30" y="1301.00" width="20.00" height="32.50" fill="#c84b2a"/><line x1="1518.30" y1="1261.00" x2="1538.30" y2="1261.00"/><line x1="1518.30" y1="1293.50" x2="1538.30" y2="1293.50"/><line x1="1518.30" y1="1301.00" x2="1538.30" y2="1301.00"/><line x1="1518.30" y1="1259.55" x2="1518.30" y2="1333.50"/><line x1="1538.30" y1="1259.55" x2="1538.30" y2="1333.50"/><rect x="1538.30" y="1257.00" width="20.00" height="20.30" fill="#4f8fcc"/><rect x="1538.30" y="1277.30" width="20.00" height="23.70" fill="#e3973f"/><rect x="1538.30" y="1301.00" width="20.00" height="32.50" fill="#c84b2a"/><line x1="1538.30" y1="1257.00" x2="1558.30" y2="1257.00"/><line x1="1538.30" y1="1277.30" x2="1558.30" y2="1277.30"/><line x1="1538.30" y1="1301.00" x2="1558.30" y2="1301.00"/><line x1="1538.30" y1="1255.55" x2="1538.30" y2="1333.50"/><line x1="1558.30" y1="1255.55" x2="1558.30" y2="1333.50"/><rect x="1558.30" y="1261.30" width="20.00" height="7.80" fill="#2f98a6"/><rect x="1558.30" y="1269.10" width="20.00" height="12.20" fill="#4f8fcc"/><rect x="1558.30" y="1281.30" width="20.00" height="27.80" fill="#e3973f"/><rect x="1558.30" y="1309.10" width="20.00" height="24.40" fill="#c84b2a"/><line x1="1558.30" y1="1261.30" x2="1578.30" y2="1261.30"/><line x1="1558.30" y1="1269.10" x2="1578.30" y2="1269.10"/><line x1="1558.30" y1="1281.30" x2="1578.30" y2="1281.30"/><line x1="1558.30" y1="1309.10" x2="1578.30" y2="1309.10"/><line x1="1558.30" y1="1259.85" x2="1558.30" y2="1333.50"/><line x1="1578.30" y1="1259.85" x2="1578.30" y2="1333.50"/><rect x="1578.30" y="1257.00" width="20.00" height="4.30" fill="#4f8fcc"/><rect x="1578.30" y="1261.30" width="20.00" height="20.00" fill="#e3973f"/><rect x="1578.30" y="1281.30" width="20.00" height="52.20" fill="#c84b2a"/><line x1="1578.30" y1="1257.00" x2="1598.30" y2="1257.00"/><line x1="1578.30" y1="1261.30" x2="1598.30" y2="1261.30"/><line x1="1578.30" y1="1281.30" x2="1598.30" y2="1281.30"/><line x1="1578.30" y1="1255.55" x2="1578.30" y2="1333.50"/><line x1="1598.30" y1="1255.55" x2="1598.30" y2="1333.50"/><rect x="1598.30" y="1269.10" width="20.00" height="12.20" fill="#e3973f"/><rect x="1598.30" y="1281.30" width="20.00" height="52.20" fill="#c84b2a"/><line x1="1598.30" y1="1269.10" x2="1618.30" y2="1269.10"/><line x1="1598.30" y1="1281.30" x2="1618.30" y2="1281.30"/><line x1="1598.30" y1="1267.65" x2="1598.30" y2="1333.50"/><line x1="1618.30" y1="1267.65" x2="1618.30" y2="1333.50"/><rect x="1618.30" y="1240.80" width="20.00" height="40.50" fill="#4f8fcc"/><rect x="1618.30" y="1281.30" width="20.00" height="14.70" fill="#b84c44"/><rect x="1618.30" y="1296.00" width="20.00" height="37.50" fill="#c84b2a"/><line x1="1618.30" y1="1240.80" x2="1638.30" y2="1240.80"/><line x1="1618.30" y1="1281.30" x2="1638.30" y2="1281.30"/><line x1="1618.30" y1="1296.00" x2="1638.30" y2="1296.00"/><line x1="1618.30" y1="1239.35" x2="1618.30" y2="1333.50"/><line x1="1638.30" y1="1239.35" x2="1638.30" y2="1333.50"/><rect x="1638.30" y="1257.30" width="20.00" height="8.00" fill="#e3973f"/><rect x="1638.30" y="1265.30" width="20.00" height="68.20" fill="#c84b2a"/><line x1="1638.30" y1="1257.30" x2="1658.30" y2="1257.30"/><line x1="1638.30" y1="1265.30" x2="1658.30" y2="1265.30"/><line x1="1638.30" y1="1255.85" x2="1638.30" y2="1333.50"/><line x1="1658.30" y1="1255.85" x2="1658.30" y2="1333.50"/><rect x="1658.30" y="1240.80" width="20.00" height="48.70" fill="#e3973f"/><rect x="1658.30" y="1289.50" width="20.00" height="44.00" fill="#c84b2a"/><line x1="1658.30" y1="1240.80" x2="1678.30" y2="1240.80"/><line x1="1658.30" y1="1289.50" x2="1678.30" y2="1289.50"/><line x1="1658.30" y1="1239.35" x2="1658.30" y2="1333.50"/><line x1="1678.30" y1="1239.35" x2="1678.30" y2="1333.50"/><rect x="1678.30" y="1272.90" width="20.00" height="20.60" fill="#e3973f"/><rect x="1678.30" y="1293.50" width="20.00" height="40.00" fill="#c84b2a"/><line x1="1678.30" y1="1272.90" x2="1698.30" y2="1272.90"/><line x1="1678.30" y1="1293.50" x2="1698.30" y2="1293.50"/><line x1="1678.30" y1="1271.45" x2="1678.30" y2="1333.50"/><line x1="1698.30" y1="1271.45" x2="1698.30" y2="1333.50"/><rect x="1698.30" y="1301.30" width="20.00" height="7.70" fill="#b84c44"/><rect x="1698.30" y="1309.00" width="20.00" height="24.50" fill="#c84b2a"/><line x1="1698.30" y1="1301.30" x2="1718.30" y2="1301.30"/><line x1="1698.30" y1="1309.00" x2="1718.30" y2="1309.00"/><line x1="1698.30" y1="1299.85" x2="1698.30" y2="1333.50"/><line x1="1718.30" y1="1299.85" x2="1718.30" y2="1333.50"/><rect x="1718.30" y="1293.50" width="20.00" height="40.00" fill="#cd5b47"/><line x1="1718.30" y1="1293.50" x2="1738.30" y2="1293.50"/><line x1="1718.30" y1="1292.05" x2="1718.30" y2="1333.50"/><line x1="1738.30" y1="1292.05" x2="1738.30" y2="1333.50"/><rect x="1738.30" y="1316.90" width="20.00" height="16.60" fill="#cd5b47"/><line x1="1738.30" y1="1316.90" x2="1758.30" y2="1316.90"/><line x1="1738.30" y1="1315.45" x2="1738.30" y2="1333.50"/><line x1="1758.30" y1="1315.45" x2="1758.30" y2="1333.50"/><rect x="1758.30" y="1289.50" width="20.00" height="44.00" fill="#cd5b47"/><line x1="1758.30" y1="1289.50" x2="1778.30" y2="1289.50"/><line x1="1758.30" y1="1288.05" x2="1758.30" y2="1333.50"/><line x1="1778.30" y1="1288.05" x2="1778.30" y2="1333.50"/><rect x="1778.30" y="1313.10" width="20.00" height="20.40" fill="#cd5b47"/><line x1="1778.30" y1="1313.10" x2="1798.30" y2="1313.10"/><line x1="1778.30" y1="1311.65" x2="1778.30" y2="1333.50"/><line x1="1798.30" y1="1311.65" x2="1798.30" y2="1333.50"/><rect x="1798.30" y="1305.10" width="20.00" height="28.40" fill="#cd5b47"/><line x1="1798.30" y1="1305.10" x2="1818.30" y2="1305.10"/><line x1="1798.30" y1="1303.65" x2="1798.30" y2="1333.50"/><line x1="1818.30" y1="1303.65" x2="1818.30" y2="1333.50"/><rect x="1818.30" y="1325.10" width="20.00" height="8.40" fill="#cd5b47"/><line x1="1818.30" y1="1325.10" x2="1838.30" y2="1325.10"/><line x1="1818.30" y1="1323.65" x2="1818.30" y2="1333.50"/><line x1="1838.30" y1="1323.65" x2="1838.30" y2="1333.50"/></g>
<line x1="1237.30" y1="1333.50" x2="1839.30" y2="1333.50" stroke="#111" stroke-width="3.2"/>
<g stroke="#1a1a1a" stroke-width="2.40"><rect x="1871.30" y="1373.20" width="3.20" height="23.73" fill="#2d5f6c"/><line x1="1874.50" y1="1373.20" x2="1874.50" y2="1396.93"/><line x1="1871.30" y1="1373.20" x2="1875.70" y2="1373.20"/><line x1="1871.30" y1="1396.93" x2="1875.70" y2="1396.93"/><rect x="1871.30" y="1468.12" width="3.20" height="23.73" fill="#4f8fcc"/><line x1="1874.50" y1="1468.12" x2="1874.50" y2="1491.85"/><line x1="1871.30" y1="1468.12" x2="1875.70" y2="1468.12"/><line x1="1871.30" y1="1491.85" x2="1875.70" y2="1491.85"/><rect x="1871.30" y="1491.85" width="3.20" height="23.73" fill="#b4705c"/><line x1="1874.50" y1="1491.85" x2="1874.50" y2="1515.58"/><line x1="1871.30" y1="1491.85" x2="1875.70" y2="1491.85"/><line x1="1871.30" y1="1515.58" x2="1875.70" y2="1515.58"/><rect x="1871.30" y="1515.58" width="3.20" height="23.73" fill="#e3973f"/><line x1="1874.50" y1="1515.58" x2="1874.50" y2="1539.31"/><line x1="1871.30" y1="1515.58" x2="1875.70" y2="1515.58"/><line x1="1871.30" y1="1539.31" x2="1875.70" y2="1539.31"/><rect x="1871.30" y="1539.31" width="3.20" height="23.73" fill="#4a3a35"/><line x1="1874.50" y1="1539.31" x2="1874.50" y2="1563.04"/><line x1="1871.30" y1="1539.31" x2="1875.70" y2="1539.31"/><line x1="1871.30" y1="1563.04" x2="1875.70" y2="1563.04"/><rect x="1871.30" y="1563.04" width="8.50" height="23.73" fill="#e3973f"/><line x1="1879.80" y1="1563.04" x2="1879.80" y2="1586.77"/><line x1="1871.30" y1="1563.04" x2="1881.00" y2="1563.04"/><line x1="1871.30" y1="1586.77" x2="1881.00" y2="1586.77"/><rect x="1871.30" y="1586.77" width="4.70" height="23.73" fill="#b4705c"/><rect x="1876.00" y="1586.77" width="3.80" height="23.73" fill="#4f8fcc"/><line x1="1876.00" y1="1586.77" x2="1876.00" y2="1610.50"/><line x1="1879.80" y1="1586.77" x2="1879.80" y2="1610.50"/><line x1="1871.30" y1="1586.77" x2="1881.00" y2="1586.77"/><line x1="1871.30" y1="1610.50" x2="1881.00" y2="1610.50"/><rect x="1871.30" y="1610.50" width="11.70" height="23.73" fill="#c84b2a"/><line x1="1883.00" y1="1610.50" x2="1883.00" y2="1634.23"/><line x1="1871.30" y1="1610.50" x2="1884.20" y2="1610.50"/><line x1="1871.30" y1="1634.23" x2="1884.20" y2="1634.23"/><rect x="1871.30" y="1634.23" width="4.70" height="23.73" fill="#c84b2a"/><rect x="1876.00" y="1634.23" width="3.80" height="23.73" fill="#4a3a35"/><line x1="1876.00" y1="1634.23" x2="1876.00" y2="1657.96"/><line x1="1879.80" y1="1634.23" x2="1879.80" y2="1657.96"/><line x1="1871.30" y1="1634.23" x2="1881.00" y2="1634.23"/><line x1="1871.30" y1="1657.96" x2="1881.00" y2="1657.96"/><rect x="1871.30" y="1657.96" width="13.20" height="23.73" fill="#c84b2a"/><rect x="1884.50" y="1657.96" width="16.00" height="23.73" fill="#e3973f"/><line x1="1884.50" y1="1657.96" x2="1884.50" y2="1681.69"/><line x1="1900.50" y1="1657.96" x2="1900.50" y2="1681.69"/><line x1="1871.30" y1="1657.96" x2="1901.70" y2="1657.96"/><line x1="1871.30" y1="1681.69" x2="1901.70" y2="1681.69"/><rect x="1871.30" y="1681.69" width="4.70" height="23.73" fill="#c84b2a"/><rect x="1876.00" y="1681.69" width="17.00" height="23.73" fill="#cf8c45"/><rect x="1893.00" y="1681.69" width="7.50" height="23.73" fill="#4f8fcc"/><line x1="1876.00" y1="1681.69" x2="1876.00" y2="1705.42"/><line x1="1893.00" y1="1681.69" x2="1893.00" y2="1705.42"/><line x1="1900.50" y1="1681.69" x2="1900.50" y2="1705.42"/><line x1="1871.30" y1="1681.69" x2="1901.70" y2="1681.69"/><line x1="1871.30" y1="1705.42" x2="1901.70" y2="1705.42"/><rect x="1871.30" y="1705.42" width="30.70" height="23.73" fill="#c84b2a"/><rect x="1902.00" y="1705.42" width="18.00" height="23.73" fill="#e3973f"/><line x1="1902.00" y1="1705.42" x2="1902.00" y2="1729.15"/><line x1="1920.00" y1="1705.42" x2="1920.00" y2="1729.15"/><line x1="1871.30" y1="1705.42" x2="1921.20" y2="1705.42"/><line x1="1871.30" y1="1729.15" x2="1921.20" y2="1729.15"/><rect x="1871.30" y="1729.15" width="45.50" height="23.73" fill="#c84b2a"/><rect x="1916.80" y="1729.15" width="12.20" height="23.73" fill="#e3973f"/><line x1="1916.80" y1="1729.15" x2="1916.80" y2="1752.88"/><line x1="1929.00" y1="1729.15" x2="1929.00" y2="1752.88"/><line x1="1871.30" y1="1729.15" x2="1930.20" y2="1729.15"/><line x1="1871.30" y1="1752.88" x2="1930.20" y2="1752.88"/><rect x="1871.30" y="1752.88" width="39.00" height="23.73" fill="#c84b2a"/><rect x="1910.30" y="1752.88" width="4.70" height="23.73" fill="#4a3a35"/><line x1="1910.30" y1="1752.88" x2="1910.30" y2="1776.61"/><line x1="1915.00" y1="1752.88" x2="1915.00" y2="1776.61"/><line x1="1871.30" y1="1752.88" x2="1916.20" y2="1752.88"/><line x1="1871.30" y1="1776.61" x2="1916.20" y2="1776.61"/><rect x="1871.30" y="1776.61" width="33.30" height="23.73" fill="#c84b2a"/><rect x="1904.60" y="1776.61" width="17.90" height="23.73" fill="#4f8fcc"/><line x1="1904.60" y1="1776.61" x2="1904.60" y2="1800.34"/><line x1="1922.50" y1="1776.61" x2="1922.50" y2="1800.34"/><line x1="1871.30" y1="1776.61" x2="1923.70" y2="1776.61"/><line x1="1871.30" y1="1800.34" x2="1923.70" y2="1800.34"/><rect x="1871.30" y="1800.34" width="42.70" height="23.73" fill="#c84b2a"/><rect x="1914.00" y="1800.34" width="7.00" height="23.73" fill="#cf8c45"/><rect x="1921.00" y="1800.34" width="12.00" height="23.73" fill="#4f8fcc"/><rect x="1933.00" y="1800.34" width="15.90" height="23.73" fill="#2f98a6"/><line x1="1914.00" y1="1800.34" x2="1914.00" y2="1824.07"/><line x1="1921.00" y1="1800.34" x2="1921.00" y2="1824.07"/><line x1="1933.00" y1="1800.34" x2="1933.00" y2="1824.07"/><line x1="1948.90" y1="1800.34" x2="1948.90" y2="1824.07"/><line x1="1871.30" y1="1800.34" x2="1950.10" y2="1800.34"/><line x1="1871.30" y1="1824.07" x2="1950.10" y2="1824.07"/><rect x="1871.30" y="1824.07" width="39.70" height="23.73" fill="#c84b2a"/><rect x="1911.00" y="1824.07" width="14.00" height="23.73" fill="#cf8c45"/><rect x="1925.00" y="1824.07" width="21.00" height="23.73" fill="#2f98a6"/><line x1="1911.00" y1="1824.07" x2="1911.00" y2="1847.80"/><line x1="1925.00" y1="1824.07" x2="1925.00" y2="1847.80"/><line x1="1946.00" y1="1824.07" x2="1946.00" y2="1847.80"/><line x1="1871.30" y1="1824.07" x2="1947.20" y2="1824.07"/><line x1="1871.30" y1="1847.80" x2="1947.20" y2="1847.80"/><rect x="1871.30" y="1847.80" width="16.70" height="23.73" fill="#c84b2a"/><rect x="1888.00" y="1847.80" width="23.00" height="23.73" fill="#b84c44"/><rect x="1911.00" y="1847.80" width="5.00" height="23.73" fill="#4a3a35"/><rect x="1916.00" y="1847.80" width="9.70" height="23.73" fill="#2f98a6"/><line x1="1888.00" y1="1847.80" x2="1888.00" y2="1871.53"/><line x1="1911.00" y1="1847.80" x2="1911.00" y2="1871.53"/><line x1="1916.00" y1="1847.80" x2="1916.00" y2="1871.53"/><line x1="1925.70" y1="1847.80" x2="1925.70" y2="1871.53"/><line x1="1871.30" y1="1847.80" x2="1926.90" y2="1847.80"/><line x1="1871.30" y1="1871.53" x2="1926.90" y2="1871.53"/><rect x="1871.30" y="1871.53" width="45.50" height="23.73" fill="#b84c44"/><rect x="1916.80" y="1871.53" width="15.10" height="23.73" fill="#2f98a6"/><line x1="1916.80" y1="1871.53" x2="1916.80" y2="1895.26"/><line x1="1931.90" y1="1871.53" x2="1931.90" y2="1895.26"/><line x1="1871.30" y1="1871.53" x2="1933.10" y2="1871.53"/><line x1="1871.30" y1="1895.26" x2="1933.10" y2="1895.26"/><rect x="1871.30" y="1895.26" width="37.50" height="23.73" fill="#c84b2a"/><line x1="1908.80" y1="1895.26" x2="1908.80" y2="1918.99"/><line x1="1871.30" y1="1895.26" x2="1910.00" y2="1895.26"/><line x1="1871.30" y1="1918.99" x2="1910.00" y2="1918.99"/><rect x="1871.30" y="1918.99" width="25.40" height="23.73" fill="#c84b2a"/><line x1="1896.70" y1="1918.99" x2="1896.70" y2="1942.72"/><line x1="1871.30" y1="1918.99" x2="1897.90" y2="1918.99"/><line x1="1871.30" y1="1942.72" x2="1897.90" y2="1942.72"/><rect x="1871.30" y="1942.72" width="17.30" height="23.73" fill="#b84c44"/><line x1="1888.60" y1="1942.72" x2="1888.60" y2="1966.45"/><line x1="1871.30" y1="1942.72" x2="1889.80" y2="1942.72"/><line x1="1871.30" y1="1966.45" x2="1889.80" y2="1966.45"/><rect x="1871.30" y="1966.45" width="17.30" height="23.73" fill="#c84b2a"/><line x1="1888.60" y1="1966.45" x2="1888.60" y2="1990.18"/><line x1="1871.30" y1="1966.45" x2="1889.80" y2="1966.45"/><line x1="1871.30" y1="1990.18" x2="1889.80" y2="1990.18"/><rect x="1871.30" y="1990.18" width="5.10" height="23.73" fill="#c84b2a"/><line x1="1876.40" y1="1990.18" x2="1876.40" y2="2013.91"/><line x1="1871.30" y1="1990.18" x2="1877.60" y2="1990.18"/><line x1="1871.30" y1="2013.91" x2="1877.60" y2="2013.91"/><rect x="1871.30" y="2013.91" width="5.10" height="23.73" fill="#e3973f"/><line x1="1876.40" y1="2013.91" x2="1876.40" y2="2037.64"/><line x1="1871.30" y1="2013.91" x2="1877.60" y2="2013.91"/><line x1="1871.30" y1="2037.64" x2="1877.60" y2="2037.64"/><rect x="1871.30" y="2037.64" width="8.50" height="23.73" fill="#e3973f"/><line x1="1879.80" y1="2037.64" x2="1879.80" y2="2061.37"/><line x1="1871.30" y1="2037.64" x2="1881.00" y2="2037.64"/><line x1="1871.30" y1="2061.37" x2="1881.00" y2="2061.37"/><rect x="1871.30" y="2061.37" width="5.70" height="23.73" fill="#e3973f"/><line x1="1877.00" y1="2061.37" x2="1877.00" y2="2085.10"/><line x1="1871.30" y1="2061.37" x2="1878.20" y2="2061.37"/><line x1="1871.30" y1="2085.10" x2="1878.20" y2="2085.10"/></g>
<line x1="1871.30" y1="1372.20" x2="1871.30" y2="2086.10" stroke="#111" stroke-width="3"/>
<g fill="#cfcfcf" fill-opacity="0.36" stroke="#bdbdbd" stroke-opacity="0.5" stroke-width="2.6"><circle cx="1429.7" cy="1640.9" r="11.2"/><circle cx="1467.0" cy="1735.1" r="11.2"/><circle cx="1451.3" cy="1763.7" r="11.2"/><circle cx="1410.8" cy="1774.3" r="11.2"/><circle cx="1354.3" cy="1784.2" r="11.2"/><circle cx="1427.7" cy="1805.7" r="11.2"/><circle cx="1443.4" cy="1801.8" r="11.2"/><circle cx="1435.6" cy="1819.5" r="11.2"/><circle cx="1453.2" cy="1815.6" r="11.2"/><circle cx="1447.3" cy="1837.2" r="11.2"/><circle cx="1362.9" cy="1819.5" r="11.2"/><circle cx="1384.5" cy="1825.4" r="11.2"/><circle cx="1347.2" cy="1841.1" r="11.2"/><circle cx="1382.6" cy="1841.1" r="11.2"/><circle cx="1345.3" cy="1858.7" r="11.2"/><circle cx="1238.5" cy="1905.9" r="11.2"/><circle cx="1288.3" cy="1909.8" r="11.2"/><circle cx="1296.2" cy="1941.2" r="11.2"/><circle cx="1262.8" cy="2009.1" r="11.2"/><circle cx="1256.9" cy="2027.6" r="11.2"/><circle cx="1329.6" cy="1990.3" r="11.2"/><circle cx="1339.4" cy="2004.0" r="11.2"/><circle cx="1321.7" cy="2024.8" r="11.2"/><circle cx="1423.8" cy="2059.0" r="11.2"/><circle cx="1467.0" cy="2039.3" r="11.2"/><circle cx="1478.7" cy="2055.0" r="11.2"/><circle cx="1521.9" cy="2065.6" r="11.2"/><circle cx="1602.4" cy="2047.2" r="11.2"/><circle cx="1555.3" cy="1750.8" r="11.2"/><circle cx="1553.3" cy="1772.4" r="11.2"/><circle cx="1525.9" cy="1778.3" r="11.2"/><circle cx="1612.2" cy="1731.2" r="11.2"/><circle cx="1627.1" cy="1715.4" r="11.2"/><circle cx="1683.7" cy="1701.7" r="11.2"/><circle cx="1702.5" cy="1729.2" r="11.2"/><circle cx="1692.7" cy="1744.9" r="11.2"/><circle cx="1664.4" cy="1758.6" r="11.2"/><circle cx="1639.7" cy="1772.4" r="11.2"/><circle cx="1804.6" cy="1765.3" r="11.2"/><circle cx="1798.7" cy="1787.3" r="11.2"/><circle cx="1836.0" cy="1815.6" r="11.2"/><circle cx="1810.5" cy="1815.6" r="11.2"/><circle cx="1757.5" cy="1807.7" r="11.2"/><circle cx="1747.7" cy="1803.8" r="11.2"/><circle cx="1733.9" cy="1831.3" r="11.2"/><circle cx="1769.3" cy="1835.2" r="11.2"/><circle cx="1788.9" cy="1917.6" r="11.2"/><circle cx="1767.3" cy="1913.7" r="11.2"/><circle cx="1824.2" cy="1890.2" r="11.2"/><circle cx="1828.2" cy="1870.5" r="11.2"/><circle cx="1667.2" cy="2006.0" r="11.2"/><circle cx="1716.3" cy="1970.6" r="11.2"/><circle cx="1722.2" cy="1943.2" r="11.2"/><circle cx="1690.8" cy="1992.2" r="11.2"/><circle cx="1360.0" cy="1900.0" r="11.2"/><circle cx="1380.0" cy="1925.0" r="11.2"/><circle cx="1395.0" cy="1960.0" r="11.2"/><circle cx="1410.0" cy="1990.0" r="11.2"/><circle cx="1440.0" cy="1990.0" r="11.2"/><circle cx="1460.0" cy="2000.0" r="11.2"/><circle cx="1500.0" cy="2010.0" r="11.2"/><circle cx="1530.0" cy="2015.0" r="11.2"/><circle cx="1560.0" cy="2020.0" r="11.2"/><circle cx="1600.0" cy="2015.0" r="11.2"/><circle cx="1640.0" cy="2005.0" r="11.2"/><circle cx="1800.0" cy="1860.0" r="11.2"/><circle cx="1810.0" cy="1840.0" r="11.2"/><circle cx="1785.0" cy="1845.0" r="11.2"/><circle cx="1541.1" cy="1939.4" r="11.2"/><circle cx="1657.3" cy="1872.4" r="11.2"/><circle cx="1628.0" cy="1913.9" r="11.2"/><circle cx="1632.9" cy="1905.2" r="11.2"/><circle cx="1678.1" cy="1958.0" r="11.2"/><circle cx="1747.8" cy="1894.1" r="11.2"/><circle cx="1566.1" cy="1940.9" r="11.2"/><circle cx="1599.4" cy="1851.9" r="11.2"/><circle cx="1762.4" cy="1949.6" r="11.2"/><circle cx="1596.1" cy="1881.0" r="11.2"/><circle cx="1657.3" cy="1911.0" r="11.2"/><circle cx="1661.9" cy="1892.9" r="11.2"/><circle cx="1475.8" cy="1791.4" r="11.2"/><circle cx="1702.1" cy="1912.5" r="11.2"/><circle cx="1448.4" cy="1918.4" r="11.2"/><circle cx="1648.3" cy="1941.5" r="11.2"/><circle cx="1625.3" cy="1918.4" r="11.2"/><circle cx="1557.0" cy="1805.2" r="11.2"/><circle cx="1604.5" cy="1906.3" r="11.2"/><circle cx="1595.3" cy="1807.7" r="11.2"/><circle cx="1584.3" cy="1857.5" r="11.2"/><circle cx="1679.7" cy="1828.4" r="11.2"/><circle cx="1540.8" cy="1861.3" r="11.2"/><circle cx="1634.3" cy="1963.6" r="11.2"/><circle cx="1658.2" cy="1815.3" r="11.2"/><circle cx="1541.1" cy="1988.4" r="11.2"/><circle cx="1637.7" cy="1885.3" r="11.2"/><circle cx="1656.3" cy="1934.4" r="11.2"/><circle cx="1758.3" cy="1908.9" r="11.2"/><circle cx="1564.5" cy="1842.1" r="11.2"/><circle cx="1700.1" cy="1898.2" r="11.2"/><circle cx="1637.2" cy="1926.8" r="11.2"/><circle cx="1543.1" cy="1993.4" r="11.2"/><circle cx="1603.1" cy="1887.4" r="11.2"/><circle cx="1602.1" cy="1907.4" r="11.2"/><circle cx="1595.7" cy="1879.3" r="11.2"/><circle cx="1674.2" cy="1975.1" r="11.2"/><circle cx="1682.0" cy="1830.7" r="11.2"/><circle cx="1593.8" cy="1980.4" r="11.2"/><circle cx="1623.7" cy="1906.7" r="11.2"/><circle cx="1606.7" cy="1987.6" r="11.2"/><circle cx="1588.3" cy="1872.9" r="11.2"/><circle cx="1706.3" cy="1807.9" r="11.2"/><circle cx="1622.7" cy="1921.2" r="11.2"/><circle cx="1465.4" cy="1891.1" r="11.2"/><circle cx="1543.5" cy="1857.2" r="11.2"/><circle cx="1559.8" cy="1903.7" r="11.2"/><circle cx="1599.9" cy="1956.0" r="11.2"/><circle cx="1441.9" cy="1859.5" r="11.2"/><circle cx="1679.7" cy="1919.5" r="11.2"/><circle cx="1734.8" cy="1870.5" r="11.2"/><circle cx="1702.1" cy="1928.2" r="11.2"/><circle cx="1522.2" cy="1796.1" r="11.2"/><circle cx="1773.9" cy="1963.2" r="11.2"/><circle cx="1633.4" cy="1853.5" r="11.2"/><circle cx="1478.8" cy="1877.4" r="11.2"/><circle cx="1630.4" cy="1990.1" r="11.2"/><circle cx="1596.0" cy="1891.7" r="11.2"/><circle cx="1613.8" cy="1959.3" r="11.2"/><circle cx="1747.8" cy="2007.0" r="11.2"/><circle cx="1625.0" cy="1942.1" r="11.2"/><circle cx="1544.7" cy="1859.3" r="11.2"/><circle cx="1595.1" cy="1946.7" r="11.2"/><circle cx="1449.8" cy="1902.8" r="11.2"/><circle cx="1780.1" cy="1960.9" r="11.2"/><circle cx="1737.2" cy="1866.6" r="11.2"/><circle cx="1650.5" cy="1846.2" r="11.2"/><circle cx="1753.1" cy="1877.8" r="11.2"/><circle cx="1591.2" cy="1841.6" r="11.2"/><circle cx="1647.5" cy="1987.4" r="11.2"/><circle cx="1624.3" cy="1894.2" r="11.2"/><circle cx="1587.8" cy="1966.6" r="11.2"/><circle cx="1635.0" cy="1929.7" r="11.2"/><circle cx="1630.4" cy="1909.5" r="11.2"/><circle cx="1682.9" cy="1939.7" r="11.2"/><circle cx="1510.9" cy="1899.3" r="11.2"/><circle cx="1610.0" cy="1928.4" r="11.2"/><circle cx="1724.2" cy="1860.6" r="11.2"/><circle cx="1572.1" cy="1820.1" r="11.2"/><circle cx="1578.2" cy="1970.1" r="11.2"/><circle cx="1576.3" cy="1976.6" r="11.2"/><circle cx="1631.0" cy="1890.4" r="11.2"/><circle cx="1636.3" cy="1872.2" r="11.2"/><circle cx="1656.5" cy="1902.3" r="11.2"/><circle cx="1479.0" cy="1856.2" r="11.2"/><circle cx="1666.8" cy="1884.6" r="11.2"/><circle cx="1452.8" cy="1959.7" r="11.2"/><circle cx="1738.8" cy="1829.5" r="11.2"/><circle cx="1625.7" cy="1946.5" r="11.2"/><circle cx="1662.1" cy="1936.5" r="11.2"/><circle cx="1507.1" cy="1958.4" r="11.2"/><circle cx="1598.7" cy="1869.9" r="11.2"/><circle cx="1662.9" cy="1957.2" r="11.2"/><circle cx="1694.9" cy="1858.3" r="11.2"/><circle cx="1654.6" cy="1814.0" r="11.2"/><circle cx="1692.5" cy="1852.9" r="11.2"/><circle cx="1561.3" cy="1944.5" r="11.2"/><circle cx="1645.8" cy="1855.6" r="11.2"/><circle cx="1678.1" cy="2003.5" r="11.2"/><circle cx="1511.3" cy="1910.2" r="11.2"/><circle cx="1635.7" cy="1915.0" r="11.2"/><circle cx="1638.2" cy="1960.7" r="11.2"/><circle cx="1687.5" cy="1909.5" r="11.2"/><circle cx="1705.3" cy="1878.2" r="11.2"/><circle cx="1769.0" cy="1903.0" r="11.2"/><circle cx="1609.3" cy="1933.9" r="11.2"/><circle cx="1548.5" cy="1834.7" r="11.2"/><circle cx="1568.3" cy="1981.6" r="11.2"/><circle cx="1676.7" cy="1862.8" r="11.2"/><circle cx="1616.6" cy="1900.1" r="11.2"/><circle cx="1569.2" cy="1873.8" r="11.2"/><circle cx="1547.4" cy="1820.1" r="11.2"/><circle cx="1561.1" cy="1972.5" r="11.2"/><circle cx="1670.6" cy="1887.6" r="11.2"/><circle cx="1651.8" cy="1836.9" r="11.2"/><circle cx="1654.2" cy="1892.2" r="11.2"/><circle cx="1589.7" cy="1923.1" r="11.2"/><circle cx="1615.5" cy="2021.7" r="11.2"/><circle cx="1551.1" cy="1889.5" r="11.2"/><circle cx="1650.6" cy="1895.6" r="11.2"/><circle cx="1760.8" cy="1911.4" r="11.2"/><circle cx="1483.6" cy="1861.0" r="11.2"/><circle cx="1596.6" cy="1936.4" r="11.2"/><circle cx="1698.6" cy="1852.2" r="11.2"/><circle cx="1636.3" cy="1901.6" r="11.2"/><circle cx="1753.7" cy="1909.3" r="11.2"/><circle cx="1599.8" cy="1878.3" r="11.2"/><circle cx="1664.9" cy="1803.9" r="11.2"/><circle cx="1553.5" cy="1844.1" r="11.2"/><circle cx="1512.5" cy="1935.8" r="11.2"/><circle cx="1484.9" cy="1985.4" r="11.2"/><circle cx="1524.3" cy="1853.2" r="11.2"/><circle cx="1586.7" cy="1894.2" r="11.2"/><circle cx="1448.0" cy="1879.6" r="11.2"/><circle cx="1641.1" cy="1943.0" r="11.2"/><circle cx="1615.9" cy="1941.7" r="11.2"/><circle cx="1662.8" cy="1833.6" r="11.2"/><circle cx="1707.3" cy="1935.5" r="11.2"/><circle cx="1618.8" cy="1887.3" r="11.2"/><circle cx="1629.4" cy="1909.2" r="11.2"/><circle cx="1598.2" cy="1844.7" r="11.2"/><circle cx="1685.0" cy="1903.8" r="11.2"/><circle cx="1661.7" cy="1970.4" r="11.2"/><circle cx="1550.1" cy="1926.9" r="11.2"/><circle cx="1614.2" cy="1914.4" r="11.2"/><circle cx="1572.6" cy="1972.9" r="11.2"/><circle cx="1521.4" cy="1882.0" r="11.2"/><circle cx="1637.7" cy="1914.3" r="11.2"/><circle cx="1635.0" cy="1808.6" r="11.2"/><circle cx="1513.2" cy="1775.4" r="11.2"/><circle cx="1579.9" cy="1988.2" r="11.2"/><circle cx="1599.2" cy="1976.1" r="11.2"/><circle cx="1698.5" cy="1864.6" r="11.2"/><circle cx="1447.3" cy="1786.6" r="11.2"/><circle cx="1566.0" cy="1902.7" r="11.2"/><circle cx="1739.9" cy="1875.4" r="11.2"/><circle cx="1595.6" cy="1941.3" r="11.2"/><circle cx="1658.6" cy="1903.4" r="11.2"/><circle cx="1726.5" cy="1890.3" r="11.2"/><circle cx="1635.5" cy="1857.7" r="11.2"/><circle cx="1692.6" cy="1823.6" r="11.2"/><circle cx="1690.2" cy="1852.7" r="11.2"/><circle cx="1715.2" cy="1862.9" r="11.2"/><circle cx="1733.0" cy="1999.9" r="11.2"/><circle cx="1567.6" cy="2024.7" r="11.2"/><circle cx="1548.0" cy="1882.1" r="11.2"/><circle cx="1548.4" cy="1893.1" r="11.2"/><circle cx="1646.6" cy="1908.4" r="11.2"/><circle cx="1774.0" cy="1963.4" r="11.2"/><circle cx="1615.1" cy="1910.1" r="11.2"/><circle cx="1532.8" cy="1948.1" r="11.2"/><circle cx="1507.1" cy="1804.1" r="11.2"/><circle cx="1507.8" cy="2016.2" r="11.2"/><circle cx="1671.8" cy="1902.5" r="11.2"/><circle cx="1509.9" cy="1905.0" r="11.2"/><circle cx="1503.2" cy="1950.3" r="11.2"/><circle cx="1624.3" cy="1899.8" r="11.2"/><circle cx="1536.6" cy="1952.9" r="11.2"/><circle cx="1622.4" cy="1937.2" r="11.2"/><circle cx="1569.9" cy="1849.5" r="11.2"/><circle cx="1617.7" cy="1914.0" r="11.2"/><circle cx="1662.3" cy="1955.5" r="11.2"/><circle cx="1549.4" cy="1928.4" r="11.2"/><circle cx="1682.9" cy="1925.1" r="11.2"/><circle cx="1511.7" cy="1952.0" r="11.2"/><circle cx="1709.7" cy="1954.7" r="11.2"/><circle cx="1524.6" cy="1968.8" r="11.2"/><circle cx="1602.9" cy="1865.7" r="11.2"/><circle cx="1603.9" cy="1846.4" r="11.2"/><circle cx="1633.1" cy="1889.7" r="11.2"/><circle cx="1587.7" cy="1964.6" r="11.2"/><circle cx="1603.4" cy="1955.5" r="11.2"/><circle cx="1572.7" cy="1880.1" r="11.2"/><circle cx="1666.6" cy="1863.3" r="11.2"/><circle cx="1757.7" cy="1969.4" r="11.2"/><circle cx="1664.6" cy="1956.9" r="11.2"/><circle cx="1760.1" cy="1989.9" r="11.2"/><circle cx="1589.4" cy="1964.8" r="11.2"/><circle cx="1669.3" cy="1894.1" r="11.2"/><circle cx="1733.6" cy="1942.1" r="11.2"/><circle cx="1664.9" cy="1908.5" r="11.2"/><circle cx="1624.7" cy="1908.5" r="11.2"/><circle cx="1609.9" cy="1916.5" r="11.2"/><circle cx="1711.9" cy="1871.1" r="11.2"/><circle cx="1755.5" cy="1918.7" r="11.2"/><circle cx="1637.2" cy="2019.4" r="11.2"/><circle cx="1664.7" cy="1906.6" r="11.2"/><circle cx="1522.0" cy="1978.2" r="11.2"/><circle cx="1645.9" cy="1953.9" r="11.2"/><circle cx="1713.4" cy="1815.5" r="11.2"/><circle cx="1655.7" cy="1891.2" r="11.2"/><circle cx="1703.8" cy="1914.0" r="11.2"/><circle cx="1692.6" cy="1826.2" r="11.2"/><circle cx="1520.6" cy="1944.6" r="11.2"/><circle cx="1482.6" cy="1937.8" r="11.2"/><circle cx="1593.7" cy="1994.2" r="11.2"/><circle cx="1686.6" cy="1963.2" r="11.2"/><circle cx="1597.0" cy="1948.6" r="11.2"/><circle cx="1622.9" cy="1914.6" r="11.2"/><circle cx="1723.9" cy="1948.4" r="11.2"/><circle cx="1565.8" cy="1826.6" r="11.2"/><circle cx="1527.7" cy="1931.9" r="11.2"/><circle cx="1522.1" cy="1960.8" r="11.2"/><circle cx="1683.2" cy="1796.3" r="11.2"/><circle cx="1597.1" cy="1863.4" r="11.2"/><circle cx="1664.0" cy="1831.2" r="11.2"/><circle cx="1617.8" cy="1804.3" r="11.2"/><circle cx="1633.2" cy="1921.5" r="11.2"/><circle cx="1647.7" cy="1815.6" r="11.2"/><circle cx="1649.5" cy="1901.9" r="11.2"/><circle cx="1522.2" cy="1939.4" r="11.2"/><circle cx="1713.2" cy="1962.4" r="11.2"/><circle cx="1560.5" cy="1969.6" r="11.2"/><circle cx="1616.8" cy="1941.9" r="11.2"/><circle cx="1698.0" cy="1970.7" r="11.2"/><circle cx="1603.2" cy="1884.6" r="11.2"/><circle cx="1740.0" cy="1972.2" r="11.2"/><circle cx="1769.4" cy="1884.7" r="11.2"/><circle cx="1649.1" cy="1920.7" r="11.2"/><circle cx="1664.3" cy="1847.0" r="11.2"/><circle cx="1661.7" cy="1905.5" r="11.2"/><circle cx="1612.0" cy="1942.8" r="11.2"/><circle cx="1748.8" cy="1921.0" r="11.2"/><circle cx="1686.6" cy="1917.0" r="11.2"/><circle cx="1582.5" cy="1808.5" r="11.2"/><circle cx="1639.7" cy="1858.7" r="11.2"/><circle cx="1678.6" cy="1970.8" r="11.2"/><circle cx="1669.9" cy="1810.7" r="11.2"/><circle cx="1620.2" cy="1840.1" r="11.2"/><circle cx="1589.1" cy="1775.7" r="11.2"/><circle cx="1591.6" cy="1878.4" r="11.2"/><circle cx="1634.8" cy="1886.2" r="11.2"/><circle cx="1692.2" cy="1903.3" r="11.2"/><circle cx="1476.9" cy="2009.8" r="11.2"/><circle cx="1617.5" cy="1838.3" r="11.2"/><circle cx="1550.8" cy="1873.1" r="11.2"/><circle cx="1714.6" cy="1852.5" r="11.2"/><circle cx="1502.8" cy="2002.9" r="11.2"/><circle cx="1657.8" cy="1845.4" r="11.2"/><circle cx="1651.7" cy="1895.2" r="11.2"/><circle cx="1687.3" cy="1855.3" r="11.2"/><circle cx="1460.9" cy="1909.5" r="11.2"/><circle cx="1549.5" cy="1929.1" r="11.2"/><circle cx="1634.4" cy="1987.7" r="11.2"/><circle cx="1600.5" cy="1815.3" r="11.2"/><circle cx="1713.0" cy="1999.2" r="11.2"/><circle cx="1585.7" cy="1901.5" r="11.2"/><circle cx="1636.0" cy="1928.9" r="11.2"/><circle cx="1684.9" cy="1954.6" r="11.2"/><circle cx="1626.5" cy="1810.3" r="11.2"/><circle cx="1511.8" cy="1820.4" r="11.2"/><circle cx="1706.5" cy="1863.7" r="11.2"/><circle cx="1680.9" cy="1837.2" r="11.2"/><circle cx="1630.2" cy="1794.9" r="11.2"/><circle cx="1704.6" cy="1862.0" r="11.2"/><circle cx="1649.9" cy="1910.0" r="11.2"/><circle cx="1595.9" cy="1823.5" r="11.2"/><circle cx="1653.0" cy="1870.3" r="11.2"/><circle cx="1590.3" cy="1903.1" r="11.2"/><circle cx="1612.7" cy="1878.2" r="11.2"/><circle cx="1665.5" cy="1798.2" r="11.2"/><circle cx="1498.8" cy="1986.1" r="11.2"/><circle cx="1518.3" cy="1975.5" r="11.2"/><circle cx="1589.9" cy="1989.3" r="11.2"/><circle cx="1681.0" cy="1933.7" r="11.2"/><circle cx="1492.0" cy="1973.8" r="11.2"/><circle cx="1642.1" cy="1875.8" r="11.2"/><circle cx="1475.3" cy="1927.6" r="11.2"/><circle cx="1713.2" cy="1892.0" r="11.2"/><circle cx="1699.3" cy="1986.2" r="11.2"/><circle cx="1663.2" cy="1973.0" r="11.2"/><circle cx="1613.4" cy="1920.0" r="11.2"/><circle cx="1706.9" cy="1908.4" r="11.2"/><circle cx="1734.3" cy="1923.7" r="11.2"/><circle cx="1621.5" cy="1806.1" r="11.2"/><circle cx="1512.7" cy="1899.9" r="11.2"/><circle cx="1671.6" cy="1862.5" r="11.2"/><circle cx="1586.1" cy="1879.0" r="11.2"/><circle cx="1565.1" cy="1977.0" r="11.2"/><circle cx="1681.2" cy="1916.7" r="11.2"/><circle cx="1509.1" cy="1951.3" r="11.2"/><circle cx="1592.5" cy="1894.0" r="11.2"/><circle cx="1605.4" cy="1882.4" r="11.2"/><circle cx="1522.4" cy="2026.3" r="11.2"/><circle cx="1616.7" cy="1899.3" r="11.2"/><circle cx="1629.6" cy="1946.2" r="11.2"/><circle cx="1686.4" cy="1986.7" r="11.2"/><circle cx="1610.5" cy="1985.7" r="11.2"/><circle cx="1471.1" cy="1863.1" r="11.2"/><circle cx="1622.2" cy="1903.2" r="11.2"/><circle cx="1559.8" cy="1842.0" r="11.2"/><circle cx="1714.0" cy="1914.3" r="11.2"/><circle cx="1489.8" cy="1861.3" r="11.2"/><circle cx="1551.2" cy="1841.5" r="11.2"/><circle cx="1636.4" cy="1889.3" r="11.2"/><circle cx="1558.1" cy="1969.8" r="11.2"/><circle cx="1542.8" cy="2010.1" r="11.2"/><circle cx="1587.8" cy="1988.5" r="11.2"/><circle cx="1530.3" cy="1884.7" r="11.2"/><circle cx="1755.8" cy="1786.8" r="11.2"/><circle cx="1696.6" cy="1893.6" r="11.2"/><circle cx="1582.1" cy="1893.0" r="11.2"/><circle cx="1646.2" cy="1821.5" r="11.2"/><circle cx="1528.8" cy="1906.6" r="11.2"/><circle cx="1589.1" cy="1928.9" r="11.2"/><circle cx="1506.7" cy="1924.5" r="11.2"/><circle cx="1678.0" cy="1921.0" r="11.2"/><circle cx="1590.5" cy="1995.9" r="11.2"/><circle cx="1460.7" cy="1907.2" r="11.2"/><circle cx="1585.3" cy="1921.6" r="11.2"/><circle cx="1621.5" cy="1913.9" r="11.2"/><circle cx="1536.4" cy="1902.4" r="11.2"/><circle cx="1530.8" cy="1948.9" r="11.2"/><circle cx="1565.2" cy="1871.9" r="11.2"/><circle cx="1607.6" cy="1868.4" r="11.2"/><circle cx="1582.8" cy="1849.7" r="11.2"/><circle cx="1644.3" cy="1789.3" r="11.2"/><circle cx="1588.2" cy="1902.5" r="11.2"/><circle cx="1619.3" cy="1894.4" r="11.2"/><circle cx="1674.0" cy="1916.5" r="11.2"/><circle cx="1646.1" cy="1846.1" r="11.2"/><circle cx="1600.1" cy="1833.9" r="11.2"/><circle cx="1615.5" cy="1895.4" r="11.2"/><circle cx="1703.9" cy="1875.4" r="11.2"/><circle cx="1715.1" cy="1935.7" r="11.2"/><circle cx="1687.3" cy="1852.9" r="11.2"/><circle cx="1603.6" cy="1879.9" r="11.2"/><circle cx="1659.4" cy="1944.7" r="11.2"/><circle cx="1732.6" cy="1919.3" r="11.2"/><circle cx="1714.3" cy="1902.1" r="11.2"/><circle cx="1605.3" cy="1870.4" r="11.2"/><circle cx="1732.4" cy="1898.9" r="11.2"/><circle cx="1626.1" cy="1807.6" r="11.2"/><circle cx="1552.4" cy="1877.2" r="11.2"/><circle cx="1527.2" cy="1843.9" r="11.2"/><circle cx="1618.2" cy="1905.6" r="11.2"/><circle cx="1683.8" cy="1881.5" r="11.2"/><circle cx="1534.2" cy="1995.2" r="11.2"/><circle cx="1635.0" cy="1854.3" r="11.2"/><circle cx="1634.9" cy="1874.7" r="11.2"/><circle cx="1712.5" cy="1855.3" r="11.2"/><circle cx="1713.6" cy="1891.7" r="11.2"/><circle cx="1606.2" cy="1853.8" r="11.2"/><circle cx="1621.8" cy="1916.1" r="11.2"/><circle cx="1600.3" cy="1910.3" r="11.2"/><circle cx="1672.4" cy="1918.7" r="11.2"/><circle cx="1621.4" cy="1851.0" r="11.2"/><circle cx="1470.6" cy="1926.0" r="11.2"/><circle cx="1614.9" cy="1885.0" r="11.2"/><circle cx="1736.2" cy="1863.0" r="11.2"/><circle cx="1637.8" cy="1914.7" r="11.2"/><circle cx="1673.7" cy="1870.4" r="11.2"/><circle cx="1559.6" cy="1896.7" r="11.2"/><circle cx="1619.8" cy="1838.6" r="11.2"/><circle cx="1544.5" cy="1787.2" r="11.2"/><circle cx="1684.7" cy="1935.6" r="11.2"/><circle cx="1606.1" cy="1791.1" r="11.2"/><circle cx="1676.5" cy="1855.5" r="11.2"/><circle cx="1578.2" cy="1832.6" r="11.2"/><circle cx="1654.7" cy="1872.3" r="11.2"/><circle cx="1668.8" cy="1916.2" r="11.2"/><circle cx="1572.1" cy="1986.0" r="11.2"/><circle cx="1576.0" cy="1868.8" r="11.2"/><circle cx="1702.3" cy="1916.7" r="11.2"/><circle cx="1658.3" cy="1895.7" r="11.2"/><circle cx="1692.8" cy="1868.9" r="11.2"/><circle cx="1567.0" cy="1865.1" r="11.2"/><circle cx="1761.3" cy="1865.5" r="11.2"/><circle cx="1579.4" cy="1839.8" r="11.2"/><circle cx="1574.5" cy="1878.7" r="11.2"/><circle cx="1505.3" cy="1809.5" r="11.2"/><circle cx="1705.6" cy="1928.5" r="11.2"/><circle cx="1526.9" cy="1902.4" r="11.2"/><circle cx="1730.1" cy="1894.7" r="11.2"/><circle cx="1592.2" cy="1906.4" r="11.2"/><circle cx="1579.2" cy="2014.5" r="11.2"/><circle cx="1530.1" cy="1832.0" r="11.2"/><circle cx="1774.3" cy="1841.2" r="11.2"/><circle cx="1732.4" cy="1857.0" r="11.2"/><circle cx="1602.0" cy="1898.4" r="11.2"/><circle cx="1709.2" cy="1875.1" r="11.2"/><circle cx="1599.2" cy="1951.6" r="11.2"/><circle cx="1628.6" cy="1800.6" r="11.2"/><circle cx="1612.7" cy="1933.1" r="11.2"/><circle cx="1590.7" cy="1916.7" r="11.2"/><circle cx="1501.7" cy="1829.2" r="11.2"/><circle cx="1588.0" cy="1918.5" r="11.2"/><circle cx="1671.5" cy="1887.1" r="11.2"/><circle cx="1663.3" cy="1964.6" r="11.2"/><circle cx="1592.6" cy="1851.1" r="11.2"/><circle cx="1674.9" cy="1933.3" r="11.2"/><circle cx="1780.2" cy="1789.8" r="11.2"/><circle cx="1629.3" cy="1989.4" r="11.2"/><circle cx="1661.2" cy="1794.5" r="11.2"/><circle cx="1645.0" cy="1901.1" r="11.2"/><circle cx="1714.0" cy="1937.9" r="11.2"/><circle cx="1678.1" cy="2023.6" r="11.2"/><circle cx="1626.6" cy="1963.4" r="11.2"/><circle cx="1738.9" cy="1993.7" r="11.2"/><circle cx="1635.5" cy="1945.6" r="11.2"/><circle cx="1608.0" cy="1937.1" r="11.2"/><circle cx="1749.1" cy="1952.6" r="11.2"/><circle cx="1682.5" cy="1926.0" r="11.2"/><circle cx="1725.0" cy="1911.1" r="11.2"/><circle cx="1446.2" cy="1896.4" r="11.2"/><circle cx="1677.8" cy="1939.0" r="11.2"/><circle cx="1764.3" cy="1842.8" r="11.2"/><circle cx="1666.6" cy="1879.9" r="11.2"/><circle cx="1668.7" cy="1943.7" r="11.2"/><circle cx="1571.4" cy="1967.7" r="11.2"/></g>
<polygon points="1239.3,1885.4 1254.8,1887.4 1270.4,1889.4 1285.9,1891.4 1301.5,1893.4 1317.0,1895.3 1332.5,1897.2 1348.1,1899.1 1363.6,1900.9 1379.1,1902.6 1394.7,1904.2 1410.2,1905.6 1425.8,1906.8 1441.3,1907.7 1456.8,1908.1 1472.4,1907.8 1487.9,1906.9 1503.4,1905.5 1519.0,1903.6 1534.5,1901.4 1550.0,1899.0 1565.6,1896.4 1581.1,1893.7 1596.7,1891.0 1612.2,1888.2 1612.2,1939.2 1596.7,1937.3 1581.1,1935.5 1565.6,1933.8 1550.0,1932.1 1534.5,1930.6 1519.0,1929.3 1503.4,1928.3 1487.9,1927.8 1472.4,1927.8 1456.8,1928.5 1441.3,1929.8 1425.8,1931.6 1410.2,1933.7 1394.7,1936.0 1379.1,1938.6 1363.6,1941.2 1348.1,1943.9 1332.5,1946.7 1317.0,1949.5 1301.5,1952.4 1285.9,1955.3 1270.4,1958.2 1254.8,1961.1 1239.3,1964.0" fill="#7fbcc6" fill-opacity="0.360"/>
<polygon points="1345.3,1850.0 1359.8,1852.7 1374.2,1855.4 1388.7,1858.1 1403.2,1860.8 1417.7,1863.5 1432.2,1866.1 1446.6,1868.7 1461.1,1871.2 1475.6,1873.7 1490.0,1876.1 1504.5,1878.4 1519.0,1880.5 1533.5,1882.4 1548.0,1883.9 1562.4,1884.9 1576.9,1885.3 1591.4,1885.0 1605.8,1883.9 1620.3,1882.3 1634.8,1880.3 1649.3,1878.0 1663.8,1875.4 1678.2,1872.8 1692.7,1870.0 1692.7,1922.0 1678.2,1919.6 1663.8,1917.2 1649.3,1915.0 1634.8,1913.0 1620.3,1911.3 1605.8,1910.1 1591.4,1909.4 1576.9,1909.4 1562.4,1910.1 1548.0,1911.4 1533.5,1913.3 1519.0,1915.5 1504.5,1917.9 1490.0,1920.6 1475.6,1923.3 1461.1,1926.1 1446.6,1929.0 1432.2,1931.9 1417.7,1934.9 1403.2,1937.9 1388.7,1940.9 1374.2,1943.9 1359.8,1946.9 1345.3,1950.0" fill="#8ab4e0" fill-opacity="0.330"/>
<polygon points="1355.9,1898.2 1371.2,1897.7 1386.4,1897.1 1401.7,1896.5 1417.0,1895.9 1432.2,1895.3 1447.5,1894.7 1462.7,1894.0 1478.0,1893.3 1493.3,1892.5 1508.5,1891.5 1523.8,1890.5 1539.1,1889.2 1554.3,1887.5 1569.6,1885.3 1584.8,1882.4 1600.1,1878.6 1615.4,1874.1 1630.6,1869.0 1645.9,1863.5 1661.2,1857.9 1676.4,1852.0 1691.7,1846.0 1706.9,1840.0 1722.2,1833.9 1722.2,1889.9 1706.9,1890.6 1691.7,1891.3 1676.4,1892.1 1661.2,1893.0 1645.9,1894.1 1630.6,1895.4 1615.4,1897.1 1600.1,1899.4 1584.8,1902.4 1569.6,1906.2 1554.3,1910.8 1539.1,1915.9 1523.8,1921.4 1508.5,1927.1 1493.3,1933.0 1478.0,1938.9 1462.7,1945.0 1447.5,1951.1 1432.2,1957.2 1417.0,1963.4 1401.7,1969.6 1386.4,1975.8 1371.2,1982.0 1355.9,1988.2" fill="#f5b070" fill-opacity="0.250"/>
<polygon points="1480.7,1904.3 1495.5,1903.6 1510.4,1902.9 1525.2,1902.2 1540.0,1901.4 1554.9,1900.5 1569.7,1899.5 1584.6,1898.4 1599.4,1897.2 1614.2,1895.6 1629.1,1893.6 1643.9,1891.1 1658.8,1887.9 1673.6,1884.1 1688.4,1879.7 1703.3,1875.0 1718.1,1870.0 1732.9,1864.9 1747.8,1859.6 1762.6,1854.2 1777.5,1848.8 1792.3,1843.3 1807.1,1837.8 1822.0,1832.3 1836.8,1826.7 1836.8,1894.7 1822.0,1895.4 1807.1,1896.0 1792.3,1896.7 1777.5,1897.5 1762.6,1898.3 1747.8,1899.1 1732.9,1900.0 1718.1,1901.1 1703.3,1902.3 1688.4,1903.8 1673.6,1905.7 1658.8,1908.1 1643.9,1911.2 1629.1,1914.8 1614.2,1919.1 1599.4,1923.7 1584.6,1928.6 1569.7,1933.8 1554.9,1939.0 1540.0,1944.4 1525.2,1949.8 1510.4,1955.3 1495.5,1960.8 1480.7,1966.3" fill="#d9695a" fill-opacity="0.250"/>
<line x1="1239.30" y1="1924.70" x2="1612.20" y2="1913.70" stroke="#0d7b8a" stroke-width="11.0" stroke-dasharray="42 43"/>
<line x1="1345.30" y1="1900.00" x2="1692.70" y2="1896.00" stroke="#3a7fc4" stroke-width="11.0" stroke-dasharray="42 43"/>
<line x1="1355.90" y1="1943.20" x2="1722.20" y2="1861.90" stroke="#e6892a" stroke-width="11.0"/>
<line x1="1480.70" y1="1935.30" x2="1836.80" y2="1860.70" stroke="#c23b22" stroke-width="11.0"/>
<line x1="1213.1" y1="1340.0" x2="1213.1" y2="2121.6" stroke="#000" stroke-width="5.0"/>
<line x1="1210.0" y1="2119.3" x2="1866.2" y2="2119.3" stroke="#000" stroke-width="5.0"/>
<line x1="1200.6" y1="1373.1" x2="1211.1" y2="1373.1" stroke="#000" stroke-width="4.6"/>
<line x1="1200.6" y1="1627.0" x2="1211.1" y2="1627.0" stroke="#000" stroke-width="4.6"/>
<line x1="1200.6" y1="1881.0" x2="1211.1" y2="1881.0" stroke="#000" stroke-width="4.6"/>
<line x1="1296.2" y1="2121.3" x2="1296.2" y2="2131.8" stroke="#000" stroke-width="4.8"/>
<line x1="1453.2" y1="2121.3" x2="1453.2" y2="2131.8" stroke="#000" stroke-width="4.8"/>
<line x1="1610.3" y1="2121.3" x2="1610.3" y2="2131.8" stroke="#000" stroke-width="4.8"/>
<line x1="1767.3" y1="2121.3" x2="1767.3" y2="2131.8" stroke="#000" stroke-width="4.8"/>
<text x="1088.19" y="1390.70" font-size="50.00" fill="#000">3.00</text>
<text x="1088.19" y="1644.60" font-size="50.00" fill="#000">2.00</text>
<text x="1088.19" y="1898.60" font-size="50.00" fill="#000">1.00</text>
<text x="1267.60" y="2190.00" font-size="50.00" fill="#000">−2</text>
<text x="1424.60" y="2190.00" font-size="50.00" fill="#000">−1</text>
<text x="1596.80" y="2190.00" font-size="50.00" fill="#000">0</text>
<text x="1752.80" y="2190.00" font-size="50.00" fill="#000">1</text>
<text transform="translate(1162.79 2255.40) scale(1.0020 1)" font-size="58.00" fill="#000"><tspan>log10(Average area of crops)</tspan></text>
<text transform="translate(1051.10 2095.90) rotate(-90) scale(1.0016 1)" font-size="58.00" fill="#000">log10(Average crop stability)</text>
<text transform="translate(1884.06 1329.80) scale(1.0144 1)" font-size="58.00" fill="#000"><tspan>(d)</tspan></text>
<text transform="translate(1246.00 1390.70) scale(1.0017 1)" font-size="41.50" fill="#000"><tspan font-weight="bold" fill="#c8161e">SL</tspan><tspan>:slope = 0.133 ± 0.05 ***</tspan></text>
<text transform="translate(1244.99 1436.00) scale(1.0038 1)" font-size="41.50" fill="#000"><tspan font-weight="bold" fill="#f6b226">M</tspan><tspan>: slope = 0.138 ±0.06 ***</tspan></text>
<text transform="translate(1244.98 1482.30) scale(1.0098 1)" font-size="41.50" fill="#000"><tspan font-weight="bold" fill="#215a6b">MS</tspan><tspan>: slope = 0.015 ± 0.07</tspan></text>
<text transform="translate(1246.00 1528.50) scale(1.0037 1)" font-size="41.50" fill="#000"><tspan font-weight="bold" fill="#4e6437">S</tspan><tspan>: slope = 0.020 ± 0.05</tspan></text>
</svg>
</body></html>
